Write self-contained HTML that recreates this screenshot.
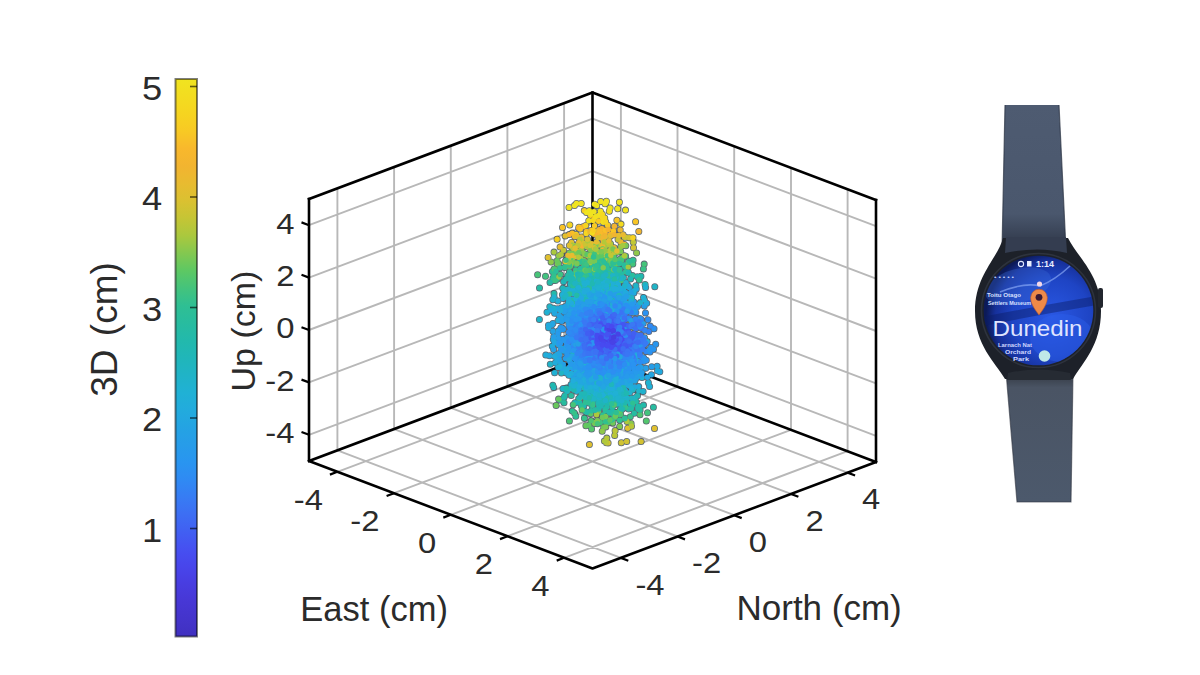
<!DOCTYPE html>
<html><head><meta charset="utf-8"><style>html,body{margin:0;padding:0;background:#fff;}svg{display:block;}svg text{font-family:"Liberation Sans",sans-serif;}</style></head>
<body><svg width="1200" height="675" viewBox="0 0 1200 675" fill="#2b2b2b"><defs><linearGradient id="cb" x1="0" y1="0" x2="0" y2="1"><stop offset="0.0000" stop-color="#f0e420"/><stop offset="0.0312" stop-color="#f3dc20"/><stop offset="0.0625" stop-color="#f6d420"/><stop offset="0.0938" stop-color="#f8c924"/><stop offset="0.1250" stop-color="#f8b82c"/><stop offset="0.1562" stop-color="#f2b430"/><stop offset="0.1875" stop-color="#e8bb30"/><stop offset="0.2188" stop-color="#dac131"/><stop offset="0.2500" stop-color="#c5c535"/><stop offset="0.2812" stop-color="#aac83e"/><stop offset="0.3125" stop-color="#83c850"/><stop offset="0.3438" stop-color="#5dc863"/><stop offset="0.3750" stop-color="#44c37c"/><stop offset="0.4062" stop-color="#2fbf93"/><stop offset="0.4375" stop-color="#28bc9f"/><stop offset="0.4688" stop-color="#22b9ac"/><stop offset="0.5000" stop-color="#20b6b9"/><stop offset="0.5312" stop-color="#20b3c7"/><stop offset="0.5625" stop-color="#20b1d5"/><stop offset="0.5938" stop-color="#22abdd"/><stop offset="0.6250" stop-color="#24a3e3"/><stop offset="0.6562" stop-color="#279ce9"/><stop offset="0.6875" stop-color="#2995f0"/><stop offset="0.7188" stop-color="#2f8af3"/><stop offset="0.7500" stop-color="#377cf4"/><stop offset="0.7812" stop-color="#3d6ef3"/><stop offset="0.8125" stop-color="#415ff2"/><stop offset="0.8438" stop-color="#4650f1"/><stop offset="0.8750" stop-color="#4845eb"/><stop offset="0.9062" stop-color="#483de0"/><stop offset="0.9375" stop-color="#4737d5"/><stop offset="0.9688" stop-color="#4434cb"/><stop offset="1.0000" stop-color="#4030c0"/></linearGradient><clipPath id="scrclip"><circle cx="1038.5" cy="310.5" r="54.8"/></clipPath><radialGradient id="scr" cx="0.62" cy="0.56" r="0.6"><stop offset="0" stop-color="#2a58e4"/><stop offset="0.6" stop-color="#1e44c4"/><stop offset="0.86" stop-color="#16309a"/><stop offset="1" stop-color="#0c1a58"/></radialGradient><linearGradient id="strapT" x1="0" y1="105" x2="0" y2="250" gradientUnits="userSpaceOnUse"><stop offset="0" stop-color="#4e5b71"/><stop offset="0.75" stop-color="#4a576d"/><stop offset="1" stop-color="#2c3445"/></linearGradient><linearGradient id="strapB" x1="0" y1="372" x2="0" y2="502" gradientUnits="userSpaceOnUse"><stop offset="0" stop-color="#30363f"/><stop offset="0.12" stop-color="#4a5464"/><stop offset="1" stop-color="#4c596c"/></linearGradient></defs><rect width="1200" height="675" fill="#fff"/><path d="M337.4 471.8L620.9 365.2M337.4 450.4L620.9 557.9M337.4 450.4L337.4 188.4M309 434.8L592.5 328.3M620.9 365.2L620.9 103.2M592.5 328.3L876 435.8M394 493.2L677.5 386.8M394.1 429.1L677.5 536.5M394.1 429.1L394.1 167.1M309 382.4L592.5 275.9M677.5 386.8L677.5 124.8M592.5 275.9L876 383.4M450.8 514.8L734.2 408.2M450.8 407.8L734.2 515.2M450.8 407.8L450.8 145.8M309 330L592.5 223.5M734.2 408.2L734.2 146.2M592.5 223.5L876 331M507.5 536.2L791 429.8M507.4 386.4L791 493.9M507.4 386.4L507.4 124.4M309 277.6L592.5 171.1M791 429.8L791 167.8M592.5 171.1L876 278.6M564.1 557.8L847.6 451.2M564.1 365.1L847.6 472.6M564.1 365.1L564.1 103.2M309 225.2L592.5 118.7M847.6 451.2L847.6 189.2M592.5 118.7L876 226.2" stroke="#b8b8b8" stroke-width="1.9" fill="none"/><path d="M592.5 92.5L592.5 354.5" stroke="#000" stroke-width="2.6" fill="none" stroke-linejoin="round" stroke-linecap="square"/><path d="M309 461L592.5 354.5L876 462" stroke="#000" stroke-width="2.6" fill="none" stroke-linejoin="round" stroke-linecap="square"/><path d="M609.3 211.2h0M557.1 239.3h0M620.8 241.9h0M569 207.5h0M594.5 225.8h0M574.5 205.6h0M610.1 208h0M605.8 245h0M586.5 231.5h0M590.5 258.6h0M581 249.6h0M585.9 245.7h0M613 255.4h0M605 203.7h0M625.5 210.1h0M576.1 234.5h0M619.7 426.4h0M589.5 274.1h0M563.5 250.2h0M609.4 260.6h0M588.3 255.7h0M581.7 250.1h0M586.5 279.1h0M614.7 435.4h0M557.5 263.7h0M618.1 239.5h0M593.2 251.5h0M609.2 260.2h0M603.6 220.4h0M614.2 247.7h0M645.1 284.4h0M598.2 215.7h0M583.9 266.1h0M593.9 211.6h0M572.1 259h0M625.6 400.9h0M537.6 274.7h0M583 243.4h0M577.3 263.1h0M599.9 301.6h0M611.7 273.3h0M594.1 266.2h0M625.1 266.4h0M560.1 247h0M612.5 411.2h0M593.6 266.3h0M588.8 271.9h0M608.5 391.1h0M603.1 244.3h0M596.4 251.7h0M589.5 294.8h0M594 234.2h0M587.1 262.8h0M600.7 201.5h0M575.2 256.6h0M605.4 400.2h0M592.5 402.2h0M598.7 221.2h0M593.3 264.4h0M605.7 284.1h0M606.5 253.9h0M578.7 398.6h0M616.9 220.2h0M611.6 264.4h0M612.3 285.1h0M640.9 276.2h0M575.3 275.7h0M602.9 237.3h0M601.4 276.2h0M578.9 227.2h0M579.2 243.8h0M592.2 265.2h0M594.8 256.8h0M628.3 273.1h0M609.2 263h0M593.7 389.8h0M539.5 288h0M597.7 279h0M613.8 256.4h0M611.3 391.6h0M625.6 256.2h0M582.2 246h0M630.3 404h0M596.7 205.4h0M569.4 271.7h0M587.9 247h0M563 298.5h0M606.3 277.4h0M586.4 291.3h0M602.6 305.6h0M638.7 386.6h0M605.1 246.8h0M621.6 397.5h0M598.6 391.8h0M608.3 389.7h0M580.7 291.9h0M609.6 398.3h0M620.1 259.2h0M616.3 383.5h0M576.5 250.9h0M591.5 230.3h0M602.1 394.7h0M589.4 444.6h0M603.7 289.9h0M597.2 265.8h0M621.2 404.6h0M592.2 376h0M602.7 417h0M574.5 381.3h0M643.5 405.1h0M600.4 211.3h0M615 403.6h0M612.8 423h0M604.9 288.1h0M579.2 292.3h0M572.8 299.3h0M586.8 242.1h0M609.8 294.4h0M581.7 304.6h0M601.8 371.4h0M577.5 284h0M601.8 229h0M618.8 297.4h0M579.2 379.4h0M571.5 242.5h0M582 296.6h0M616.1 304.7h0M631.7 297.6h0M589.9 302.1h0M586.4 246.5h0M589.1 360.1h0M617.7 277.2h0M610.6 234.4h0M619.8 269.3h0M625.3 394.7h0M606.9 407h0M568.8 290.2h0M579.7 272.6h0M594.7 296.6h0M579.4 290.6h0M616.3 283.7h0M612.4 375.3h0M606.5 283.7h0M608.2 288.2h0M606.7 289.1h0M579.4 262.5h0M591.8 243.7h0M608.1 385.1h0M604.4 267.5h0M577.2 351.8h0M618.1 379.6h0M559.9 400h0M580.8 276.4h0M605 318.5h0M594.6 274.6h0M594.7 376.1h0M583.2 294.8h0M621.3 280.5h0M579.4 376h0M580.8 371.2h0M575 402.8h0M603.5 384.8h0M569.9 259.3h0M611.9 400.5h0M610.2 386.3h0M547 312.2h0M596.5 303.4h0M606 302.2h0M626 293.9h0M569.4 420.9h0M608.4 288.9h0M621.4 273.6h0M632.4 275.5h0M576 379h0M586.7 266.6h0M571.2 357.6h0M577.8 298.7h0M565.6 358.4h0M602.4 283.7h0M595.7 295.2h0M594.6 390.9h0M560.3 361.9h0M602 289.1h0M633.3 242.3h0M611.3 398.8h0M585.5 280.2h0M603.8 387.4h0M579.9 313.2h0M655.7 344.2h0M594.5 204.2h0M618.7 380.7h0M618.7 235.4h0M593.8 294.6h0M585.6 280.9h0M573.6 285.5h0M596.8 360.3h0M572.2 280.5h0M614.5 383.2h0M572 326h0M599.2 279.7h0M602.5 296.9h0M597 366h0M599 383.8h0M623.5 390.7h0M595.2 233.3h0M584.3 210.6h0M582.5 279.1h0M582.4 319.6h0M578.4 272.8h0M582.3 353.8h0M591.2 280h0M551.1 262h0M605.3 294.7h0M567.4 391.1h0M643.9 361.2h0M590.5 300.6h0M613.7 352.6h0M611.2 249.2h0M618 359.5h0M601 260h0M611.8 381.4h0M601.7 289.4h0M597.9 285h0M615.2 416.2h0M593.2 266.6h0M569.6 253h0M627 421.5h0M622.3 257.6h0M605 277.7h0M602.3 394.1h0M602.9 414.9h0M643.1 391.5h0M565 289.4h0M607.7 225.2h0M601.1 360.5h0M599.9 307.5h0M595.3 410h0M611.4 368.3h0M617.6 394.6h0M602.9 332.6h0M598.9 356.2h0M612 288h0M642.6 357.7h0M605.6 287.5h0M629 363h0M626.3 363h0M569.1 274.8h0M565.3 292.8h0M600.5 308.9h0M615.7 286.7h0M633.4 365.7h0M609.5 401.8h0M590 294.4h0M595.3 379.6h0M609 312.5h0M592.4 268.4h0M595.7 250.4h0M639.4 373.3h0M620.7 251.6h0M616.5 322.7h0M578.1 386.7h0M612.2 326.5h0M596.6 301.8h0M616.1 354.3h0M604.4 341.4h0M584.1 293.6h0M582.6 302.9h0M572.3 328.6h0M619.4 273.6h0M567.3 346.3h0M620.3 388.2h0M588.2 242.1h0M600.9 362.9h0M591.6 285.8h0M633.5 341.5h0M591.2 366.2h0M584.2 317.7h0M594.8 367.7h0M606.3 376.6h0M591.3 368.6h0M611.7 380.7h0M608.6 396h0M593.6 324.5h0M611.2 381.4h0M617.5 263.9h0M594.5 364.4h0M599.7 332.4h0M574.9 291.7h0M607.4 305.3h0M591.8 292.4h0M628.6 409h0M606.2 371.4h0M605.1 387.6h0M613.5 381.7h0M599.2 229.6h0M592.8 374.1h0M607.7 297.8h0M598.2 400.6h0M607.5 308h0M606.3 265.2h0M577 367.5h0M599.3 352.2h0M647.5 412.8h0M592.9 306.6h0M584.4 384.5h0M595.2 323.9h0M572.2 245.3h0M591.8 382.5h0M594.2 218.6h0M623.6 365.4h0M607.1 326.7h0M610.7 363.7h0M589.2 382h0M618.8 278.6h0M594.9 320.8h0M623.8 358.6h0M567.7 348.4h0M577.7 335.3h0M629.8 392.6h0M586.8 349.9h0M610.8 395.5h0M583.5 345.2h0M626.9 400.9h0M620 298.1h0M599.9 360.2h0M633.5 247.8h0M602.6 291.2h0M590.1 279.6h0M598.1 316.6h0M592.3 279h0M634.6 341.9h0M590.5 383.8h0M599.7 373.6h0M618.8 330.6h0M553.7 387.4h0M596.6 298.6h0M549.5 355.8h0M616.3 366.7h0M579.5 383.9h0M602.6 325.5h0M591.4 347.5h0M612.6 313.4h0M604.1 346h0M599.9 214.6h0M621.3 365.8h0M590.1 313.4h0M587.4 274.6h0M592 345.1h0M604.9 309.3h0M552.9 278.2h0M619.9 360.9h0M599.1 333.3h0M615 381.5h0M619 295.7h0M577.4 388.5h0M600 320.5h0M645.5 312.9h0M579.9 334.4h0M608.9 355.2h0M619 384.6h0M623.9 374.9h0M585.7 398.4h0M613 284.7h0M585.6 347.7h0M603 294.5h0M613.7 361.6h0M609.5 282h0M600.2 330h0M570.3 318.3h0M624.1 264.9h0M631.3 292.8h0M597.4 331.7h0M584.1 326.7h0M598.7 313.1h0M630.1 312h0M554.7 310.7h0M644.2 344.8h0M619.4 317.4h0M637.4 306.5h0M608.1 381.8h0M632 354.8h0M583.9 357.9h0M608.2 330.8h0M605.8 350.1h0M614.6 385.3h0M587.4 326.4h0M577.7 369.9h0M597.4 338.4h0M593.5 308.9h0M598 389.3h0M631.6 306.1h0M565.8 279h0M576.2 364.7h0M570.7 276.8h0M622.6 330.2h0M625.8 341.8h0M604.4 327.7h0M586.4 334.6h0M596.8 367.5h0M571.9 247.1h0M574.3 245.6h0M622.6 356.5h0M571.1 384.6h0M589.9 326.6h0M602.8 327.8h0M570 304.9h0M573.3 350.2h0M597.5 352.4h0M630.1 381.5h0M602 323.1h0M563 388.7h0M589.4 365.8h0M593.1 357.5h0M637.4 376.7h0M598.4 370.4h0M600.5 401h0M585.7 341.6h0M618.3 329.9h0M594.2 305.5h0M573.6 350.1h0M578.3 304.1h0M616.2 300.8h0M589.1 274.4h0M601.5 234h0M608 289.7h0M607.1 370.1h0M580.8 382.3h0M611.8 270.9h0M592.5 277.4h0M590.5 325.6h0M609.5 338.7h0M607.1 302h0M620.9 365.7h0M580.6 371.1h0M611 309.4h0M590.1 319.7h0M601.7 363.3h0M620.4 370.3h0M601.5 326.2h0M609.2 336.1h0M619.2 250.7h0M588.1 361.3h0M631.8 300.6h0M620.5 327.8h0M606.9 274.7h0M625.3 356.7h0M593.4 320.4h0M552.3 346.3h0M603.2 283h0M606.5 328.7h0M602.9 298.2h0M603.2 339.5h0M586.9 298.9h0M608.5 394.3h0M600.6 237.2h0M583.6 282.4h0M601 351.1h0M580.1 262h0M595 345.5h0M606.1 318.7h0M615.5 271.4h0M576 282.7h0M606.2 326.3h0M614.6 336.9h0M618.6 394.9h0M598.7 280.7h0M611.5 313.7h0M607 288.3h0M599.3 364.9h0M573.1 351.2h0M598.5 411.5h0M602 348.2h0M558.6 330.7h0M588.9 336.9h0M583.9 253.5h0M638.5 367.7h0M627.5 349.1h0M564.5 319.3h0M597.6 305h0M562.5 227.5h0M597.1 337h0M598.8 326.9h0M613.4 343.1h0M630.7 353.3h0M572.8 366.4h0M606.8 296.8h0M646.2 351.4h0M639.8 406.9h0M609.7 378.7h0M593.9 391.8h0M606.2 383.2h0M596.6 414.7h0M627.3 331.2h0M579.1 376.3h0M604.1 321.2h0M601.9 311.2h0M599.9 359.5h0M589.1 403h0M594.3 398h0M613 300.6h0M612.9 405.9h0M620.8 374h0M587.4 337.1h0M604.7 352.9h0M635.3 353.3h0M605.3 311.6h0M628.9 355.8h0M576.4 350.9h0M570.8 311.3h0M611 383h0M590.2 389.8h0M602.5 290.4h0M563.8 351.1h0M631.3 339.8h0M573.3 328.3h0M601.6 368.1h0M588.5 303.8h0M603.9 324.5h0M585 367h0M583.5 351.8h0M575.7 269.9h0M595.5 360.5h0M588.6 373.7h0M608.7 372.9h0M584.5 297h0M617.1 367.2h0M611.5 321.4h0M622 379.5h0M583.9 299.3h0M594.1 375.6h0M572.2 233.1h0M598.9 315.2h0M608.1 442.9h0M627.3 340.7h0M585.9 425.7h0M598.4 356.5h0M620.2 300h0M615.7 311.5h0M619.6 390.8h0M597.1 362.6h0M601.5 358.5h0M618.6 333.5h0M594.3 367.2h0M621.3 410.1h0M577.7 287.5h0M601.2 331h0M599.4 327.5h0M576.2 361.9h0M578.7 289h0M586.1 393.7h0M585.9 285.8h0M606.4 342.4h0M580.4 268.8h0M630 308.3h0M598.5 381.1h0M602.9 252h0M624.9 418.7h0M577.8 334.9h0M569.8 303h0M588.6 312.7h0M602.3 300.9h0M622.4 382.8h0M589.5 290.8h0M613.7 359.3h0M588.4 371.6h0M612.2 363.2h0M603.9 364.1h0M627.9 304.5h0M626 325.4h0M608.6 366.9h0M617.8 324.6h0M574.7 236.6h0M610.3 315.5h0M613.5 290.3h0M615.8 359.1h0M625.2 292.2h0M609.2 360.2h0M587.2 311.4h0M580.7 258.1h0M625.8 385.1h0M593.4 326.2h0M570.7 285.1h0M606.8 365.2h0M607.3 327.9h0M569.1 357.1h0M595.1 301.9h0M617.9 350.2h0M575.5 288.5h0M606 363.8h0M577.2 326.1h0M617.4 314.1h0M606.4 442.7h0M622.1 366.8h0M606.9 399.4h0M609.5 394.7h0M611 333h0M586.4 356.5h0M625.6 362.6h0M593.5 294.6h0M653.5 349.3h0M603.3 357.7h0M627 365.6h0M553 331.2h0M614.9 362.2h0M587.5 278h0M583.3 332h0M583.5 383.2h0M572.4 259.9h0M572.5 283.9h0M607 328.9h0M586.3 339h0M601.8 331.7h0M602.9 269h0M615.4 339.2h0M574.5 350.6h0M623.4 363.6h0M576.5 354.5h0M554 293.5h0M590.2 318.4h0M568.3 303.2h0M605.3 389.7h0M622.9 352.3h0M601.1 279.3h0M608.3 309.1h0M618.4 414.2h0M548.1 257.4h0M578.5 316.6h0M587.5 307.6h0M598.3 356.9h0M593.9 286.1h0M593.6 327.7h0M605.2 286.6h0M618.1 339.9h0M599.5 352.4h0M599.8 373.4h0M608 286.9h0M615.9 294.2h0M617.6 270.7h0M638.4 336.7h0M593.7 341.4h0M633.2 343.8h0M570.3 259h0M599.9 365.4h0M613.8 378.3h0M592.5 350h0M592.8 359.1h0M585.4 338.8h0M605.8 289h0M593.8 383h0M654 328.8h0M564.1 397.3h0M598.3 365.2h0M588.5 330.3h0M607.5 335.7h0M599.7 334.8h0M577.7 361.5h0M578.4 285.1h0M584.1 308.3h0M593.7 355h0M600.5 269h0M585.5 254.7h0M597.5 243.1h0M563.1 329.2h0M589.5 342.6h0M610 384.6h0M608.3 352.4h0M602.3 214.2h0M599.2 325.7h0M586.7 334.2h0M640.6 336.5h0M610.6 258.7h0M608.7 329.7h0M603.4 354.3h0M635.2 397.8h0M612.7 379.7h0M605.1 409.3h0M573.7 352.6h0M570.8 388.6h0M601.8 310.5h0M621.7 325.6h0M591.9 309.6h0M643.7 344.7h0M595.1 390.2h0M578.4 318.4h0M600.5 320.5h0M623.2 399.6h0M552.4 271.5h0M629.2 342.5h0M570.4 266.2h0M589.3 319.5h0M606 370.3h0M603 371.3h0M592.7 359.3h0M654.8 286.8h0M630.4 384.3h0M606.4 347.8h0M618.2 338.9h0M604.4 441.1h0M616.7 342.2h0M608.1 298h0M595.5 380.6h0M650.9 347.4h0M594.9 347.4h0M566.5 342.7h0M631.2 353.4h0M616.1 369.6h0M609.1 329.8h0M608 388.5h0M606 264.9h0M615.1 327.9h0M598.7 245h0M567.2 297h0M606.3 347.5h0M624.1 349.8h0M619.5 373.7h0M612 370.6h0M632.8 264h0M600.3 270.8h0M608.7 369.4h0M577.5 253.6h0M574 320.1h0M635.9 342.8h0M611.7 377.2h0M598.3 252.3h0M627 350.2h0M598.1 376.5h0M615.6 308.3h0M580.9 339.7h0M582.1 381.1h0M603.9 321.5h0M604.1 355h0M570.7 363.1h0M611.1 347.9h0M592 405.6h0M576.4 303.6h0M605.6 282.6h0M597.6 320.9h0M576.4 298.6h0M585.4 316.5h0M614.3 252.3h0M613 272.6h0M606.3 386.9h0M550.3 364.3h0M609.2 395.5h0M617.2 346.3h0M618.7 306.6h0M624.9 286.8h0M605.7 347.6h0M587.1 360.6h0M617.3 326.8h0M612.5 337.3h0M613.8 267.1h0M599.7 314.3h0M580.7 363h0M605.9 293.9h0M597.3 231.1h0M637.2 361h0M570.9 264.4h0M597.5 340.6h0M615 333.1h0M611.4 305.9h0M611.9 394.8h0M616.9 338.8h0M593.6 263.9h0M591.5 295.8h0M602.8 359h0M635 380.4h0M588.6 335.7h0M589.2 400.4h0M586.8 371.6h0M605.2 346.2h0M614 382h0M626.6 335.2h0M570.4 284h0M619.5 362.9h0M620.9 376.8h0M610 338.2h0M605.8 270h0M602.8 350.1h0M610.4 270.6h0M625.7 302.6h0M599.6 381.5h0M567.9 289.3h0M608.3 340.5h0M629.3 287.6h0M600.4 268.5h0M584.1 260.6h0M601.2 345.9h0M629.2 326.3h0M581.8 305.3h0M562.9 329.3h0M611.2 289.7h0M583.8 369.2h0M602.2 371h0M599.8 401.6h0M613.8 356.8h0M614.7 250.3h0M599.4 344.1h0M610.9 311.2h0M586.2 285.3h0M621.4 310.1h0M569 298.5h0M575.9 307.3h0M603.4 240.8h0M603.7 427.2h0M595.2 361.1h0M578.7 228h0M607.3 355.8h0M587.9 355h0M628.4 297.1h0M594.9 334.4h0M607.1 308.5h0M553.3 339.5h0M555 342.8h0M588.8 220.8h0M641.8 340.2h0M618.1 316.1h0M589 348.3h0M590.6 413.8h0M628.4 350.1h0M598.5 385.4h0M611.3 296.6h0M604.4 317.4h0M621.2 399.7h0M626.3 375h0M592.9 304.6h0M600.7 323.6h0M618.3 261.2h0M591.4 271h0M614.5 344.4h0M624.6 359.2h0M615.3 343.3h0M625.6 319h0M599.3 279.8h0M562.2 348.8h0M615.5 310h0M587.1 368h0M585.9 369h0M594.5 307h0M571.9 366.6h0M623.2 369.6h0M626.3 364.3h0M585.7 268.3h0M593.9 316.6h0M593.2 344.8h0M596.3 302.2h0M620.5 302.1h0M586.2 371.1h0M623.6 330.1h0M632.8 339.8h0M622.2 346.7h0M601.3 319.4h0M629.7 380.4h0M597.4 294.2h0M613.7 350.3h0M598.8 354.1h0M594.4 398.3h0M575.5 316.5h0M592.5 369.5h0M606.6 348.8h0M586.7 358.6h0M635.5 371.8h0M590.4 363.1h0M596.7 345.2h0M578.9 280.2h0M598 344.9h0M601 288.8h0M607 341.8h0M601.6 254.7h0M573.1 288.8h0M614.7 274h0M629.5 345.6h0M593 343h0M624.2 364.3h0M632.1 380.5h0M596.2 291.1h0M625.5 335.2h0M599.3 354.5h0M577.6 321.5h0M653.4 407.3h0M598.4 325.9h0M611.7 308.7h0M600.2 350h0M602.8 320.1h0M602.6 246.2h0M587.8 351.3h0M599.6 273.8h0M599.1 371.7h0M617.4 346.5h0M600.2 349.1h0M591.7 375.4h0M638.8 391.1h0M598.7 338.7h0M603.3 222.2h0M597.4 326.7h0M633 301.8h0M628.4 348.4h0M625.2 390.5h0M589 356.4h0M583.8 406h0M602.6 373.5h0M614.1 314.9h0M561.4 307.7h0M611.2 379.1h0M621.5 275.6h0M599.2 354.7h0M609.3 323.3h0M595.6 262.4h0M608.7 370.7h0M576.4 355.4h0M619.7 384.4h0M588.1 354.2h0M612.4 350.5h0M588 347.4h0M621.2 296.9h0M621.4 288.7h0M576.7 342.7h0M586.5 323.8h0M641.9 343.4h0M623.9 402h0M598.8 369.6h0M600.2 349.6h0M623 352.1h0M625.6 393h0M602.4 367.2h0M603.5 352.8h0M596.3 373.4h0M599.6 329.9h0M639.2 345.3h0M599.7 324.7h0M610.5 361.8h0M613.8 374.7h0M638.4 304.7h0M616.5 313.8h0M610.5 236.1h0M578 321.2h0M573.2 365.1h0M591.8 370.4h0M575.8 365.3h0M596.8 342.9h0M618.5 337.8h0M539.4 319.4h0M633.7 388.2h0M642 377.6h0M605.9 380.8h0M586.7 324.5h0M604 285.6h0M637.8 339h0M618.7 299.2h0M606.6 365.8h0M580.3 331.4h0M592.8 405h0M604.5 399.5h0M618.3 358.1h0M598.3 348.9h0M622.3 367.9h0M640 414.7h0M619 291.2h0M601.6 380.4h0M617.8 404h0M599.1 391h0M620.6 414.4h0M589.2 340.6h0M577.9 364.2h0M588.7 335.3h0M639.7 344.2h0M602.9 273.2h0M586.2 233.4h0M603.4 388.1h0M587.2 332.7h0M585.5 326.1h0M642.7 339.9h0M600.5 336.8h0M612.7 312.8h0M601.9 320.4h0M569.8 225h0M607 340.9h0M597.2 420.9h0M598.9 340.7h0M597.8 344.4h0M579 382.3h0M621.5 260.3h0M598.1 354.1h0M595.7 356.3h0M565.8 266h0M611.7 369.3h0M605.3 294.2h0M607.2 370.6h0M615.2 374.7h0M647.2 341.6h0M601 347.1h0M605.4 341.5h0M571.1 336.2h0M609.9 338.9h0M636.4 374.1h0M633.5 358.2h0M602.5 351.8h0M624.8 331.7h0M603.9 356.8h0M635.2 356.3h0M601.6 361.6h0M612.2 348.2h0M579.6 376.2h0M601.8 324.7h0M597.8 361.4h0M559.2 359.1h0M573.2 248.5h0M616 368.3h0M612.2 326.5h0M597.9 391.4h0M580.7 269.1h0M627.3 310.3h0M569.7 273.1h0M606.8 365.5h0M597.9 322.4h0M563.1 367.6h0M581.2 203.5h0M594.4 356.3h0M581.4 342.4h0M630.3 416.7h0M621.8 382.5h0M602.6 362.4h0M577.4 384.2h0M581.8 304.2h0M563 370.2h0M598.9 299.8h0M603.7 338h0M607.6 305.6h0M631.5 339.9h0M586.8 387.2h0M604.3 343.8h0M612.7 419.1h0M614.2 301.2h0M627.7 353.7h0M608.8 391.7h0M592.8 328.8h0M577.9 361.8h0M569 326.3h0M614.2 290.8h0M611.4 326.2h0M591 290.9h0M597 376.6h0M620.5 321.3h0M624.8 418.2h0M594.3 312.1h0M587.1 322.9h0M583.4 302.6h0M644.3 306h0M572.8 289.7h0M587 345.3h0M617.4 292.7h0M584.9 303.5h0M575.8 236.4h0M604.6 274.6h0M568.9 340h0M584 350.3h0M579.2 299.7h0M586.4 390.9h0M589.4 270.2h0M582.3 394.9h0M614.8 336.3h0M620.6 346.4h0M595.3 337.3h0M554.6 313.2h0M633.1 341.9h0M589.1 369.6h0M626.9 345.4h0M626.2 373.1h0M583.1 272.5h0M577.8 283.9h0M621.1 383.7h0M602.7 361h0M602.3 351.2h0M610.7 316.8h0M617.4 356.8h0M609.1 293.7h0M593.3 379.9h0M610.6 256.7h0M595 249h0M610.3 395h0M640.2 375.4h0M602.5 274h0M604 335h0M617.5 252.2h0M599.1 388.9h0M589.5 298.5h0M620.6 365.1h0M588.8 331.3h0M589.5 338.8h0M572.7 345.6h0M614.7 351.1h0M606.4 324.4h0M588.2 360.6h0M568 308.6h0M565.9 317h0M605.1 233.4h0M604.3 336.1h0M586.3 275.5h0M612.9 326.9h0M609 325.5h0M604.2 353.2h0M603.1 385.8h0M596.8 327.7h0M606.8 281.1h0M615.1 305.4h0M610.1 315.4h0M581.1 396.7h0M620.3 409.6h0M595.5 373.7h0M606.7 375.9h0M616 352.4h0M603.3 307.4h0M583.5 310.4h0M619.3 308.4h0M590.4 377.6h0M591.6 314.8h0M609.7 369.3h0M581 328.6h0M554.8 269.3h0M600.7 344.8h0M577.1 330.3h0M583.8 357.1h0M572 375.9h0M613.2 342.5h0M620.9 348.6h0M613.3 372.8h0M615.4 277.5h0M586.4 390.2h0M610.2 324.7h0M623.6 403.7h0M577.7 279.8h0M583.8 286.5h0M606.8 438.1h0M601 355.3h0M589.2 279.1h0M600 371.7h0M621.5 357.4h0M607 398h0M585.2 272.9h0M592.5 363.2h0M585.2 358.7h0M619 400h0M585.6 268.6h0M618.8 319.2h0M612.3 370.4h0M595.6 272.6h0M599.2 320.4h0M608.2 330.3h0M601.6 319.5h0M624.2 390.5h0M557.9 367.4h0M615.3 343h0M574.6 262.8h0M616.5 371.5h0M626.6 329.5h0M584.2 342h0M619.6 305.7h0M637.9 353.6h0M581.5 261.1h0M580.6 385.5h0M608.8 327.2h0M605.6 376.8h0M577.4 359.5h0M587.1 307.4h0M611.9 362.9h0M619.3 320.3h0M601.8 341.7h0M582.5 339.6h0M639.6 346.9h0M579.6 357.8h0M562.9 339.2h0M601.3 377.5h0M618.2 373.2h0M585.9 347.5h0M620.5 318.1h0M576.3 315.8h0M604.1 263h0M611 345.8h0M582.6 286.5h0M585.8 376.3h0M610.4 356.3h0M592.2 295.1h0M589.9 231.8h0M593.7 253.9h0M588.4 364.8h0M577.2 316.7h0M594.3 336.2h0M603 317.3h0M572.6 366.9h0M583 276.5h0M565.8 347.2h0M601.9 358.6h0M586.2 382.4h0M571.5 340.5h0M613.5 387h0M623.4 277.8h0M626.6 335h0M610.3 373.8h0M604.1 374.9h0M599.8 267.4h0M604.7 278.8h0M586.7 352.9h0M593.2 220.4h0M612.3 354.9h0M607.3 364.9h0M594.9 315.1h0M605.5 252.1h0M599.2 296.8h0M595.3 358.1h0M623 338.7h0M610.9 330h0M597.3 292.9h0M611.4 349.2h0M589 301.9h0M649.6 386.6h0M605 259.1h0M597.4 301.7h0M609.6 336.5h0M583.8 355.6h0M613.7 330.4h0M593.9 280.7h0M614 331.5h0M603.9 326.5h0M604.7 418.5h0M602.3 376.3h0M579.2 355.9h0M609.3 378.7h0M599.8 326.4h0M633.8 369.7h0M609.8 276.3h0M602.9 313.8h0M609.7 339.4h0M605.6 318h0M583.6 226.5h0M595.7 352.1h0M607.4 359.9h0M575.2 307.1h0M585.9 340.9h0M610.6 244h0M585.4 297.8h0M602.9 387.7h0M593.1 364.7h0M593.3 351.1h0M599.1 367.6h0M597.8 370.9h0M607.2 320.8h0M592 305.8h0M615 340.8h0M593.9 385.4h0M632.6 342h0M582.3 323.6h0M570.3 292.3h0M583.2 336.6h0M613.8 386.9h0M594.1 376.1h0M590.5 215.2h0M612.8 296.6h0M576.1 303.5h0M594.9 276.7h0M610.3 380.9h0M621.7 370.3h0M590.2 282h0M592.4 353.6h0M603 394.1h0M633.3 306.6h0M602.2 336.2h0M589.8 290.2h0M603.1 370.3h0M593.8 311h0M594.6 303.2h0M598.4 325h0M588.5 287.9h0M625.4 407.3h0M601.4 329.6h0M618.1 399.6h0M573.2 293.4h0M591.8 341h0M606.2 403.3h0M622.4 397.9h0M610.3 339.1h0M596.5 293.6h0M598.1 367.8h0M613.8 298.6h0M596.2 355.9h0M604.5 288.6h0M575.8 416.2h0M595.6 361.4h0M613.4 402.8h0M580.9 334.1h0M608.2 422.6h0M604 320.2h0M624.8 332.4h0M611.1 341.8h0M644.5 337.7h0M587 254.5h0M592.1 333.2h0M557.9 333.8h0M590.5 349.6h0M613.3 277.2h0M613.8 372.5h0M573.8 341.9h0M610.5 336.1h0M596.1 352.3h0M567.2 305.7h0M605.9 202.7h0M573.2 356h0M596.8 304.4h0M637.3 276.8h0M566.9 337.8h0M585.8 309.7h0M645.8 343.3h0M590.5 349.5h0M615.4 300.6h0M611.1 277.6h0M600.3 392.8h0M593.4 382.6h0M613.1 336.1h0M608.3 365.9h0M595.4 350.1h0M595.2 340.8h0M603.3 349.3h0M595.1 399h0M603 345.9h0M626.8 369.4h0M599.2 385.3h0M604.7 320.4h0M582.4 281h0M614.4 314.6h0M610.7 394.3h0M624.5 237.2h0M584.3 336.5h0M586.2 378.9h0M632.2 324.6h0M613 362h0M588.5 372h0M588.9 288h0M590.6 281.3h0M640.4 302.6h0M585.5 333.3h0M622.1 371.6h0M620.8 246.8h0M626.1 293.2h0M564.8 395.8h0M617.5 334.2h0M601.8 374.4h0M615.7 375.2h0M571.5 306.9h0M580.6 293h0M598.6 330.1h0M595.1 321.2h0M591.9 253.3h0M616.8 282.8h0M612.5 328.1h0M605.2 352h0M605.4 397.6h0M622.8 390.5h0M583.5 329.1h0M617.5 375.6h0M612.2 407.3h0M598.9 336.3h0M599.1 347.7h0M587.7 377h0M585.1 244h0M594 286.9h0M604.9 328.4h0M548.6 327.8h0M605.5 297.9h0M595.2 275.4h0M606.9 367.2h0M643.4 268.9h0M598.2 346.8h0M610.2 245.3h0M591.3 271.6h0M589.8 336.7h0M595.3 308.9h0M594.1 321.2h0M583.4 289.7h0M636.1 356.3h0M554.1 268.9h0M607.4 369.2h0M584.7 293.6h0M639.4 350h0M634.5 346.2h0M604.2 294.7h0M595 388.5h0M612.5 307.7h0M611.1 333.1h0M584.4 266h0M608.1 340.8h0M615.3 379.7h0M599.7 324.3h0M637.8 338.5h0M603.6 343.4h0M596.2 359h0M580.6 274.2h0M612.9 338.3h0M618.8 319.6h0M615.2 354.4h0M612 369.6h0M586.1 311.8h0M564.9 267.6h0M564 402.7h0M585.2 307.4h0M630.4 352.4h0M581 355.7h0M634.9 324.5h0M600.3 422.5h0M599.1 347.3h0M579.9 353.7h0M615.5 272.2h0M620.2 341.7h0M602.3 319.2h0M602 398.4h0M625.9 305.2h0M620.5 375.7h0M609.6 314h0M554.2 341.7h0M619.9 348.2h0M596.2 368.7h0M575.9 281.2h0M598.1 328.3h0M617 361.7h0M584 261.5h0M602.6 287.5h0M578.4 324.4h0M589.6 363.7h0M580.5 301.7h0M578.8 285.8h0M564.2 312h0M597.8 350.5h0M576.5 203.5h0M587.8 346.7h0M564.8 306.7h0M613.6 380.6h0M598.6 361.1h0M637.5 395.7h0M608.3 272.8h0M606.8 382.4h0M615.5 349.2h0M645.2 285h0M624.4 346.7h0M581.2 305.8h0M629.3 364.7h0M624 349.1h0M611 337.8h0M592.8 346.4h0M585.5 355.7h0M603.3 281.9h0M611 343.8h0M585.7 383.8h0M621.1 332.1h0M560.9 327.7h0M602.7 327.1h0M558.1 320.4h0M586.9 339.4h0M560.8 348.1h0M594.1 269h0M604 374.5h0M585.7 342.2h0M587.9 339.2h0M617.9 399.7h0M575.8 367.5h0M583.5 311.5h0M608 330.5h0M581.2 299h0M618.9 383.2h0M593.3 269.6h0M595.4 334.1h0M611.2 337.7h0M574 327.5h0M601.3 340.8h0M557.5 308.8h0M606.2 336.2h0M582.2 359.7h0M607.1 336.9h0M568.6 266h0M613.4 350.5h0M570.1 374.6h0M628.2 267.1h0M627.1 369.5h0M591.3 293.3h0M580.1 292.2h0M587.9 331h0M600.1 272.7h0M591.9 365h0M628.7 348.4h0M558.5 263.8h0M587.4 357.8h0M606.9 377.7h0M604.7 218h0M604.7 355.1h0M641.1 441.6h0M593.5 312.3h0M580.3 331h0M618.9 375.4h0M613.1 330.6h0M558.7 255.8h0M597 338.3h0M558.6 344.8h0M583.6 342.9h0M596 346.2h0M609.1 355.1h0M597.5 326.9h0M639.2 279.9h0M602.5 340.4h0M578 323.4h0M608.8 403h0M651.7 366.7h0M625.5 363.2h0M616 377.2h0M605.6 221.8h0M602.1 353.3h0M585 357.4h0M574.8 385.3h0M592.5 352.2h0M569.5 310.7h0M597.3 253.7h0M612.1 360.2h0M599.8 356h0M598.3 342h0M599.2 389.2h0M593.8 355.4h0M586.8 317.2h0M596.9 264.8h0M559.9 267.9h0M587.9 342.1h0M581 330.8h0M596.9 335.6h0M595.2 397.5h0M603.1 235.5h0M598.9 355.3h0M580.4 353.9h0M581.9 238.7h0M608 360.4h0M625.7 271.7h0M594.2 362.7h0M609.1 332h0M568.3 261.3h0M615.2 328h0M619 348.7h0M593.3 318.9h0M606.7 306.9h0M595.1 304.1h0M634.2 361.5h0M618.7 286.6h0M586.6 331h0M577.1 319.7h0M650.2 326.1h0M569.8 279.2h0M583.2 296.7h0M614.7 358.1h0M607.7 337.7h0M592.6 327.4h0M587.6 392.1h0M618.2 373.1h0M622.5 333.3h0M615 398.1h0M558.6 399.1h0M581.6 359.6h0M588.7 345.2h0M644.7 330.2h0M576.9 363.6h0M590.3 296.2h0M607.7 385.4h0M606.1 349.7h0M605.6 304.7h0M615.8 330.1h0M597.8 329.3h0M593.4 334.4h0M625.4 318.3h0M585.7 263.4h0M569.4 341.1h0M572.2 316.6h0M592.7 305.4h0M611.9 269.8h0M603.8 401.7h0M635.6 336.8h0M610.5 344.5h0M600 277h0M578.5 358.3h0M587 385.2h0M591.1 331.5h0M604.8 355.3h0M612.7 289.7h0M589.6 275.3h0M612.3 340.5h0M611.9 279.4h0M589.3 368.3h0M582.1 336.6h0M613.9 269.7h0M572.5 323.9h0M631.5 379.8h0M589.6 370.6h0M608.1 370.7h0M591.4 345h0M625.9 342.5h0M585.9 263.2h0M591.7 396.2h0M574.7 363.9h0M614.3 303.6h0M566.4 372.9h0M642 372.7h0M606.4 326.6h0M582.7 347.1h0M619 352.7h0M613.9 323.5h0M608.2 352h0M591.5 359.2h0M615.6 271.9h0M609.2 304.6h0M607.4 309.8h0M590.2 347.7h0M584.4 375.9h0M595.5 264.4h0M586 353.1h0M576.6 391.2h0M611 304.5h0M599.7 232.4h0M619.5 385.2h0M612.8 320.7h0M607 338.6h0M635.8 312.4h0M629.3 317.9h0M643 338.2h0M576.9 335.1h0M621.6 350.8h0M612.5 274.9h0M617.6 345.4h0M609.2 377.8h0M580.3 346.2h0M592.6 343.9h0M602.4 259.1h0M621.2 289h0M613.5 340.7h0M638.9 409.6h0M597.9 313.4h0M594.7 422.8h0M581.9 374.9h0M597.7 344.7h0M628.1 318.7h0M564.7 267.3h0M586.6 350.3h0M620.2 303.8h0M613 324.4h0M582.1 375.3h0M600.5 284.5h0M607.9 340.6h0M621.1 371.9h0M592.2 317.1h0M626 375.5h0M587.3 352.1h0M581.3 293.2h0M599.6 275.5h0M623.5 371h0M638.9 344.1h0M607.5 361.2h0M606.4 324.2h0M640.3 350.4h0M600.2 311h0M621.2 382.1h0M572.2 411.1h0M599.3 379.5h0M568.2 318.9h0M607.1 392.4h0M604.7 255.8h0M556.9 355h0M616.8 323.4h0M618.7 380.6h0M597.4 398.1h0M584.6 353.7h0M570.4 275.8h0M598.4 287.9h0M599.4 384.3h0M581.6 318.9h0M572.2 317.5h0M588.7 360.9h0M615.2 272.5h0M619.2 351.3h0M599 261.5h0M595 307.1h0M619 381.5h0M600.5 352.4h0M605.8 337h0M626.1 335.6h0M592.4 335.7h0M586.4 337.3h0M580.1 319.2h0M613.4 230.9h0M598.1 354.7h0M590.8 374.1h0M607.5 359.1h0M574.5 374.2h0M599.3 360.3h0M576.7 235.8h0M583.1 342.1h0M608.8 358.9h0M601.1 330.7h0M588.8 337.9h0M623.5 390.4h0M580.2 312.3h0M589.1 309.2h0M610.5 358.8h0M595.8 373.1h0M620 367.6h0M617.1 364.7h0M579 292.1h0M589.7 357.3h0M606.4 380.2h0M608.1 348.2h0M593 382.7h0M605.4 380.9h0M599.8 300.6h0M605.9 313.2h0M586.1 303.7h0M604.6 254.2h0M598 403.1h0M591.2 293h0M581.4 370.9h0M605.3 361h0M587 287.4h0M584 315.2h0M610.8 394h0M584.9 367.6h0M605.3 384.3h0M605.6 318.5h0M573.6 301.4h0M590.2 258.8h0M608.7 292.6h0M615.3 276.2h0M595.8 263.7h0M576.2 264.4h0M616.3 324.1h0M598.8 236.3h0M610.7 260.2h0M577.6 275.5h0M584.5 359h0M583.1 277.1h0M598.6 293.5h0M630.6 350.7h0M586.3 357.3h0M611.6 420h0M611 384.9h0M592.8 340.1h0M596.7 309.1h0M601.6 259.6h0M596.3 354.9h0M604.6 354.5h0M610.8 349.5h0M603.1 355.4h0M592.7 328.2h0M577.5 371.4h0M591.8 334.1h0M613.6 414.6h0M632.9 351.2h0M601.4 278.8h0M625 354.9h0M604.5 358.3h0M607.7 360.6h0M613.9 305.9h0M616.4 359h0M604.4 329.1h0M591.6 315.8h0M591.4 330.3h0M631.3 373.9h0M573.6 348.7h0M603.8 350.8h0M632.4 340.8h0M610.9 378.5h0M635.1 338.3h0M601.3 340.8h0M617.6 372.5h0M593.9 315.3h0M596.5 293.5h0M600.5 331.9h0M622.1 371.2h0M641 328.3h0M624 360h0M598.5 335.8h0M584.1 388.1h0M626.1 344.5h0M551.7 325h0M610.4 354.9h0M586.4 346.6h0M603.9 350.7h0M597.2 353h0M583.3 342.3h0M613.1 394h0M621.1 381.5h0M580.3 229.1h0M596.7 312.3h0M627.8 358.2h0M574.4 314.5h0M595 273.7h0M600.8 361.1h0M594.1 367.9h0M617.7 362.5h0M606.2 338.9h0M585.8 353.4h0M597.8 391.9h0M613.7 305.4h0M620.5 341.1h0M620 320.5h0M631.3 377.1h0M600.7 326h0M609.4 354h0M602.8 302.9h0M603 379.8h0M576.1 300.8h0M615.2 334.8h0M643.2 323.6h0M588.8 425.2h0M589.1 331.1h0M629.2 237.8h0M580 345.6h0M616.3 269.1h0M623.3 347.9h0M617.7 208.7h0M594.5 369.3h0M605.7 313.4h0M618.2 284.1h0M635.1 309h0M561.7 321.3h0M612.2 347.4h0M574.1 299.7h0M600.8 323.4h0M604.6 335.6h0M621.4 355.9h0M611.4 357.7h0M609.1 346.7h0M612.4 291.5h0M612.4 348.3h0M609 296.5h0M634.4 327.5h0M562.4 294.8h0M598.3 272.2h0M616.7 363.8h0M625.6 237.3h0M628.8 350.6h0M607 336.9h0M583.1 363.8h0M572.6 330.6h0M577.9 273.8h0M583.1 314.4h0M626.5 369.3h0M636.3 289.1h0M603.5 320.2h0M578.9 252.5h0M611.3 362.5h0M572.9 253.6h0M592.4 232.9h0M588.6 319h0M596.7 280.5h0M606 275h0M638.7 349.2h0M573.4 300.2h0M595.2 333.9h0M586.6 388.1h0M612.9 262.9h0M609 352.3h0M634 308h0M614.3 234.7h0M637.2 371h0M590.3 298.3h0M603.2 330.7h0M603.4 373h0M596.7 354.8h0M572.7 304.3h0M584.6 303.6h0M599.6 354.9h0M562.8 288.3h0M622.2 387.3h0M586.3 375.3h0M576.7 335.8h0M623.9 307.5h0M557.1 279.2h0M593.5 271.1h0M613.6 314h0M604.5 291h0M623.9 331.6h0M593.9 344.2h0M590.7 350.7h0M615.4 353.7h0M637 346.3h0M619.7 411h0M616 368.8h0M617.2 307.5h0M589.5 349.8h0M557.1 359.5h0M609.2 334.3h0M593.1 317.5h0M599.8 343.4h0M600 363.4h0M566.7 318.3h0M604.1 351.5h0M582.7 363.9h0M584.3 360.1h0M612 378.9h0M601.8 228.6h0M623.7 376.2h0M594.9 264.1h0M608.2 336.9h0M579 353.6h0M623 377.1h0M590.5 291.3h0M598.8 338.4h0M579 389.2h0M575.3 285.3h0M562.3 328.2h0M602.9 306.6h0M596.3 355.9h0M552.9 323.5h0M626.5 373.2h0M593.6 383.7h0M623.5 378.2h0M597.3 298.9h0M619.9 344.9h0M641.3 319.5h0M593.9 302.8h0M611.7 330.1h0M614 346.2h0M605.4 317.9h0M578.9 337.4h0M590.7 365.1h0M587.6 309.7h0M621.9 320.9h0M569.2 234.6h0M609.5 298.1h0M625.3 350.5h0M606.2 325.5h0M565.5 370.8h0M607.2 375.7h0M625 341.2h0M593.2 319.7h0M602.5 248.7h0M590.6 314h0M604.9 304.1h0M578.2 305.4h0M587.2 332.1h0M572.8 354.6h0M601.7 266.9h0M605.7 365h0M603.3 358.5h0M607.5 349.1h0M598 321.8h0M596.3 303h0M587.7 347.1h0M582.1 333.7h0M568.7 258.1h0M597.6 343.9h0M599.6 400.8h0M608.8 368.7h0M604.8 332.3h0M585.5 277.2h0M607 339h0M612 373.9h0M633.1 312.3h0M564 291.4h0M580.4 364.5h0M591.9 311.4h0M601.2 289.6h0M621.2 375.7h0M605.9 351.7h0M587.6 350.8h0M599.7 304.5h0M621.5 278.9h0M572 255.5h0M553.6 349.5h0M593.3 279.8h0M626.2 306h0M607.9 304.8h0M604.4 344.1h0M590.3 255.5h0M619.1 353.6h0M592.3 366.5h0M563.6 281.7h0M580.1 355.2h0M567.3 352.5h0M607.2 279.3h0M609.8 276.8h0M621.7 388.1h0M605.9 342.4h0M608.2 349.5h0M553.1 280.4h0M611.1 331.4h0M581.3 236.9h0M619.7 420.3h0M597.2 368.9h0M583 339h0M604 362.9h0M614.7 341.4h0M641.1 349.3h0M573.1 346.3h0M616.1 336.9h0M615.9 263.8h0M638.2 406.7h0M620 369.7h0M586.8 378h0M597.1 269.8h0M573.6 283.3h0M593.7 367.7h0M580.3 269.7h0M554.7 356.2h0M600 328.5h0M613.1 372.3h0M572.9 285.8h0M602.3 332.8h0M591 374.1h0M600.7 291.9h0M604.9 327.2h0M613 363.3h0M585.5 352.4h0M617.2 311.4h0M592.1 354.3h0M603.8 299h0M648.8 331.6h0M621 357h0M590.4 269.2h0M639.8 318.5h0M597.6 323.6h0M598.9 335h0M614.8 350h0M595.2 320.4h0M599.7 313.3h0M584.2 357.2h0M577.1 281.8h0M616.2 347.6h0M586.5 323.2h0M598.5 359.3h0M601.4 345h0M556.1 405.4h0M612.4 330h0M589.5 346.1h0M646.3 360.2h0M595.2 342h0M613.8 361.3h0M569.4 367.4h0M608.2 367.8h0M579.5 363.2h0M598.6 382h0M634.6 386.9h0M573.9 274h0M597.7 267.4h0M587.4 319.7h0M628.2 335.2h0M598.6 315.3h0M571.2 349.1h0M593.7 318.7h0M580.2 356.2h0M574 346h0M617.1 338.1h0M601.5 332.7h0M617 286h0M638.2 350.1h0M599.1 283.2h0M601 357.7h0M593.7 301.4h0M598.9 361.5h0M609.5 341.6h0M589.4 352.9h0M630.4 379.9h0M602.2 353.8h0M625.2 295.7h0M585.5 314.4h0M584.4 418.2h0M567.9 255.4h0M569.4 245.5h0M624.4 244.5h0M622 353.2h0M628 360.1h0M592.8 364.8h0M563.3 364.4h0M595.6 265.7h0M599.2 296.2h0M605 341.7h0M620.9 363.8h0M586.5 386.3h0M603.9 326h0M608.6 372.3h0M574.5 282.7h0M614.9 268.6h0M612.5 338.9h0M608.7 354.8h0M621.6 383.2h0M608.2 350.1h0M597.1 289.9h0M624.1 357.2h0M594.9 301.5h0M613.4 355.2h0M610.1 321.3h0M586.7 351.8h0M612.1 342.5h0M594.7 271.6h0M633.9 293.1h0M619.1 369.3h0M621 374h0M596.2 343.6h0M611 298.4h0M647.9 319.7h0M621 326.8h0M604.6 254.6h0M622.8 357.6h0M607.5 273.4h0M611.4 402.6h0M587.3 305h0M583.9 307.3h0M597.8 278.6h0M635.5 323.4h0M606.7 369.2h0M598.8 287h0M573.9 390h0M614.6 417.7h0M632.1 312.6h0M620.4 357.1h0M604.3 338.2h0M609.4 271.6h0M603.2 337.2h0M617.4 294.6h0M606.6 265.6h0M614.8 391.8h0M581.7 370.8h0M614.6 336.4h0M585.6 411.8h0M571.1 324.9h0M611.9 331.4h0M604.9 330.6h0M566.9 354.6h0M605.6 421.9h0M593.5 352.4h0M592.8 327.8h0M586.9 337.6h0M602.9 296.2h0M618.2 322h0M585.1 344.1h0M613.6 332.2h0M607.4 333.9h0M597.3 354.8h0M622 369.9h0M566.9 391.2h0M634.3 380.9h0M610.9 379.3h0M575.6 246.1h0M574.2 330.9h0M598.5 390.2h0M588.3 400.9h0M586.4 400.8h0M621 346h0M590.1 358.1h0M596.4 286.4h0M630.9 311.9h0M596.8 250.7h0M591.6 288h0M645.6 287.4h0M636.2 401.7h0M549.8 306.8h0M643.8 358h0M618.5 389h0M591.2 300.3h0M578.7 351.6h0M643.9 339.4h0M621.8 360.5h0M580.2 353.2h0M614.6 348.7h0M596 339.9h0M573.9 304h0M554 275.4h0M618.1 328.5h0M595.6 339.4h0M579.9 239.2h0M654.5 428.5h0M614.8 388.5h0M579.5 402.7h0M622.5 408.9h0M605.1 355.3h0M591.8 318.2h0M590.6 386.7h0M597.8 354.9h0M589.3 210.8h0M637.8 361.8h0M605.5 410.9h0M635.9 328.3h0M606.8 340h0M575.6 329.1h0M563 295.2h0M620.2 294.4h0M598.3 309.6h0M617.2 332.6h0M587.2 359.9h0M598.4 322.6h0M587.1 374.7h0M578.5 294.6h0M601.4 263.6h0M618 329.3h0M615.3 357.9h0M628.1 262.3h0M597.9 262.8h0M594.4 298.6h0M601.8 372.4h0M597 300.2h0M600.7 376.1h0M579.7 347.6h0M600.7 344.9h0M601.5 389.7h0M614.8 403.7h0M616.7 328.1h0M582.9 359.8h0M590.6 287.3h0M602.5 348.3h0M594.1 346.8h0M602.2 276.4h0M636.9 335h0M625.2 297.2h0M589.8 304.8h0M567.1 345.3h0M581.8 277.3h0M607.9 285.7h0M595.3 393.6h0M602.5 269.8h0M594.8 248.1h0M613.5 317.1h0M617.7 346.5h0M617.2 305.6h0M573.4 368.9h0M640.1 362.2h0M579.7 285.3h0M594.7 273.2h0M612 398.8h0M582.4 382.1h0M632.8 389.9h0M614.1 362.4h0M612.9 293.8h0M618.5 366.1h0M610.7 375.4h0M623.8 384h0M610.7 374.3h0M604.6 340.1h0M591.3 410.7h0M553.6 308.3h0M614.1 352.7h0M616.1 307.1h0M611.6 375.9h0M587.7 241.1h0M615.4 315.8h0M581.8 370.7h0M615.8 289.3h0M574.4 413.1h0M603.3 295.3h0M595 386.8h0M608.6 335.2h0M573.9 344h0M593.9 316h0M585.8 298.9h0M588.4 366.6h0M620.2 229.9h0M597.4 331.5h0M597.1 235.1h0M585.9 275.7h0M585.2 303.9h0M581.5 336.7h0M588 288.5h0M579 347.7h0M582.9 357.5h0M634.5 363.2h0M589.2 324.8h0M585.6 346.7h0M619 368.9h0M593.1 356.2h0M577.1 312.4h0M575.1 330.6h0M554.1 296.9h0M636.8 347.1h0M609.3 376.3h0M608.9 332.8h0M589.1 327.6h0M596.6 345.4h0M570.4 275.9h0M603.3 286.2h0M610 311h0M581.9 326.9h0M596.9 373.2h0M620.5 337.1h0M582.8 320.7h0M611.4 372.7h0M609.6 388.8h0M591.3 323.2h0M570.5 328.7h0M614.8 356.4h0M621.3 304.2h0M615.9 375.7h0M588.8 329h0M615.2 337.5h0M584.4 364.8h0M602.7 402.8h0M605.5 236.6h0M602.7 389h0M600.4 306.7h0M597.1 319.2h0M640.1 345h0M581.8 315.4h0M595.1 319.2h0M648.4 382.8h0M598.2 282.2h0M640.1 410.1h0M629 385.7h0M612.5 361.4h0M607.7 371.6h0M571.8 350.9h0M619.6 348.4h0M584.4 380.3h0M595.5 290.1h0M611.4 247.9h0M559.1 315.4h0M602.9 301.4h0M579.5 262.3h0M613.3 280.7h0M608.3 242.4h0M576 357.3h0M614.1 405h0M626.6 344.8h0M563.2 388.6h0M646.3 421h0M633.9 290.9h0M582 332.3h0M593 312.6h0M606.2 392.9h0M563.6 340.3h0M591.2 351.7h0M595.3 364.6h0M587.8 325.4h0M593.4 346.2h0M599.9 277.4h0M586.9 284.8h0M602.4 320.3h0M632.2 405.6h0M569.1 300.9h0M633.8 302h0M612.7 305.4h0M620 261.1h0M598 379.5h0M601.9 393.1h0M633.8 367.6h0M596.8 375.7h0M601 345.1h0M582.8 352.2h0M626.7 354.9h0M628.8 340h0M611.6 349.1h0M595.3 316.1h0M608.5 348.9h0M550 282.5h0M611.5 320.5h0M598.9 408.9h0M548.5 325.2h0M600.2 281.4h0M614.4 327.8h0M623.1 234.7h0M625.6 371.8h0M591.2 391.3h0M616.1 392.6h0M621 408.8h0M604.8 326.5h0M568.2 356.2h0M617.1 313.1h0M605 236.2h0M575.7 273.5h0M583 310.5h0M605.7 282.9h0M594.7 269.2h0M591 307.2h0M587.4 299.9h0M611 380h0M594 292.1h0M617.7 293.1h0M564.4 297.2h0M611.5 283.5h0M597.5 346.2h0M612.6 332.5h0M604.6 369.7h0M608.8 340.5h0M594.6 364.8h0M615.8 330.2h0M602.9 250h0M585.8 312.7h0M618.3 331.6h0M572.8 277.4h0M628.3 371h0M608.9 386.3h0M616.1 374h0M629.4 342h0M616.2 279.5h0M620.2 358.3h0M599.7 345.8h0M573.4 348.2h0M616.7 392.9h0M588.2 315.8h0M612 322.6h0M618 341.4h0M586.8 311.7h0M619.8 352.9h0M638.8 321.5h0M578.5 287.2h0M625.8 245.8h0M613 341.8h0M598.3 366.1h0M646.7 303.3h0M606.1 267.8h0M600.9 287.6h0M595.4 302.3h0M560.3 343.5h0M605.4 230.2h0M620.8 278.2h0M608.6 325.5h0M597.3 314.6h0M575 366.4h0M618.4 318.4h0M587.9 357.1h0M612.3 371.1h0M576.5 355h0M593.8 305.2h0M596.8 291h0M568 262.1h0M591.9 352.1h0M629.5 341.8h0M611.1 366.9h0M587.5 239.2h0M571.8 281.8h0M577.9 349.9h0M601.2 342.5h0M612.2 301.1h0M651.4 374.7h0M592.7 330.5h0M607 281.3h0M595.9 258.1h0M608 389.7h0M606.6 331.6h0M607.3 255.6h0M608.8 382.1h0M615.1 370.6h0M614.1 321.1h0M618.8 312.9h0M616.9 357.4h0M587.5 291.4h0M623.4 338.9h0M627 398h0M581.5 306.7h0M622.7 392.5h0M606.8 364.3h0M592 369.6h0M604.5 290.2h0M569 320.2h0M590.7 370.7h0M610.7 348.1h0M616.4 352.9h0M605.7 416.4h0M593.4 370.8h0M576.4 295.5h0M602.7 288.3h0M606.9 375.7h0M601.3 341.8h0M592.9 373.1h0M599.3 366.6h0M590 362.5h0M588.7 396.2h0M589.5 337h0M615.5 416.3h0M602.6 329.2h0M606.9 327.6h0M627.4 367.9h0M606.4 357.2h0M644.2 264.1h0M642.8 349.4h0M633.1 362.3h0M631.3 320.8h0M622.9 245.5h0M639.9 355.7h0M587.2 314.3h0M601.8 238h0M558.9 277h0M613.4 316.2h0M571.9 262.4h0M600 294.5h0M611.8 371.3h0M605.4 383.9h0M620.8 340.8h0M603.8 261.7h0M594.8 423.4h0M619.5 343.2h0M588.8 369.2h0M573.2 404.8h0M606.4 201.3h0M604.1 308.8h0M622.6 352.9h0M579.6 330.1h0M613.5 339.9h0M591.1 283.5h0M638.6 370.2h0M584.8 276.8h0M602 342.5h0M604 300.3h0M584.9 270.2h0M608.1 341.4h0M621.3 359.8h0M610.2 354.2h0M601 340.8h0M621.1 329.1h0M589.3 270.4h0M584.8 358.4h0M638.8 231.4h0M584.9 306.8h0M594.2 333.6h0M615.8 347.1h0M604.9 305.3h0M601.5 292.4h0M644.2 343h0M606.5 344.2h0M584.1 306h0M614.2 302.8h0M609.5 292.2h0M587.7 320.2h0M599.8 341.8h0M610 419.9h0M611.8 365.9h0M602.4 377.3h0M591.1 377.7h0M610.3 320.5h0M585.8 333.2h0M590 262.5h0M581.2 349.5h0M627 359.8h0M590.8 316.9h0M600 331.3h0M615.9 321.5h0M623.1 366h0M607.7 370.1h0M589.4 308.7h0M609.2 251h0M647.4 377.3h0M600.5 341.7h0M636.5 372.2h0M601.8 394.4h0M628.6 308.6h0M586.3 398.4h0M569 341.6h0M606 321h0M613.8 287.7h0M615.1 342.5h0M601.9 273.1h0M614.2 382.6h0M602.4 417.5h0M590.6 310h0M633 237.7h0M616.1 347.7h0M575.1 306.5h0M612.1 359.7h0M613.3 364.3h0M578.8 244.1h0M616.3 314.6h0M590.8 213.7h0M621.3 442.8h0M610.7 333.2h0M613.2 306.3h0M579.7 398.3h0M593.8 333.7h0M585.9 294h0M587 337.8h0M614.4 226.2h0M613.1 325.4h0M605.5 299.2h0M593.3 322.3h0M588.9 399h0M597.4 420.8h0M612.5 334.3h0M594 258.8h0M595.9 245.1h0M608.4 271.5h0M616.1 351.1h0M593.6 300.9h0M573.7 379.4h0M579.7 385.8h0M591.2 330h0M618.3 308.7h0M586.2 334.9h0M631 375.8h0M618 349.4h0M565.7 369.2h0M610.6 328.8h0M631.4 338.4h0M598.3 347.5h0M596.2 303.6h0M597.5 287.9h0M634.1 359.8h0M625.1 314.3h0M601.1 363.6h0M603 282.5h0M593.1 230.2h0M587.3 277.4h0M614.6 378.6h0M593.9 318h0M623.5 288.7h0M586.2 275.9h0M604.7 349.4h0M624.1 391.6h0M628.6 333.7h0M592.3 350.7h0M591.7 281.9h0M580.1 299.8h0M626.5 376.5h0M615.8 343.7h0M591.4 308.7h0M600.9 305.6h0M619.4 202.3h0M626.9 310.1h0M577.8 306.1h0M598.5 316.2h0M624.4 298.1h0M643.5 297.5h0M633.2 364.2h0M623.9 293.2h0M581.3 369.4h0M593.3 351.3h0M627.7 428.3h0M585.1 330.2h0M595.5 216.7h0M640 355.7h0M605.5 340.3h0M615.1 373.8h0M579.1 339.6h0M633.2 364.4h0M598.8 354.4h0M580.3 369h0M599.8 338h0M592.3 360h0M595.7 286.7h0M575.6 313.3h0M594.6 357.3h0M613.7 269.6h0M615.9 278.3h0M577.7 363h0M608 375.6h0M599.8 289.4h0M599.7 354h0M586.6 303.5h0M593.6 302.4h0M581.3 340.7h0M596.2 281h0M608.8 396.7h0M604.9 279.1h0M581.3 358.9h0M590.5 341.6h0M564.7 310.9h0M602 296.7h0M609.4 319.4h0M625 395.5h0M602.2 217.4h0M582.4 352.2h0M597.1 355.9h0M555.4 280.6h0M626 310.5h0M624.8 350.7h0M599.6 359.1h0M617.5 272.9h0M581.3 405.8h0M596.1 369.1h0M614.8 348.9h0M587.5 303.7h0M576.4 355.3h0M598 378.5h0M622 298.9h0M612.1 395.5h0M606.7 403.4h0M557.1 260.8h0M603.9 338.7h0M640.8 335.2h0M613 248.9h0M603.4 394.6h0M618.3 341.8h0M593.3 257.8h0M608.2 273.8h0M595.7 358h0M589.2 329.5h0M583 350.8h0M619.7 287.9h0M572.7 278.4h0M613.4 297.2h0M600.9 272.3h0M588.8 319.8h0M597.7 362.8h0M608.9 359.2h0M605.3 287.4h0M602.7 402.9h0M626.2 381.2h0M640.9 367.5h0M586.8 367.1h0M616.2 412.5h0M606.5 392h0M586.4 341.3h0M591.5 383.2h0M619.2 305.8h0M558.5 338.3h0M614.5 298.5h0M595.8 386.5h0M609 337h0M597.5 296.3h0M610.1 281.9h0M616.7 363.8h0M597.8 318.1h0M614.1 376h0M615.3 260.3h0M628.8 337.8h0M605.1 330.6h0M586.5 212.6h0M631.3 388h0M598.8 321.6h0M605.4 384h0M612.2 324.3h0M628.7 325.9h0M572.6 367.1h0M612.4 284.1h0M628 331.2h0M618.2 335.7h0M583.7 325.3h0M588.7 293.2h0M609.1 323.3h0M611.3 370.6h0M570.7 264.4h0M589.5 368.9h0M588.7 367.9h0M630.4 349.3h0M620.5 356h0M584.9 348.8h0M610.9 358.5h0M609.2 283.5h0M602.7 367h0M602.4 360.1h0M589.5 341h0M597.8 347.9h0M612.6 318h0M617.9 340.7h0M591.2 334h0M626.7 441.4h0M621.2 329.5h0M590 399.7h0M603.3 336.8h0M596.7 344.8h0M618.5 334.4h0M631.1 423.5h0M615.4 294.8h0M583.6 309.1h0M617.5 350.9h0M624.8 346.8h0M603.9 330.1h0M594.4 254.5h0M593.4 317.9h0M590.6 348.4h0M597.9 334.3h0M585.7 357.5h0M590.7 328.8h0M590.6 249.9h0M598.3 268.9h0M657.5 370.8h0M621.2 349.8h0M613.3 375.8h0M621 348.6h0M572 367.4h0M596.7 333.1h0M624.4 353.3h0M621.5 288.6h0M588.2 351.7h0M605.8 426.9h0M594.5 291.5h0M594.4 261.2h0M611.4 349h0M603.1 324.2h0M615 349.3h0M582.3 286.2h0M599.1 360.9h0M582.4 313.7h0M572.3 318.3h0M609.2 329.5h0M614.8 269.4h0M617.7 277.5h0M602.5 385h0M631 326.5h0M595.6 302.7h0M559.2 342.4h0M621.5 391.8h0M608.3 316.6h0M578.5 338.9h0M616.4 376.9h0M587.2 315.3h0M617.8 300.6h0M592.8 354.9h0M594.7 321.7h0M567.9 275.5h0M603 347.1h0M636.5 377.7h0M623.3 386.9h0M578.2 337.3h0M614.1 373.9h0M581 307.5h0M585 359.1h0M579.4 334h0M585.5 284.7h0M587.4 334.9h0M588.3 311.8h0M580.7 329.9h0M608.5 354.3h0M601.8 322.7h0M603.5 336.9h0M621 224.1h0M591.4 278.8h0M587.6 308.7h0M620.8 346.1h0M619.1 343.1h0M570.3 314.6h0M600.8 267.1h0M607.4 352.9h0M606.8 362.9h0M591.6 429h0M593.8 342.6h0M589.3 305.1h0M633.8 358.3h0M604.5 323.3h0M612.7 303h0M584.9 284.2h0M600.5 303.5h0M615 329.2h0M616.4 321.9h0M597.9 358.7h0M603.7 279.6h0M588.1 364.6h0M584.2 322.7h0M585.8 225.4h0M624.4 348.5h0M586.1 327.8h0M573.8 321.3h0M575.8 344.7h0M584.3 336.8h0M598.8 406h0M615.9 277.2h0M586.6 290.5h0M619.3 341.8h0M602.6 271.3h0M590.1 321h0M604.7 370.6h0M613.1 325.3h0M604.2 341.8h0M571.3 303.1h0M604.5 369.7h0M598.3 302.5h0M603.2 337.9h0M599.1 396.9h0M568 320.8h0M610.8 313.6h0M618.5 368.5h0M603 380.2h0M611.5 315.3h0M581.5 360.4h0M621.2 362.4h0M593.3 295h0M591.9 306.4h0M607.1 345.2h0M631.5 398.2h0M607.7 292.7h0M569.5 265.2h0M578.7 242.7h0M606.1 329h0M595.9 353.6h0M618.6 322.8h0M606.6 280.8h0M572.1 320.7h0M590 346.3h0M633.8 325.8h0M607.9 401.5h0M598.5 290h0M584.4 332.8h0M574.2 309.7h0M600.9 348.4h0M629.5 351.3h0M599.6 282.9h0M607.1 339.5h0M593.1 371.7h0M553.8 336.8h0M583.5 282.8h0M571.1 373.4h0M590.3 304.8h0M632.5 324.4h0M591.1 371.3h0M592.3 314.3h0M632.5 337h0M610.1 376h0M657.1 366.2h0M605 306.7h0M624.5 255.8h0M594.3 247.8h0M616.6 354.8h0M624.5 320h0M626.6 373.5h0M592 360.4h0M638.1 368.5h0M620.3 292.5h0M599.1 284.7h0M624.2 341.6h0M621.5 359.6h0M629 379.9h0M629.6 362.6h0M611.1 345.4h0M626.8 348.9h0M615.5 287.9h0M569.5 293.9h0M599.2 281.3h0M623.4 362.3h0M604.8 315h0M581.5 334.6h0M587.3 323.6h0M592.2 359.8h0M622.7 316.6h0M608.6 382.7h0M569 262.2h0M595.7 331.7h0M618.7 310.6h0M552.8 385.3h0M598.4 307.9h0M608.7 387.6h0M631.1 404h0M578.4 345.2h0M604.2 241.9h0M589.3 331.5h0M601.4 297.8h0M576.7 370.8h0M615.8 393.6h0M612.4 326h0M580.6 280.1h0M577.9 245.5h0M609.7 305.4h0M578.1 354.1h0M616.6 342.8h0M606.3 353.4h0M622.1 327.9h0M573.7 339.5h0M603.5 371.9h0M614.7 310.7h0M613.9 312.7h0M602.4 278.8h0M635.3 319.1h0M598 349.6h0M591.1 420.7h0M606.4 364.3h0M608.9 240.8h0M615.7 304.1h0M590.9 367.3h0M572.9 335.9h0M571.1 365.6h0M595.1 309.5h0M584.8 290.4h0M557.9 301h0M610.8 255.2h0M602.2 251.7h0M603.4 359.1h0M612.9 343.1h0M615.7 274.8h0M565.2 235.9h0M597.3 265.5h0M608.3 229.5h0M593.3 329.4h0M601.3 255.7h0M613.9 339.8h0M594.8 320.9h0M626.3 345.3h0M616.3 362.3h0M638.3 406.5h0M641.2 326.4h0M594.3 367.9h0M608.3 360.1h0M584.9 350.9h0M587.4 381.9h0M605.5 271.3h0M611.8 303.3h0M617.4 304.5h0M644.5 300.1h0M620.2 303.8h0M595.1 410.3h0M604.1 296.4h0M599.1 269.9h0M578.4 257.2h0M597.8 295.7h0M579 340.1h0M635.6 221.8h0M596 343.1h0M595.6 329.9h0M614.2 345.6h0M635.2 347.1h0M609.2 274.5h0M603.3 373.2h0M579.4 373.2h0M605.8 335h0M611.3 361h0M604.1 357.1h0M623.3 334.7h0M609.8 325.3h0M589.5 362.7h0M585.4 402.4h0M597.3 342.9h0M586.5 270.6h0M597.9 237.7h0M577.9 282.2h0M567.2 319.7h0M609.1 275.9h0M605.8 274.6h0M610.1 290.1h0M600 231.5h0M621.7 340.9h0M586.2 394.9h0M618.5 297.8h0M604.4 327.4h0M612.3 306.8h0M593.9 330.9h0M630.6 279h0M600.7 294.6h0M599.6 319.6h0M587.9 364.2h0M589 359.9h0M623.5 319.3h0M607.1 267.2h0M579.3 285.4h0M617.8 384.7h0M612.6 349.9h0M629.4 341.5h0M618 397.9h0M616.6 356.4h0M607.7 294.7h0M595.4 341h0M611.3 400h0M606.6 287.5h0M614.3 299.2h0M636.6 349.1h0M593.6 327.8h0M597.9 282.7h0M597.4 256.9h0M555.3 362.7h0M580.3 339.3h0M576.3 325.6h0M598.8 355.6h0M590.5 334.2h0M599.3 286.1h0M605.1 250.6h0M577.2 329.2h0M633 356.5h0M615.5 340.8h0M626.4 381.2h0M592.6 290.9h0M595.6 249h0M612.3 300.4h0M596.4 242.1h0M582.1 327.7h0M587.6 328.9h0M624.6 332.5h0M645.8 368.3h0M631.2 356.7h0M545.8 355h0M623.5 314.5h0M604.4 337.8h0M576.9 299.1h0M613 385h0M626 282.6h0M560.3 274.5h0M612.2 307.5h0M626 306.8h0M611.7 403.8h0M579.3 280.7h0M577.9 352.2h0M619.4 336.5h0M559.4 355.2h0M619 295.4h0M617.7 376h0M604.9 311.7h0M589.6 353.2h0M606.2 326.5h0M632.8 401.9h0M605.3 342.4h0M621.7 310.8h0M603.9 354.9h0M609.4 308.7h0M581.9 297.4h0M610.6 344.1h0M586.6 264h0M619.5 361.6h0M589.8 379.1h0M594.6 331.9h0M545.5 276.3h0M593.7 331.3h0M604.1 336.5h0M623 298.9h0M595 353.8h0M598.3 276.4h0M577.5 302.8h0M591 295.1h0M613.2 349.1h0M603.4 283.5h0M594.5 341.7h0M565.2 261.6h0M631.5 426.3h0M570.9 311.8h0M574.9 327.8h0M597.4 365.7h0M568.7 314.7h0M590.8 315.1h0M605.3 330.4h0M624.4 349.8h0M630.2 373.1h0M624.2 344.9h0M582.8 356h0M579.4 310h0M601.1 323.4h0M595.3 268.7h0M581.3 394h0M593.1 380h0M629.3 338.7h0M598 271.6h0M602 356.7h0M616.9 251h0M610.4 394.3h0M587.2 320.8h0M574.5 320.1h0M598.6 265.4h0M572.7 318.4h0M561.4 373.1h0M602 278.7h0M575.1 247.9h0M581.8 376.4h0M581.3 297.8h0M587.1 412.2h0M584.4 277.5h0M599.1 377.6h0M629 372.8h0M605.1 282.5h0M581.8 363.9h0M608.8 299.1h0M616.5 363.7h0M582.2 344.9h0M584.2 345h0M601 338h0M598.9 338h0M619.7 392.1h0M594.9 356.1h0M561.1 254.4h0M577.9 286.9h0M588.3 351.2h0M610.4 358.5h0M617.2 337.6h0M593.6 323.8h0M634.2 413.3h0M594.6 314.7h0M599 348.5h0M627.9 341.7h0M589.9 347.7h0M566.9 369.5h0M591.2 339.5h0M579.7 272.5h0M620.9 288.7h0M580.1 382h0M607.9 330.1h0M633.1 260.2h0M623.9 309h0M587.4 350h0M583.2 322.3h0M595.6 285.9h0M579.5 376.4h0M618 319.1h0M591.3 300.1h0M604.5 345.2h0M589.7 337.6h0M597.2 358.5h0M601.1 251.8h0M620 388.9h0M574 386.1h0M590.2 245.6h0M588 374.3h0M626.9 371.2h0M616.1 347.3h0M586 325.2h0M573.4 353.2h0M591.3 358.2h0M624 394.3h0M602.2 431.3h0M612.4 389h0M603.7 275.9h0M614.1 262.8h0M597.6 334.8h0M608.4 346.5h0M590.1 386.9h0M610 413h0M554 252.1h0M625.2 343.5h0M585.2 345.8h0M601.5 337.7h0M604.1 343.2h0M603.3 350.1h0M621.7 332.9h0M573.4 350.4h0M584.7 330.1h0M576.9 263.5h0M577.7 337.7h0M609.2 341.7h0M603.4 365h0M594.6 345.4h0M610.9 339h0M628.4 272.5h0M603.8 352.4h0M640.6 341.8h0M582.1 409.9h0M613.9 332.3h0M561.1 367.9h0M571.2 395.6h0M600.7 381.2h0M590.8 362h0M591.9 319.4h0M588.4 312.7h0M608.6 291.8h0M630.8 378.5h0M578.5 353.6h0M636.6 252.9h0M600 368.1h0M615.1 259.6h0M596.9 274.9h0M579.7 397.6h0M560.5 310.5h0M592.6 380.9h0M588.4 402.3h0M620.7 321.3h0M621.7 337.2h0M603.2 267.7h0M624.9 357.6h0M615.1 430.7h0M616.4 343.9h0M603.6 361.8h0M625.1 382.8h0M606.8 311.6h0M610.4 397.3h0M600.5 286.3h0M596.3 337.3h0M650 352h0M574.6 321.4h0M586.7 319.3h0M597.3 309.5h0M578.8 367.8h0M591.3 380.5h0M583 359.1h0M616.1 362.2h0M629.5 358.3h0M602.7 286.1h0M629.3 261.2h0M599 343.1h0M593.6 257h0M591.8 365.6h0M588.9 293.4h0M630.6 353.6h0M606.7 398.5h0M604.4 331.2h0M609.1 350.8h0M572.7 333.6h0M620 351.2h0M622.9 351.7h0M552.8 299.8h0M594.6 308.6h0M575.9 298.6h0M617.8 374.9h0M631.6 299.4h0M580.9 349.6h0M581.1 375.8h0M589.4 321.3h0M575.4 329.4h0M611.5 372.2h0M583.3 362.7h0M606.9 340.7h0M579.9 341.2h0M617.8 325.8h0M613.2 372h0M596.7 327.5h0M613.3 350.3h0M631.8 377.8h0M619.7 263.4h0M586.4 304.3h0M602.7 395.3h0M620.2 328.9h0M617.2 345.3h0M592.2 283.8h0M581 337.1h0M572.6 317.8h0M598.5 327.9h0M607.6 344h0M612.7 275.6h0M619.9 339h0M602.6 309.1h0M591.5 321.8h0M577.9 339.6h0M600.9 342.4h0M580.9 366.9h0M598.8 351.6h0M635.9 285.8h0M612.9 304.5h0M593.3 341.7h0M607.7 389.8h0M609 390.1h0M613.4 349.7h0M603.5 332.2h0M568.9 375.2h0M596.8 295.1h0M630.7 344.7h0M554.6 372.7h0M610.7 345h0M586.6 358.2h0M618.9 311.2h0M600.2 357.2h0M577.5 273.9h0M601.6 323.1h0M588.9 346.9h0M586.1 363.8h0M613 365.6h0M617.3 328h0M597.8 324h0M596.6 328.7h0M577.9 318.8h0M592.5 331.3h0M572.1 366h0M586.4 338.9h0M571.4 274h0M584 355.8h0M596.7 265.7h0M588.5 279.8h0M600.5 342.9h0M596.4 340h0M590.2 261.4h0M584.2 393.8h0M619.8 364.4h0M596.5 343.7h0M602.2 336.5h0M581.4 355.2h0M618.9 347.5h0M611.3 345.1h0M610.9 350.1h0M605.6 326.1h0M592.1 324h0M625.1 353.6h0M601.3 371.2h0M575.4 340.3h0M618.9 384h0M593 364.3h0M615.8 357.7h0M616.2 320.3h0M601.7 337.8h0M584.8 337.7h0M593.4 343.5h0M637.9 408.7h0M572.4 356.5h0M605.7 354.1h0M608.3 284.4h0M573.8 312.8h0M618.6 360.1h0M576.8 353.9h0M579.8 301.2h0M555.9 271.2h0M595.5 360.8h0M591.6 309h0M609.1 412.1h0M604.9 364h0M611.2 351.8h0M579.8 279.8h0M570 361.8h0M578.3 373.1h0M579.3 375.2h0M603.3 329.2h0M634.6 380.3h0M557.4 354.4h0M597.5 423.7h0M632.8 403.1h0M597.7 293.8h0M586.8 351.4h0M581 333.1h0M559 353.5h0M602 312.5h0M597.8 367.8h0M631.9 360.9h0M635.8 328.4h0M596.9 382.6h0M628.1 286h0M627.9 373.1h0M601.8 285.7h0M565.9 260.2h0M607.5 282.1h0M593.8 398.8h0M618.9 361.8h0M594.4 332.3h0M610.7 388.4h0M576.8 295.2h0M583.7 326h0M599 317.8h0M596.3 297.5h0M568.7 332.3h0M623.9 366h0M610.8 320.5h0M608.2 322.1h0M610.6 361.5h0M615.6 351.4h0M561.2 317.6h0M593.2 365.5h0M598.1 339.8h0M625.6 335.6h0M639.8 354.3h0M611.4 345.1h0M598 344.5h0M587.2 282.5h0M588.9 382.6h0M659.8 371.8h0M602.4 306.3h0M615.7 380.5h0M589.4 329.8h0M588.5 374.3h0M625 402.7h0M611.5 326.7h0M582.8 298.2h0M586.5 359.6h0M580.4 274.4h0M624.1 312.8h0M605.4 400.4h0M616.5 289.3h0M596.6 351.4h0M588.4 379.6h0M621.7 400.8h0M609.2 331.7h0M586.4 373.1h0M631.3 408.6h0M619.4 270.3h0M604.8 332.6h0M588 376.1h0M606.1 320.3h0M610.1 319.5h0M585.8 299.7h0M619.2 390h0M641.4 374.7h0M619.1 341.8h0M599.6 296.4h0M596.3 317.5h0M616.1 377.8h0M576.6 337.5h0M589.3 361.2h0M614.3 278.9h0M627.2 376.3h0M600.8 299.2h0M579.1 347.1h0M627.4 366.9h0M612.3 289h0M628.9 332.9h0M595.7 350h0M628.6 308h0M608.4 332.6h0M589.4 288.1h0M619 297.8h0M579.4 320.3h0M591.2 300.1h0M605.9 305.4h0M605 306.2h0M618.6 316.6h0M634.6 346.5h0M606.4 285.6h0M607 354.9h0M611 353.4h0M578.2 325.7h0M600.9 384h0M571.3 364.3h0M597.5 394.5h0M597 322.6h0M608 378.7h0M627.2 311h0M610.4 369.2h0M600.3 339.6h0M586 374.2h0M599.8 402.6h0M598.5 350.6h0M630.8 301.7h0M611.5 384.4h0M608.2 336.9h0M561.2 349.7h0M580.4 320.7h0M601.8 334.7h0M592.5 309.6h0M614.6 288.7h0M582.8 312.3h0M599.7 395.7h0M601.2 406.1h0M622.8 318.9h0M601.3 299.9h0M590.5 319.5h0M587 332.7h0M599.4 285.1h0M609.4 380.2h0M597.9 372.4h0M568.8 324h0M566.4 388.1h0M589.2 397.8h0M598.1 367.5h0M633.7 333.4h0M585.6 368h0M610.2 293.4h0M572 356.2h0M595.5 321h0M624.1 317.9h0M570.2 328.3h0M600.3 378h0M637 349.5h0M598.6 309.1h0M626.5 393.4h0M565.9 295.3h0M572.1 332.2h0M585.9 320.8h0M613.5 361.6h0M610 299.8h0M589.6 367.9h0M624.6 298.8h0M598.2 316h0M627.1 311.1h0M587.5 372.8h0M561.7 349.7h0M587.8 342.4h0M597.1 363.2h0M568.9 278.2h0M606.9 376.8h0M622.2 309.2h0M613.3 324.9h0M615.5 393.1h0M574.8 332.5h0M622.7 363.7h0M619.8 306h0M582.7 308.7h0M613.7 309.7h0M596 378.4h0M627.1 364.2h0M578.1 344h0M616.1 347.5h0M575.5 330.3h0M587.5 290h0M605.2 322.2h0M599.2 300.4h0M598.3 294.7h0M626.2 296.1h0M583 279.8h0M605.1 356h0M603.4 342.5h0M592.8 357.6h0M649.3 350h0M604.7 297.1h0M586.8 355.6h0M614.7 366.9h0M622.9 324.6h0M578.5 287.6h0M625.2 345.1h0M595 348h0M605.7 339.5h0M606.1 335.1h0M568.8 301h0M598.4 288h0M550.9 310.1h0M612 307.6h0M584.1 283.2h0M600.2 344.6h0M575 283.4h0M588.1 360.3h0M613.9 302.2h0M580.9 365.7h0M632.2 376.2h0M593.5 363.1h0M610 371.6h0M615.6 373.8h0M591.3 379.8h0M609 318.8h0M571.9 321.4h0M598.1 282.1h0M592.6 342.7h0M624.8 285.8h0M604.1 300.6h0M598.4 339.5h0M618.9 306.2h0M612 355.8h0M604.8 388.6h0M588.5 302.6h0M618.8 369.9h0M614 374.5h0M593.6 330.1h0M589.1 324.9h0M601 352.4h0M619.3 357.2h0M601.3 314.5h0M609.7 311h0M560.6 329.1h0M617.5 343h0M600.6 324.5h0M632.1 304.1h0M627.4 340.3h0M585.5 329.5h0M596.3 351.6h0M613.9 332.2h0M596.9 341.9h0M609.9 298.3h0M614.4 335.9h0M608.5 375.5h0M589 343.7h0M588.5 312.9h0M612.2 316.2h0M592.7 335h0M580.4 324.4h0M613.7 344.6h0M633.1 364.4h0M598.7 383.1h0M601.8 350h0M585.7 339.5h0M640.1 326.6h0M594.5 316.8h0M596.1 303.2h0M624.5 364.5h0M576.6 309h0M584.5 292h0M620.8 312.6h0M629.3 341.2h0M614.8 340.4h0M616.3 339.3h0M599.7 310.8h0M636.1 346.4h0M559.9 366.5h0M622 329.4h0M601.1 339.4h0M616.3 335.8h0M604.8 356.6h0M619.6 327.2h0M615.1 306h0M572.9 380.8h0M581.3 298.1h0M585.2 361.2h0M589.7 331.4h0M593.7 319.7h0M600 371.2h0M571.5 339.2h0M589.7 374.3h0M606.8 328.9h0M591 314.2h0M584.6 347.7h0M599.8 354.1h0M599.6 326.7h0M606.8 381.7h0M576.6 321.7h0M583 304.8h0M608.1 337.7h0M595.8 351.3h0M617.8 348.4h0M631 292.3h0M603.3 387h0M617.7 354.2h0M595.8 377h0M587.4 301.8h0M590.6 301.6h0M607.6 327.9h0M614.2 347.2h0M627.5 351.1h0M620 357.1h0M568.5 347.8h0M592.4 310h0M597.4 313.2h0M599.9 303.5h0M616.7 356.1h0M583.5 305.8h0M614.6 367.5h0M581.1 336.1h0M579.2 312.3h0M602.4 362h0M568.8 359.7h0M607.1 364.5h0M598.1 332.2h0M597.8 370.9h0M605.5 315.8h0M607.9 344.8h0M601.8 357.8h0M593.4 351.7h0M589 334.9h0M586 315.1h0M627.1 354.4h0M618.8 297.6h0M578.2 362.2h0M609 361.3h0M618.4 330.7h0M590.2 352.6h0M611.3 340.1h0M580.1 363.5h0M579.1 318.9h0M622.1 382.6h0M613.3 372.1h0M600.1 367.9h0M574.8 367h0M575.8 319.7h0M590.4 355.4h0M618.5 321.4h0M623.4 333.5h0M617 333.9h0M585.3 309.1h0M629.1 368.2h0M603.1 363.3h0M609.1 337.2h0M595.6 352.8h0M571.8 332.8h0M606.1 349.4h0M615.3 362.4h0M588.2 348.7h0M589.8 361.1h0M584.7 354.1h0M598.4 310.4h0M589.8 346.1h0M598.3 362.3h0M591 353.4h0M609.1 321h0M581.2 339.6h0M614.8 358.5h0M597.6 343.8h0M604.2 310h0M577.8 353.4h0M589.5 348.7h0M602.1 304.4h0M571.3 333.8h0M594.1 306.7h0M619.4 366.6h0M574.8 358.8h0M616.9 311.5h0M584.8 322.2h0M591.7 333h0M602.9 336.5h0M569.2 332.8h0M608.4 344.5h0M590.4 311.8h0M601.3 361.1h0M618 321.2h0M606.5 358.6h0M599.2 366.1h0M588.6 366.2h0M599.4 347.5h0M589.7 359.7h0M581.9 314.7h0M618.7 362.7h0M586 336h0M638 342.2h0M586.6 313.2h0M621.1 331.7h0M609.1 326.5h0M585.6 338.9h0M618 334.1h0M597.4 326.3h0M601.6 315h0M611 343.9h0M597.3 330.7h0M610.9 366.4h0M602.3 317.5h0M613.9 353.1h0M614.4 314.6h0M623.1 348.7h0M614.7 349.3h0M606.8 349.2h0M588.1 353.4h0M639.4 324.8h0M609.5 329.5h0M613.8 337h0M608 309.4h0M599.5 313.2h0M612.7 345.2h0M603.4 342.7h0M607.3 345.7h0M587.7 333.5h0M610.9 355.5h0M606.4 337.1h0M611.3 347.3h0M597.4 338.8h0M612.7 342.2h0M607.1 334.7h0M597 335.5h0M608.3 325.4h0M602.4 345h0M611.7 326.6h0M607.6 345.2h0M613.4 330.6h0M600.8 337.8h0" stroke="#1a2a3a" stroke-opacity="0.7" stroke-width="7" stroke-linecap="round" fill="none"/><g><circle cx="609.3" cy="211.2" r="2.7" fill="#f2e020"/><circle cx="557.1" cy="239.3" r="2.7" fill="#f8cf21"/><circle cx="620.8" cy="241.9" r="2.7" fill="#efb630"/><circle cx="569" cy="207.5" r="2.7" fill="#f0e420"/><circle cx="594.5" cy="225.8" r="2.7" fill="#f8ca23"/><circle cx="574.5" cy="205.6" r="2.7" fill="#f0e420"/><circle cx="610.1" cy="208" r="2.7" fill="#f0e420"/><circle cx="605.8" cy="245" r="2.7" fill="#d9c131"/><circle cx="586.5" cy="231.5" r="2.7" fill="#f8c028"/><circle cx="590.5" cy="258.6" r="2.7" fill="#bcc737"/><circle cx="581" cy="249.6" r="2.7" fill="#cbc434"/><circle cx="585.9" cy="245.7" r="2.7" fill="#bdc737"/><circle cx="613" cy="255.4" r="2.7" fill="#bec737"/><circle cx="605" cy="203.7" r="2.7" fill="#f0e420"/><circle cx="625.5" cy="210.1" r="2.7" fill="#f0e320"/><circle cx="576.1" cy="234.5" r="2.7" fill="#f7d220"/><circle cx="619.7" cy="426.4" r="2.7" fill="#7ec852"/><circle cx="589.5" cy="274.1" r="2.7" fill="#72c858"/><circle cx="563.5" cy="250.2" r="2.7" fill="#c3c636"/><circle cx="609.4" cy="260.6" r="2.7" fill="#71c858"/><circle cx="588.3" cy="255.7" r="2.7" fill="#dac131"/><circle cx="581.7" cy="250.1" r="2.7" fill="#9bc845"/><circle cx="586.5" cy="279.1" r="2.7" fill="#47c479"/><circle cx="614.7" cy="435.4" r="2.7" fill="#bbc737"/><circle cx="557.5" cy="263.7" r="2.7" fill="#83c850"/><circle cx="618.1" cy="239.5" r="2.7" fill="#cfc333"/><circle cx="593.2" cy="251.5" r="2.7" fill="#86c84f"/><circle cx="609.2" cy="260.2" r="2.7" fill="#32c08e"/><circle cx="603.6" cy="220.4" r="2.7" fill="#f8c327"/><circle cx="614.2" cy="247.7" r="2.7" fill="#ecb830"/><circle cx="645.1" cy="284.4" r="2.7" fill="#2fbf92"/><circle cx="598.2" cy="215.7" r="2.7" fill="#f6d420"/><circle cx="583.9" cy="266.1" r="2.7" fill="#64c85e"/><circle cx="593.9" cy="211.6" r="2.7" fill="#f0e420"/><circle cx="572.1" cy="259" r="2.7" fill="#45c47b"/><circle cx="625.6" cy="400.9" r="2.7" fill="#26bba4"/><circle cx="537.6" cy="274.7" r="2.7" fill="#48c478"/><circle cx="583" cy="243.4" r="2.7" fill="#dfc030"/><circle cx="577.3" cy="263.1" r="2.7" fill="#7bc854"/><circle cx="599.9" cy="301.6" r="2.7" fill="#25baa7"/><circle cx="611.7" cy="273.3" r="2.7" fill="#2ebf93"/><circle cx="594.1" cy="266.2" r="2.7" fill="#29bd9e"/><circle cx="625.1" cy="266.4" r="2.7" fill="#29bc9f"/><circle cx="560.1" cy="247" r="2.7" fill="#e6bc30"/><circle cx="612.5" cy="411.2" r="2.7" fill="#23b9aa"/><circle cx="593.6" cy="266.3" r="2.7" fill="#85c84f"/><circle cx="588.8" cy="271.9" r="2.7" fill="#24baa7"/><circle cx="608.5" cy="391.1" r="2.7" fill="#27bca1"/><circle cx="603.1" cy="244.3" r="2.7" fill="#efb630"/><circle cx="596.4" cy="251.7" r="2.7" fill="#abc83e"/><circle cx="589.5" cy="294.8" r="2.7" fill="#2fc091"/><circle cx="594" cy="234.2" r="2.7" fill="#efb630"/><circle cx="587.1" cy="262.8" r="2.7" fill="#2fc092"/><circle cx="600.7" cy="201.5" r="2.7" fill="#f0e420"/><circle cx="575.2" cy="256.6" r="2.7" fill="#ebb930"/><circle cx="605.4" cy="400.2" r="2.7" fill="#20b4c5"/><circle cx="592.5" cy="402.2" r="2.7" fill="#33c18d"/><circle cx="598.7" cy="221.2" r="2.7" fill="#f8cb22"/><circle cx="593.3" cy="264.4" r="2.7" fill="#2dbf95"/><circle cx="605.7" cy="284.1" r="2.7" fill="#28bca0"/><circle cx="606.5" cy="253.9" r="2.7" fill="#76c856"/><circle cx="578.7" cy="398.6" r="2.7" fill="#23b9aa"/><circle cx="616.9" cy="220.2" r="2.7" fill="#f8c525"/><circle cx="611.6" cy="264.4" r="2.7" fill="#2fc091"/><circle cx="612.3" cy="285.1" r="2.7" fill="#2bbe99"/><circle cx="640.9" cy="276.2" r="2.7" fill="#21b8af"/><circle cx="575.3" cy="275.7" r="2.7" fill="#24baa9"/><circle cx="602.9" cy="237.3" r="2.7" fill="#dcc131"/><circle cx="601.4" cy="276.2" r="2.7" fill="#20b5be"/><circle cx="578.9" cy="227.2" r="2.7" fill="#f6d520"/><circle cx="579.2" cy="243.8" r="2.7" fill="#c2c636"/><circle cx="592.2" cy="265.2" r="2.7" fill="#3dc283"/><circle cx="594.8" cy="256.8" r="2.7" fill="#42c37e"/><circle cx="628.3" cy="273.1" r="2.7" fill="#21b8ae"/><circle cx="609.2" cy="263" r="2.7" fill="#54c66c"/><circle cx="593.7" cy="389.8" r="2.7" fill="#20b5c1"/><circle cx="539.5" cy="288" r="2.7" fill="#26bba3"/><circle cx="597.7" cy="279" r="2.7" fill="#20b7b6"/><circle cx="613.8" cy="256.4" r="2.7" fill="#4ec572"/><circle cx="611.3" cy="391.6" r="2.7" fill="#20b5bf"/><circle cx="625.6" cy="256.2" r="2.7" fill="#43c37d"/><circle cx="582.2" cy="246" r="2.7" fill="#f8b030"/><circle cx="630.3" cy="404" r="2.7" fill="#20b5bd"/><circle cx="596.7" cy="205.4" r="2.7" fill="#f0e420"/><circle cx="569.4" cy="271.7" r="2.7" fill="#30c091"/><circle cx="587.9" cy="247" r="2.7" fill="#ddc131"/><circle cx="563" cy="298.5" r="2.7" fill="#21adda"/><circle cx="606.3" cy="277.4" r="2.7" fill="#20b3c7"/><circle cx="586.4" cy="291.3" r="2.7" fill="#28bca0"/><circle cx="602.6" cy="305.6" r="2.7" fill="#21addb"/><circle cx="638.7" cy="386.6" r="2.7" fill="#21addb"/><circle cx="605.1" cy="246.8" r="2.7" fill="#a7c840"/><circle cx="621.6" cy="397.5" r="2.7" fill="#20b7b5"/><circle cx="598.6" cy="391.8" r="2.7" fill="#20b3c7"/><circle cx="608.3" cy="389.7" r="2.7" fill="#20b4c2"/><circle cx="580.7" cy="291.9" r="2.7" fill="#22a9de"/><circle cx="609.6" cy="398.3" r="2.7" fill="#20b3c9"/><circle cx="620.1" cy="259.2" r="2.7" fill="#50c570"/><circle cx="616.3" cy="383.5" r="2.7" fill="#22a9de"/><circle cx="576.5" cy="250.9" r="2.7" fill="#c3c636"/><circle cx="591.5" cy="230.3" r="2.7" fill="#f8c227"/><circle cx="602.1" cy="394.7" r="2.7" fill="#20b3cb"/><circle cx="589.4" cy="444.6" r="2.7" fill="#dfc030"/><circle cx="603.7" cy="289.9" r="2.7" fill="#20b6ba"/><circle cx="597.2" cy="265.8" r="2.7" fill="#2ebf95"/><circle cx="621.2" cy="404.6" r="2.7" fill="#24baa9"/><circle cx="592.2" cy="376" r="2.7" fill="#24a4e2"/><circle cx="602.7" cy="417" r="2.7" fill="#55c66b"/><circle cx="574.5" cy="381.3" r="2.7" fill="#21acdb"/><circle cx="643.5" cy="405.1" r="2.7" fill="#23b9aa"/><circle cx="600.4" cy="211.3" r="2.7" fill="#f0e320"/><circle cx="615" cy="403.6" r="2.7" fill="#32c08e"/><circle cx="612.8" cy="423" r="2.7" fill="#71c858"/><circle cx="604.9" cy="288.1" r="2.7" fill="#20b3ca"/><circle cx="579.2" cy="292.3" r="2.7" fill="#20b3c9"/><circle cx="572.8" cy="299.3" r="2.7" fill="#24a4e3"/><circle cx="586.8" cy="242.1" r="2.7" fill="#e5bd30"/><circle cx="609.8" cy="294.4" r="2.7" fill="#22abdd"/><circle cx="581.7" cy="304.6" r="2.7" fill="#24a3e3"/><circle cx="601.8" cy="371.4" r="2.7" fill="#20b4c6"/><circle cx="577.5" cy="284" r="2.7" fill="#22b9ac"/><circle cx="601.8" cy="229" r="2.7" fill="#eaba30"/><circle cx="618.8" cy="297.4" r="2.7" fill="#21addb"/><circle cx="579.2" cy="379.4" r="2.7" fill="#24a5e1"/><circle cx="571.5" cy="242.5" r="2.7" fill="#e0c030"/><circle cx="582" cy="296.6" r="2.7" fill="#26bba3"/><circle cx="616.1" cy="304.7" r="2.7" fill="#21addb"/><circle cx="631.7" cy="297.6" r="2.7" fill="#20b4c5"/><circle cx="589.9" cy="302.1" r="2.7" fill="#24a5e2"/><circle cx="586.4" cy="246.5" r="2.7" fill="#a7c840"/><circle cx="589.1" cy="360.1" r="2.7" fill="#23a7e0"/><circle cx="617.7" cy="277.2" r="2.7" fill="#20b3c9"/><circle cx="610.6" cy="234.4" r="2.7" fill="#f4b230"/><circle cx="619.8" cy="269.3" r="2.7" fill="#23b9ab"/><circle cx="625.3" cy="394.7" r="2.7" fill="#22b9ad"/><circle cx="606.9" cy="407" r="2.7" fill="#23baa9"/><circle cx="568.8" cy="290.2" r="2.7" fill="#20b2cc"/><circle cx="579.7" cy="272.6" r="2.7" fill="#35c18b"/><circle cx="594.7" cy="296.6" r="2.7" fill="#279bea"/><circle cx="579.4" cy="290.6" r="2.7" fill="#20b0d7"/><circle cx="616.3" cy="283.7" r="2.7" fill="#20b5c1"/><circle cx="612.4" cy="375.3" r="2.7" fill="#24a3e3"/><circle cx="606.5" cy="283.7" r="2.7" fill="#20b1d3"/><circle cx="608.2" cy="288.2" r="2.7" fill="#22abdc"/><circle cx="606.7" cy="289.1" r="2.7" fill="#20b2ce"/><circle cx="579.4" cy="262.5" r="2.7" fill="#63c85f"/><circle cx="591.8" cy="243.7" r="2.7" fill="#e4bd30"/><circle cx="608.1" cy="385.1" r="2.7" fill="#22aadd"/><circle cx="604.4" cy="267.5" r="2.7" fill="#24baa7"/><circle cx="577.2" cy="351.8" r="2.7" fill="#23a7df"/><circle cx="618.1" cy="379.6" r="2.7" fill="#279cea"/><circle cx="559.9" cy="400" r="2.7" fill="#2fbf93"/><circle cx="580.8" cy="276.4" r="2.7" fill="#24baa8"/><circle cx="605" cy="318.5" r="2.7" fill="#2899ec"/><circle cx="594.6" cy="274.6" r="2.7" fill="#98c847"/><circle cx="594.7" cy="376.1" r="2.7" fill="#25a1e5"/><circle cx="583.2" cy="294.8" r="2.7" fill="#20b1d1"/><circle cx="621.3" cy="280.5" r="2.7" fill="#4cc574"/><circle cx="579.4" cy="376" r="2.7" fill="#25a1e5"/><circle cx="580.8" cy="371.2" r="2.7" fill="#2899ec"/><circle cx="575" cy="402.8" r="2.7" fill="#20b7b3"/><circle cx="603.5" cy="384.8" r="2.7" fill="#20b1d3"/><circle cx="569.9" cy="259.3" r="2.7" fill="#4ec572"/><circle cx="611.9" cy="400.5" r="2.7" fill="#2ebf93"/><circle cx="610.2" cy="386.3" r="2.7" fill="#24a3e3"/><circle cx="547" cy="312.2" r="2.7" fill="#20b1d1"/><circle cx="596.5" cy="303.4" r="2.7" fill="#269de9"/><circle cx="606" cy="302.2" r="2.7" fill="#2995ef"/><circle cx="626" cy="293.9" r="2.7" fill="#20b5c1"/><circle cx="569.4" cy="420.9" r="2.7" fill="#4bc575"/><circle cx="608.4" cy="288.9" r="2.7" fill="#22a9de"/><circle cx="621.4" cy="273.6" r="2.7" fill="#21b8af"/><circle cx="632.4" cy="275.5" r="2.7" fill="#2abd9c"/><circle cx="576" cy="379" r="2.7" fill="#23a8df"/><circle cx="586.7" cy="266.6" r="2.7" fill="#2abd9d"/><circle cx="571.2" cy="357.6" r="2.7" fill="#2994f0"/><circle cx="577.8" cy="298.7" r="2.7" fill="#24a4e3"/><circle cx="565.6" cy="358.4" r="2.7" fill="#269de8"/><circle cx="602.4" cy="283.7" r="2.7" fill="#20b2cc"/><circle cx="595.7" cy="295.2" r="2.7" fill="#25a0e6"/><circle cx="594.6" cy="390.9" r="2.7" fill="#20b5c1"/><circle cx="560.3" cy="361.9" r="2.7" fill="#23a7df"/><circle cx="602" cy="289.1" r="2.7" fill="#21acdb"/><circle cx="633.3" cy="242.3" r="2.7" fill="#bfc737"/><circle cx="611.3" cy="398.8" r="2.7" fill="#20b6ba"/><circle cx="585.5" cy="280.2" r="2.7" fill="#20b6bc"/><circle cx="603.8" cy="387.4" r="2.7" fill="#22abdc"/><circle cx="579.9" cy="313.2" r="2.7" fill="#2e8bf3"/><circle cx="655.7" cy="344.2" r="2.7" fill="#2996ee"/><circle cx="594.5" cy="204.2" r="2.7" fill="#f1e220"/><circle cx="618.7" cy="380.7" r="2.7" fill="#21addb"/><circle cx="618.7" cy="235.4" r="2.7" fill="#e2bf30"/><circle cx="593.8" cy="294.6" r="2.7" fill="#22a9de"/><circle cx="585.6" cy="280.9" r="2.7" fill="#42c37e"/><circle cx="573.6" cy="285.5" r="2.7" fill="#23b9aa"/><circle cx="596.8" cy="360.3" r="2.7" fill="#269fe7"/><circle cx="572.2" cy="280.5" r="2.7" fill="#20b7b6"/><circle cx="614.5" cy="383.2" r="2.7" fill="#269fe7"/><circle cx="572" cy="326" r="2.7" fill="#3088f3"/><circle cx="599.2" cy="279.7" r="2.7" fill="#20b3ca"/><circle cx="602.5" cy="296.9" r="2.7" fill="#279bea"/><circle cx="597" cy="366" r="2.7" fill="#2f8af3"/><circle cx="599" cy="383.8" r="2.7" fill="#25a2e4"/><circle cx="623.5" cy="390.7" r="2.7" fill="#21acdc"/><circle cx="595.2" cy="233.3" r="2.7" fill="#f0b630"/><circle cx="584.3" cy="210.6" r="2.7" fill="#f8ce21"/><circle cx="582.5" cy="279.1" r="2.7" fill="#22b9ac"/><circle cx="582.4" cy="319.6" r="2.7" fill="#279aeb"/><circle cx="578.4" cy="272.8" r="2.7" fill="#5bc765"/><circle cx="582.3" cy="353.8" r="2.7" fill="#3384f3"/><circle cx="591.2" cy="280" r="2.7" fill="#24baa8"/><circle cx="551.1" cy="262" r="2.7" fill="#90c84a"/><circle cx="605.3" cy="294.7" r="2.7" fill="#279bea"/><circle cx="567.4" cy="391.1" r="2.7" fill="#20b7b4"/><circle cx="643.9" cy="361.2" r="2.7" fill="#2a92f2"/><circle cx="590.5" cy="300.6" r="2.7" fill="#2898ed"/><circle cx="613.7" cy="352.6" r="2.7" fill="#367ff3"/><circle cx="611.2" cy="249.2" r="2.7" fill="#acc83d"/><circle cx="618" cy="359.5" r="2.7" fill="#3383f3"/><circle cx="601" cy="260" r="2.7" fill="#43c37d"/><circle cx="611.8" cy="381.4" r="2.7" fill="#24a5e2"/><circle cx="601.7" cy="289.4" r="2.7" fill="#23a7e0"/><circle cx="597.9" cy="285" r="2.7" fill="#20b4c5"/><circle cx="615.2" cy="416.2" r="2.7" fill="#29bc9f"/><circle cx="593.2" cy="266.6" r="2.7" fill="#30c090"/><circle cx="569.6" cy="253" r="2.7" fill="#7bc854"/><circle cx="627" cy="421.5" r="2.7" fill="#b1c83b"/><circle cx="622.3" cy="257.6" r="2.7" fill="#64c85e"/><circle cx="605" cy="277.7" r="2.7" fill="#20b4c2"/><circle cx="602.3" cy="394.1" r="2.7" fill="#20b3c8"/><circle cx="602.9" cy="414.9" r="2.7" fill="#2dbf95"/><circle cx="643.1" cy="391.5" r="2.7" fill="#20b2cf"/><circle cx="565" cy="289.4" r="2.7" fill="#27bba2"/><circle cx="607.7" cy="225.2" r="2.7" fill="#f8cc22"/><circle cx="601.1" cy="360.5" r="2.7" fill="#367ef4"/><circle cx="599.9" cy="307.5" r="2.7" fill="#2d8df2"/><circle cx="595.3" cy="410" r="2.7" fill="#21b9ae"/><circle cx="611.4" cy="368.3" r="2.7" fill="#2d8df2"/><circle cx="617.6" cy="394.6" r="2.7" fill="#20afd9"/><circle cx="602.9" cy="332.6" r="2.7" fill="#3b76f4"/><circle cx="598.9" cy="356.2" r="2.7" fill="#2994f0"/><circle cx="612" cy="288" r="2.7" fill="#22abdc"/><circle cx="642.6" cy="357.7" r="2.7" fill="#2898ed"/><circle cx="605.6" cy="287.5" r="2.7" fill="#23a8df"/><circle cx="629" cy="363" r="2.7" fill="#3581f3"/><circle cx="626.3" cy="363" r="2.7" fill="#2898ed"/><circle cx="569.1" cy="274.8" r="2.7" fill="#29bc9f"/><circle cx="565.3" cy="292.8" r="2.7" fill="#20b0d6"/><circle cx="600.5" cy="308.9" r="2.7" fill="#279aeb"/><circle cx="615.7" cy="286.7" r="2.7" fill="#20b0d6"/><circle cx="633.4" cy="365.7" r="2.7" fill="#2e8bf3"/><circle cx="609.5" cy="401.8" r="2.7" fill="#20b7b6"/><circle cx="590" cy="294.4" r="2.7" fill="#20b3c8"/><circle cx="595.3" cy="379.6" r="2.7" fill="#20b1d1"/><circle cx="609" cy="312.5" r="2.7" fill="#3c70f3"/><circle cx="592.4" cy="268.4" r="2.7" fill="#29bc9e"/><circle cx="595.7" cy="250.4" r="2.7" fill="#67c85d"/><circle cx="639.4" cy="373.3" r="2.7" fill="#279ce9"/><circle cx="620.7" cy="251.6" r="2.7" fill="#7cc853"/><circle cx="616.5" cy="322.7" r="2.7" fill="#2c8ef2"/><circle cx="578.1" cy="386.7" r="2.7" fill="#20b3ca"/><circle cx="612.2" cy="326.5" r="2.7" fill="#2a92f2"/><circle cx="596.6" cy="301.8" r="2.7" fill="#20b0d7"/><circle cx="616.1" cy="354.3" r="2.7" fill="#20b1d1"/><circle cx="604.4" cy="341.4" r="2.7" fill="#3284f3"/><circle cx="584.1" cy="293.6" r="2.7" fill="#23a6e0"/><circle cx="582.6" cy="302.9" r="2.7" fill="#279bea"/><circle cx="572.3" cy="328.6" r="2.7" fill="#2996ef"/><circle cx="619.4" cy="273.6" r="2.7" fill="#27bba3"/><circle cx="567.3" cy="346.3" r="2.7" fill="#2b90f2"/><circle cx="620.3" cy="388.2" r="2.7" fill="#20b7b3"/><circle cx="588.2" cy="242.1" r="2.7" fill="#ddc131"/><circle cx="600.9" cy="362.9" r="2.7" fill="#377cf4"/><circle cx="591.6" cy="285.8" r="2.7" fill="#20afd9"/><circle cx="633.5" cy="341.5" r="2.7" fill="#397af4"/><circle cx="591.2" cy="366.2" r="2.7" fill="#2c8ef2"/><circle cx="584.2" cy="317.7" r="2.7" fill="#2897ee"/><circle cx="594.8" cy="367.7" r="2.7" fill="#269fe6"/><circle cx="606.3" cy="376.6" r="2.7" fill="#2898ed"/><circle cx="591.3" cy="368.6" r="2.7" fill="#2b90f2"/><circle cx="611.7" cy="380.7" r="2.7" fill="#279bea"/><circle cx="608.6" cy="396" r="2.7" fill="#20b7b6"/><circle cx="593.6" cy="324.5" r="2.7" fill="#3d6ff3"/><circle cx="611.2" cy="381.4" r="2.7" fill="#24a4e2"/><circle cx="617.5" cy="263.9" r="2.7" fill="#4ac476"/><circle cx="594.5" cy="364.4" r="2.7" fill="#269ee8"/><circle cx="599.7" cy="332.4" r="2.7" fill="#3f67f3"/><circle cx="574.9" cy="291.7" r="2.7" fill="#20b0d8"/><circle cx="607.4" cy="305.3" r="2.7" fill="#21adda"/><circle cx="591.8" cy="292.4" r="2.7" fill="#20b6b8"/><circle cx="628.6" cy="409" r="2.7" fill="#28bca0"/><circle cx="606.2" cy="371.4" r="2.7" fill="#2a93f1"/><circle cx="605.1" cy="387.6" r="2.7" fill="#23a6e1"/><circle cx="613.5" cy="381.7" r="2.7" fill="#20b1d2"/><circle cx="599.2" cy="229.6" r="2.7" fill="#f7b130"/><circle cx="592.8" cy="374.1" r="2.7" fill="#21aeda"/><circle cx="607.7" cy="297.8" r="2.7" fill="#2897ee"/><circle cx="598.2" cy="400.6" r="2.7" fill="#25baa7"/><circle cx="607.5" cy="308" r="2.7" fill="#367ef4"/><circle cx="606.3" cy="265.2" r="2.7" fill="#3fc381"/><circle cx="577" cy="367.5" r="2.7" fill="#23a8df"/><circle cx="599.3" cy="352.2" r="2.7" fill="#415ff2"/><circle cx="647.5" cy="412.8" r="2.7" fill="#43c37d"/><circle cx="592.9" cy="306.6" r="2.7" fill="#2d8ef2"/><circle cx="584.4" cy="384.5" r="2.7" fill="#21adda"/><circle cx="595.2" cy="323.9" r="2.7" fill="#377df4"/><circle cx="572.2" cy="245.3" r="2.7" fill="#95c848"/><circle cx="591.8" cy="382.5" r="2.7" fill="#22a9de"/><circle cx="594.2" cy="218.6" r="2.7" fill="#f8ba2b"/><circle cx="623.6" cy="365.4" r="2.7" fill="#22aadd"/><circle cx="607.1" cy="326.7" r="2.7" fill="#3d6ef3"/><circle cx="610.7" cy="363.7" r="2.7" fill="#3383f3"/><circle cx="589.2" cy="382" r="2.7" fill="#25a2e4"/><circle cx="618.8" cy="278.6" r="2.7" fill="#20b3c7"/><circle cx="594.9" cy="320.8" r="2.7" fill="#2898ed"/><circle cx="623.8" cy="358.6" r="2.7" fill="#397af4"/><circle cx="567.7" cy="348.4" r="2.7" fill="#2994f0"/><circle cx="577.7" cy="335.3" r="2.7" fill="#3a77f4"/><circle cx="629.8" cy="392.6" r="2.7" fill="#20b1d2"/><circle cx="586.8" cy="349.9" r="2.7" fill="#387cf4"/><circle cx="610.8" cy="395.5" r="2.7" fill="#20b7b4"/><circle cx="583.5" cy="345.2" r="2.7" fill="#3d6ef3"/><circle cx="626.9" cy="400.9" r="2.7" fill="#20b6bc"/><circle cx="620" cy="298.1" r="2.7" fill="#24a3e3"/><circle cx="599.9" cy="360.2" r="2.7" fill="#3c72f3"/><circle cx="633.5" cy="247.8" r="2.7" fill="#d5c232"/><circle cx="602.6" cy="291.2" r="2.7" fill="#20afd9"/><circle cx="590.1" cy="279.6" r="2.7" fill="#2cbe98"/><circle cx="598.1" cy="316.6" r="2.7" fill="#3482f3"/><circle cx="592.3" cy="279" r="2.7" fill="#20b2cd"/><circle cx="634.6" cy="341.9" r="2.7" fill="#3f66f2"/><circle cx="590.5" cy="383.8" r="2.7" fill="#24a5e2"/><circle cx="599.7" cy="373.6" r="2.7" fill="#21aeda"/><circle cx="618.8" cy="330.6" r="2.7" fill="#279cea"/><circle cx="553.7" cy="387.4" r="2.7" fill="#20b5bd"/><circle cx="596.6" cy="298.6" r="2.7" fill="#2898ed"/><circle cx="549.5" cy="355.8" r="2.7" fill="#22a9de"/><circle cx="616.3" cy="366.7" r="2.7" fill="#3482f3"/><circle cx="579.5" cy="383.9" r="2.7" fill="#22aadd"/><circle cx="602.6" cy="325.5" r="2.7" fill="#415ff2"/><circle cx="591.4" cy="347.5" r="2.7" fill="#4161f2"/><circle cx="612.6" cy="313.4" r="2.7" fill="#3b73f4"/><circle cx="604.1" cy="346" r="2.7" fill="#3f68f3"/><circle cx="599.9" cy="214.6" r="2.7" fill="#f0e420"/><circle cx="621.3" cy="365.8" r="2.7" fill="#3285f3"/><circle cx="590.1" cy="313.4" r="2.7" fill="#2897ee"/><circle cx="587.4" cy="274.6" r="2.7" fill="#28bca0"/><circle cx="592" cy="345.1" r="2.7" fill="#4160f2"/><circle cx="604.9" cy="309.3" r="2.7" fill="#377df4"/><circle cx="552.9" cy="278.2" r="2.7" fill="#26bba5"/><circle cx="619.9" cy="360.9" r="2.7" fill="#3286f3"/><circle cx="599.1" cy="333.3" r="2.7" fill="#387bf4"/><circle cx="615" cy="381.5" r="2.7" fill="#269ee7"/><circle cx="619" cy="295.7" r="2.7" fill="#279beb"/><circle cx="577.4" cy="388.5" r="2.7" fill="#20b0d6"/><circle cx="600" cy="320.5" r="2.7" fill="#3a78f4"/><circle cx="645.5" cy="312.9" r="2.7" fill="#2a92f2"/><circle cx="579.9" cy="334.4" r="2.7" fill="#2a93f1"/><circle cx="608.9" cy="355.2" r="2.7" fill="#3e6af3"/><circle cx="619" cy="384.6" r="2.7" fill="#20b5c1"/><circle cx="623.9" cy="374.9" r="2.7" fill="#20afd9"/><circle cx="585.7" cy="398.4" r="2.7" fill="#21b8af"/><circle cx="613" cy="284.7" r="2.7" fill="#20b7b7"/><circle cx="585.6" cy="347.7" r="2.7" fill="#3d6ef3"/><circle cx="603" cy="294.5" r="2.7" fill="#23a6e1"/><circle cx="613.7" cy="361.6" r="2.7" fill="#3c72f3"/><circle cx="609.5" cy="282" r="2.7" fill="#24baa8"/><circle cx="600.2" cy="330" r="2.7" fill="#4160f2"/><circle cx="570.3" cy="318.3" r="2.7" fill="#2a93f2"/><circle cx="624.1" cy="264.9" r="2.7" fill="#29bd9d"/><circle cx="631.3" cy="292.8" r="2.7" fill="#27bca1"/><circle cx="597.4" cy="331.7" r="2.7" fill="#474af0"/><circle cx="584.1" cy="326.7" r="2.7" fill="#3d6df3"/><circle cx="598.7" cy="313.1" r="2.7" fill="#3a78f4"/><circle cx="630.1" cy="312" r="2.7" fill="#2e8bf3"/><circle cx="554.7" cy="310.7" r="2.7" fill="#21addb"/><circle cx="644.2" cy="344.8" r="2.7" fill="#387bf4"/><circle cx="619.4" cy="317.4" r="2.7" fill="#23a8df"/><circle cx="637.4" cy="306.5" r="2.7" fill="#25a2e5"/><circle cx="608.1" cy="381.8" r="2.7" fill="#269de8"/><circle cx="632" cy="354.8" r="2.7" fill="#3a79f4"/><circle cx="583.9" cy="357.9" r="2.7" fill="#3482f3"/><circle cx="608.2" cy="330.8" r="2.7" fill="#4457f1"/><circle cx="605.8" cy="350.1" r="2.7" fill="#279aeb"/><circle cx="614.6" cy="385.3" r="2.7" fill="#25a2e4"/><circle cx="587.4" cy="326.4" r="2.7" fill="#3f66f3"/><circle cx="577.7" cy="369.9" r="2.7" fill="#279ce9"/><circle cx="597.4" cy="338.4" r="2.7" fill="#474af0"/><circle cx="593.5" cy="308.9" r="2.7" fill="#2995ef"/><circle cx="598" cy="389.3" r="2.7" fill="#22a9de"/><circle cx="631.6" cy="306.1" r="2.7" fill="#20b3cb"/><circle cx="565.8" cy="279" r="2.7" fill="#23b9aa"/><circle cx="576.2" cy="364.7" r="2.7" fill="#2898ed"/><circle cx="570.7" cy="276.8" r="2.7" fill="#27bca1"/><circle cx="622.6" cy="330.2" r="2.7" fill="#3979f4"/><circle cx="625.8" cy="341.8" r="2.7" fill="#3d6cf3"/><circle cx="604.4" cy="327.7" r="2.7" fill="#4062f2"/><circle cx="586.4" cy="334.6" r="2.7" fill="#4161f2"/><circle cx="596.8" cy="367.5" r="2.7" fill="#2e8cf2"/><circle cx="571.9" cy="247.1" r="2.7" fill="#9cc845"/><circle cx="574.3" cy="245.6" r="2.7" fill="#bbc737"/><circle cx="622.6" cy="356.5" r="2.7" fill="#3e6af3"/><circle cx="571.1" cy="384.6" r="2.7" fill="#20b2ce"/><circle cx="589.9" cy="326.6" r="2.7" fill="#2d8df2"/><circle cx="602.8" cy="327.8" r="2.7" fill="#3f67f3"/><circle cx="570" cy="304.9" r="2.7" fill="#24a4e2"/><circle cx="573.3" cy="350.2" r="2.7" fill="#2f89f3"/><circle cx="597.5" cy="352.4" r="2.7" fill="#4160f2"/><circle cx="630.1" cy="381.5" r="2.7" fill="#23a6e1"/><circle cx="602" cy="323.1" r="2.7" fill="#4359f1"/><circle cx="563" cy="388.7" r="2.7" fill="#20b4c6"/><circle cx="589.4" cy="365.8" r="2.7" fill="#2f8af3"/><circle cx="593.1" cy="357.5" r="2.7" fill="#3580f3"/><circle cx="637.4" cy="376.7" r="2.7" fill="#25a2e4"/><circle cx="598.4" cy="370.4" r="2.7" fill="#2899ec"/><circle cx="600.5" cy="401" r="2.7" fill="#20b4c3"/><circle cx="585.7" cy="341.6" r="2.7" fill="#3384f3"/><circle cx="618.3" cy="329.9" r="2.7" fill="#3187f3"/><circle cx="594.2" cy="305.5" r="2.7" fill="#279ce9"/><circle cx="573.6" cy="350.1" r="2.7" fill="#2898ec"/><circle cx="578.3" cy="304.1" r="2.7" fill="#279cea"/><circle cx="616.2" cy="300.8" r="2.7" fill="#22aade"/><circle cx="589.1" cy="274.4" r="2.7" fill="#25baa6"/><circle cx="601.5" cy="234" r="2.7" fill="#e3be30"/><circle cx="608" cy="289.7" r="2.7" fill="#20b3cb"/><circle cx="607.1" cy="370.1" r="2.7" fill="#25a2e4"/><circle cx="580.8" cy="382.3" r="2.7" fill="#20b4c5"/><circle cx="611.8" cy="270.9" r="2.7" fill="#2dbe96"/><circle cx="592.5" cy="277.4" r="2.7" fill="#20b3c7"/><circle cx="590.5" cy="325.6" r="2.7" fill="#4064f2"/><circle cx="609.5" cy="338.7" r="2.7" fill="#4358f1"/><circle cx="607.1" cy="302" r="2.7" fill="#2897ee"/><circle cx="620.9" cy="365.7" r="2.7" fill="#3580f3"/><circle cx="580.6" cy="371.1" r="2.7" fill="#2899ec"/><circle cx="611" cy="309.4" r="2.7" fill="#3285f3"/><circle cx="590.1" cy="319.7" r="2.7" fill="#3d6df3"/><circle cx="601.7" cy="363.3" r="2.7" fill="#2899ec"/><circle cx="620.4" cy="370.3" r="2.7" fill="#25a2e4"/><circle cx="601.5" cy="326.2" r="2.7" fill="#474cf0"/><circle cx="609.2" cy="336.1" r="2.7" fill="#4456f1"/><circle cx="619.2" cy="250.7" r="2.7" fill="#74c857"/><circle cx="588.1" cy="361.3" r="2.7" fill="#2996ee"/><circle cx="631.8" cy="300.6" r="2.7" fill="#20b4c4"/><circle cx="620.5" cy="327.8" r="2.7" fill="#3f67f3"/><circle cx="606.9" cy="274.7" r="2.7" fill="#20b4c2"/><circle cx="625.3" cy="356.7" r="2.7" fill="#3979f4"/><circle cx="593.4" cy="320.4" r="2.7" fill="#279bea"/><circle cx="552.3" cy="346.3" r="2.7" fill="#21addb"/><circle cx="603.2" cy="283" r="2.7" fill="#20b6b8"/><circle cx="606.5" cy="328.7" r="2.7" fill="#4846ed"/><circle cx="602.9" cy="298.2" r="2.7" fill="#279bea"/><circle cx="603.2" cy="339.5" r="2.7" fill="#4843e8"/><circle cx="586.9" cy="298.9" r="2.7" fill="#279bea"/><circle cx="608.5" cy="394.3" r="2.7" fill="#20b2cc"/><circle cx="600.6" cy="237.2" r="2.7" fill="#e5bd30"/><circle cx="583.6" cy="282.4" r="2.7" fill="#20b6ba"/><circle cx="601" cy="351.1" r="2.7" fill="#425cf2"/><circle cx="580.1" cy="262" r="2.7" fill="#4dc573"/><circle cx="595" cy="345.5" r="2.7" fill="#4358f1"/><circle cx="606.1" cy="318.7" r="2.7" fill="#425ef2"/><circle cx="615.5" cy="271.4" r="2.7" fill="#20b7b3"/><circle cx="576" cy="282.7" r="2.7" fill="#26bba4"/><circle cx="606.2" cy="326.3" r="2.7" fill="#474af0"/><circle cx="614.6" cy="336.9" r="2.7" fill="#4551f1"/><circle cx="618.6" cy="394.9" r="2.7" fill="#20b3c9"/><circle cx="598.7" cy="280.7" r="2.7" fill="#20b2cf"/><circle cx="611.5" cy="313.7" r="2.7" fill="#3d6ef3"/><circle cx="607" cy="288.3" r="2.7" fill="#22b9ac"/><circle cx="599.3" cy="364.9" r="2.7" fill="#3383f3"/><circle cx="573.1" cy="351.2" r="2.7" fill="#2d8df2"/><circle cx="598.5" cy="411.5" r="2.7" fill="#68c85c"/><circle cx="602" cy="348.2" r="2.7" fill="#3b76f4"/><circle cx="558.6" cy="330.7" r="2.7" fill="#25a2e4"/><circle cx="588.9" cy="336.9" r="2.7" fill="#425cf2"/><circle cx="583.9" cy="253.5" r="2.7" fill="#88c84e"/><circle cx="638.5" cy="367.7" r="2.7" fill="#2996ef"/><circle cx="627.5" cy="349.1" r="2.7" fill="#4064f2"/><circle cx="564.5" cy="319.3" r="2.7" fill="#2899ec"/><circle cx="597.6" cy="305" r="2.7" fill="#22aadd"/><circle cx="562.5" cy="227.5" r="2.7" fill="#f8c227"/><circle cx="597.1" cy="337" r="2.7" fill="#425bf2"/><circle cx="598.8" cy="326.9" r="2.7" fill="#3c73f4"/><circle cx="613.4" cy="343.1" r="2.7" fill="#464ef1"/><circle cx="630.7" cy="353.3" r="2.7" fill="#3b73f4"/><circle cx="572.8" cy="366.4" r="2.7" fill="#269de8"/><circle cx="606.8" cy="296.8" r="2.7" fill="#20b5bf"/><circle cx="646.2" cy="351.4" r="2.7" fill="#2f8af3"/><circle cx="639.8" cy="406.9" r="2.7" fill="#2abd9d"/><circle cx="609.7" cy="378.7" r="2.7" fill="#2899ec"/><circle cx="593.9" cy="391.8" r="2.7" fill="#20b1d2"/><circle cx="606.2" cy="383.2" r="2.7" fill="#25a0e6"/><circle cx="596.6" cy="414.7" r="2.7" fill="#acc83e"/><circle cx="627.3" cy="331.2" r="2.7" fill="#415ff2"/><circle cx="579.1" cy="376.3" r="2.7" fill="#24a4e3"/><circle cx="604.1" cy="321.2" r="2.7" fill="#377df4"/><circle cx="601.9" cy="311.2" r="2.7" fill="#377df4"/><circle cx="599.9" cy="359.5" r="2.7" fill="#3c73f4"/><circle cx="589.1" cy="403" r="2.7" fill="#30c090"/><circle cx="594.3" cy="398" r="2.7" fill="#20b6bc"/><circle cx="613" cy="300.6" r="2.7" fill="#2996ef"/><circle cx="612.9" cy="405.9" r="2.7" fill="#20b6bc"/><circle cx="620.8" cy="374" r="2.7" fill="#2994f1"/><circle cx="587.4" cy="337.1" r="2.7" fill="#3187f3"/><circle cx="604.7" cy="352.9" r="2.7" fill="#4062f2"/><circle cx="635.3" cy="353.3" r="2.7" fill="#279ce9"/><circle cx="605.3" cy="311.6" r="2.7" fill="#3b76f4"/><circle cx="628.9" cy="355.8" r="2.7" fill="#3c73f4"/><circle cx="576.4" cy="350.9" r="2.7" fill="#2897ee"/><circle cx="570.8" cy="311.3" r="2.7" fill="#23a8df"/><circle cx="611" cy="383" r="2.7" fill="#269fe7"/><circle cx="590.2" cy="389.8" r="2.7" fill="#21acdc"/><circle cx="602.5" cy="290.4" r="2.7" fill="#24a3e4"/><circle cx="563.8" cy="351.1" r="2.7" fill="#24a3e3"/><circle cx="631.3" cy="339.8" r="2.7" fill="#435af1"/><circle cx="573.3" cy="328.3" r="2.7" fill="#2e8bf3"/><circle cx="601.6" cy="368.1" r="2.7" fill="#2e8cf2"/><circle cx="588.5" cy="303.8" r="2.7" fill="#279cea"/><circle cx="603.9" cy="324.5" r="2.7" fill="#3580f3"/><circle cx="585" cy="367" r="2.7" fill="#24a5e1"/><circle cx="583.5" cy="351.8" r="2.7" fill="#397af4"/><circle cx="575.7" cy="269.9" r="2.7" fill="#38c188"/><circle cx="595.5" cy="360.5" r="2.7" fill="#3286f3"/><circle cx="588.6" cy="373.7" r="2.7" fill="#2899ec"/><circle cx="608.7" cy="372.9" r="2.7" fill="#2897ee"/><circle cx="584.5" cy="297" r="2.7" fill="#22abdd"/><circle cx="617.1" cy="367.2" r="2.7" fill="#3384f3"/><circle cx="611.5" cy="321.4" r="2.7" fill="#4358f1"/><circle cx="622" cy="379.5" r="2.7" fill="#279bea"/><circle cx="583.9" cy="299.3" r="2.7" fill="#20afd9"/><circle cx="594.1" cy="375.6" r="2.7" fill="#24a4e2"/><circle cx="572.2" cy="233.1" r="2.7" fill="#f8bf28"/><circle cx="598.9" cy="315.2" r="2.7" fill="#377df4"/><circle cx="608.1" cy="442.9" r="2.7" fill="#d4c232"/><circle cx="627.3" cy="340.7" r="2.7" fill="#4552f1"/><circle cx="585.9" cy="425.7" r="2.7" fill="#66c85d"/><circle cx="598.4" cy="356.5" r="2.7" fill="#3c71f3"/><circle cx="620.2" cy="300" r="2.7" fill="#25a2e4"/><circle cx="615.7" cy="311.5" r="2.7" fill="#387bf4"/><circle cx="619.6" cy="390.8" r="2.7" fill="#22abdd"/><circle cx="597.1" cy="362.6" r="2.7" fill="#387bf4"/><circle cx="601.5" cy="358.5" r="2.7" fill="#3d6ef3"/><circle cx="618.6" cy="333.5" r="2.7" fill="#4842e7"/><circle cx="594.3" cy="367.2" r="2.7" fill="#3088f3"/><circle cx="621.3" cy="410.1" r="2.7" fill="#2dbf95"/><circle cx="577.7" cy="287.5" r="2.7" fill="#2cbe98"/><circle cx="601.2" cy="331" r="2.7" fill="#4848f0"/><circle cx="599.4" cy="327.5" r="2.7" fill="#474cf0"/><circle cx="576.2" cy="361.9" r="2.7" fill="#2a93f1"/><circle cx="578.7" cy="289" r="2.7" fill="#20b3c8"/><circle cx="586.1" cy="393.7" r="2.7" fill="#23b9ab"/><circle cx="585.9" cy="285.8" r="2.7" fill="#20b1d5"/><circle cx="606.4" cy="342.4" r="2.7" fill="#4455f1"/><circle cx="580.4" cy="268.8" r="2.7" fill="#24baa9"/><circle cx="630" cy="308.3" r="2.7" fill="#25a1e5"/><circle cx="598.5" cy="381.1" r="2.7" fill="#20b0d8"/><circle cx="602.9" cy="252" r="2.7" fill="#c2c636"/><circle cx="624.9" cy="418.7" r="2.7" fill="#46c47a"/><circle cx="577.8" cy="334.9" r="2.7" fill="#387cf4"/><circle cx="569.8" cy="303" r="2.7" fill="#24a4e3"/><circle cx="588.6" cy="312.7" r="2.7" fill="#367ff3"/><circle cx="602.3" cy="300.9" r="2.7" fill="#2995ef"/><circle cx="622.4" cy="382.8" r="2.7" fill="#25a0e6"/><circle cx="589.5" cy="290.8" r="2.7" fill="#20b1d1"/><circle cx="613.7" cy="359.3" r="2.7" fill="#3c72f3"/><circle cx="588.4" cy="371.6" r="2.7" fill="#2996ee"/><circle cx="612.2" cy="363.2" r="2.7" fill="#2c8ef2"/><circle cx="603.9" cy="364.1" r="2.7" fill="#2b90f2"/><circle cx="627.9" cy="304.5" r="2.7" fill="#2995ef"/><circle cx="626" cy="325.4" r="2.7" fill="#435af1"/><circle cx="608.6" cy="366.9" r="2.7" fill="#2a93f1"/><circle cx="617.8" cy="324.6" r="2.7" fill="#4456f1"/><circle cx="574.7" cy="236.6" r="2.7" fill="#f8ba2b"/><circle cx="610.3" cy="315.5" r="2.7" fill="#3f66f2"/><circle cx="613.5" cy="290.3" r="2.7" fill="#23a7e0"/><circle cx="615.8" cy="359.1" r="2.7" fill="#2898ed"/><circle cx="625.2" cy="292.2" r="2.7" fill="#22a9de"/><circle cx="609.2" cy="360.2" r="2.7" fill="#2d8df2"/><circle cx="587.2" cy="311.4" r="2.7" fill="#2a93f1"/><circle cx="580.7" cy="258.1" r="2.7" fill="#a0c843"/><circle cx="625.8" cy="385.1" r="2.7" fill="#22aade"/><circle cx="593.4" cy="326.2" r="2.7" fill="#3a77f4"/><circle cx="570.7" cy="285.1" r="2.7" fill="#22b9ab"/><circle cx="606.8" cy="365.2" r="2.7" fill="#2996ee"/><circle cx="607.3" cy="327.9" r="2.7" fill="#4844ea"/><circle cx="569.1" cy="357.1" r="2.7" fill="#2995ef"/><circle cx="595.1" cy="301.9" r="2.7" fill="#2897ed"/><circle cx="617.9" cy="350.2" r="2.7" fill="#3b75f4"/><circle cx="575.5" cy="288.5" r="2.7" fill="#20afd9"/><circle cx="606" cy="363.8" r="2.7" fill="#2f8af3"/><circle cx="577.2" cy="326.1" r="2.7" fill="#2a93f1"/><circle cx="617.4" cy="314.1" r="2.7" fill="#3b74f4"/><circle cx="606.4" cy="442.7" r="2.7" fill="#bcc737"/><circle cx="622.1" cy="366.8" r="2.7" fill="#3285f3"/><circle cx="606.9" cy="399.4" r="2.7" fill="#20b7b4"/><circle cx="609.5" cy="394.7" r="2.7" fill="#20b2ce"/><circle cx="611" cy="333" r="2.7" fill="#425bf2"/><circle cx="586.4" cy="356.5" r="2.7" fill="#397af4"/><circle cx="625.6" cy="362.6" r="2.7" fill="#2b90f2"/><circle cx="593.5" cy="294.6" r="2.7" fill="#269fe7"/><circle cx="653.5" cy="349.3" r="2.7" fill="#2995ef"/><circle cx="603.3" cy="357.7" r="2.7" fill="#2c8ff2"/><circle cx="627" cy="365.6" r="2.7" fill="#2897ee"/><circle cx="553" cy="331.2" r="2.7" fill="#25a2e5"/><circle cx="614.9" cy="362.2" r="2.7" fill="#3580f3"/><circle cx="587.5" cy="278" r="2.7" fill="#20b6bc"/><circle cx="583.3" cy="332" r="2.7" fill="#3d6cf3"/><circle cx="583.5" cy="383.2" r="2.7" fill="#22abdd"/><circle cx="572.4" cy="259.9" r="2.7" fill="#97c847"/><circle cx="572.5" cy="283.9" r="2.7" fill="#20b7b6"/><circle cx="607" cy="328.9" r="2.7" fill="#4843e8"/><circle cx="586.3" cy="339" r="2.7" fill="#3f67f3"/><circle cx="601.8" cy="331.7" r="2.7" fill="#387bf4"/><circle cx="602.9" cy="269" r="2.7" fill="#2dbe96"/><circle cx="615.4" cy="339.2" r="2.7" fill="#4846ec"/><circle cx="574.5" cy="350.6" r="2.7" fill="#2994f1"/><circle cx="623.4" cy="363.6" r="2.7" fill="#3186f3"/><circle cx="576.5" cy="354.5" r="2.7" fill="#3088f3"/><circle cx="554" cy="293.5" r="2.7" fill="#24baa9"/><circle cx="590.2" cy="318.4" r="2.7" fill="#2b90f2"/><circle cx="568.3" cy="303.2" r="2.7" fill="#21acdc"/><circle cx="605.3" cy="389.7" r="2.7" fill="#21aeda"/><circle cx="622.9" cy="352.3" r="2.7" fill="#415ff2"/><circle cx="601.1" cy="279.3" r="2.7" fill="#20b4c4"/><circle cx="608.3" cy="309.1" r="2.7" fill="#387bf4"/><circle cx="618.4" cy="414.2" r="2.7" fill="#25baa6"/><circle cx="548.1" cy="257.4" r="2.7" fill="#e0c030"/><circle cx="578.5" cy="316.6" r="2.7" fill="#3187f3"/><circle cx="587.5" cy="307.6" r="2.7" fill="#269ee8"/><circle cx="598.3" cy="356.9" r="2.7" fill="#3d6ef3"/><circle cx="593.9" cy="286.1" r="2.7" fill="#20b6bb"/><circle cx="593.6" cy="327.7" r="2.7" fill="#4062f2"/><circle cx="605.2" cy="286.6" r="2.7" fill="#20b1d2"/><circle cx="618.1" cy="339.9" r="2.7" fill="#474cf0"/><circle cx="599.5" cy="352.4" r="2.7" fill="#4160f2"/><circle cx="599.8" cy="373.4" r="2.7" fill="#2994f0"/><circle cx="608" cy="286.9" r="2.7" fill="#20b1d5"/><circle cx="615.9" cy="294.2" r="2.7" fill="#21addb"/><circle cx="617.6" cy="270.7" r="2.7" fill="#26bba4"/><circle cx="638.4" cy="336.7" r="2.7" fill="#2995ef"/><circle cx="593.7" cy="341.4" r="2.7" fill="#3f65f2"/><circle cx="633.2" cy="343.8" r="2.7" fill="#24a3e3"/><circle cx="570.3" cy="259" r="2.7" fill="#4ec572"/><circle cx="599.9" cy="365.4" r="2.7" fill="#3383f3"/><circle cx="613.8" cy="378.3" r="2.7" fill="#2899ec"/><circle cx="592.5" cy="350" r="2.7" fill="#3b74f4"/><circle cx="592.8" cy="359.1" r="2.7" fill="#3088f3"/><circle cx="585.4" cy="338.8" r="2.7" fill="#3e6cf3"/><circle cx="605.8" cy="289" r="2.7" fill="#20afd9"/><circle cx="593.8" cy="383" r="2.7" fill="#24a4e2"/><circle cx="654" cy="328.8" r="2.7" fill="#2a92f2"/><circle cx="564.1" cy="397.3" r="2.7" fill="#20b7b6"/><circle cx="598.3" cy="365.2" r="2.7" fill="#2898ed"/><circle cx="588.5" cy="330.3" r="2.7" fill="#3d6df3"/><circle cx="607.5" cy="335.7" r="2.7" fill="#3f68f3"/><circle cx="599.7" cy="334.8" r="2.7" fill="#4847ee"/><circle cx="577.7" cy="361.5" r="2.7" fill="#2a93f2"/><circle cx="578.4" cy="285.1" r="2.7" fill="#20b4c6"/><circle cx="584.1" cy="308.3" r="2.7" fill="#20b2cc"/><circle cx="593.7" cy="355" r="2.7" fill="#3d6cf3"/><circle cx="600.5" cy="269" r="2.7" fill="#2ebf94"/><circle cx="585.5" cy="254.7" r="2.7" fill="#8fc84b"/><circle cx="597.5" cy="243.1" r="2.7" fill="#cbc434"/><circle cx="563.1" cy="329.2" r="2.7" fill="#269fe7"/><circle cx="589.5" cy="342.6" r="2.7" fill="#3f66f3"/><circle cx="610" cy="384.6" r="2.7" fill="#21adda"/><circle cx="608.3" cy="352.4" r="2.7" fill="#4457f1"/><circle cx="602.3" cy="214.2" r="2.7" fill="#f5d920"/><circle cx="599.2" cy="325.7" r="2.7" fill="#4160f2"/><circle cx="586.7" cy="334.2" r="2.7" fill="#3d6ff3"/><circle cx="640.6" cy="336.5" r="2.7" fill="#2995f0"/><circle cx="610.6" cy="258.7" r="2.7" fill="#55c66b"/><circle cx="608.7" cy="329.7" r="2.7" fill="#415ff2"/><circle cx="603.4" cy="354.3" r="2.7" fill="#4065f2"/><circle cx="635.2" cy="397.8" r="2.7" fill="#20b3ca"/><circle cx="612.7" cy="379.7" r="2.7" fill="#22abdc"/><circle cx="605.1" cy="409.3" r="2.7" fill="#23baaa"/><circle cx="573.7" cy="352.6" r="2.7" fill="#2d8df2"/><circle cx="570.8" cy="388.6" r="2.7" fill="#20b5c1"/><circle cx="601.8" cy="310.5" r="2.7" fill="#23a8df"/><circle cx="621.7" cy="325.6" r="2.7" fill="#4455f1"/><circle cx="591.9" cy="309.6" r="2.7" fill="#279aeb"/><circle cx="643.7" cy="344.7" r="2.7" fill="#397af4"/><circle cx="595.1" cy="390.2" r="2.7" fill="#20b0d8"/><circle cx="578.4" cy="318.4" r="2.7" fill="#3285f3"/><circle cx="600.5" cy="320.5" r="2.7" fill="#415ff2"/><circle cx="623.2" cy="399.6" r="2.7" fill="#27bca1"/><circle cx="552.4" cy="271.5" r="2.7" fill="#2ebf93"/><circle cx="629.2" cy="342.5" r="2.7" fill="#3c70f3"/><circle cx="570.4" cy="266.2" r="2.7" fill="#4ec572"/><circle cx="589.3" cy="319.5" r="2.7" fill="#2b90f2"/><circle cx="606" cy="370.3" r="2.7" fill="#2a93f1"/><circle cx="603" cy="371.3" r="2.7" fill="#2c8ef2"/><circle cx="592.7" cy="359.3" r="2.7" fill="#3979f4"/><circle cx="654.8" cy="286.8" r="2.7" fill="#20b4c6"/><circle cx="630.4" cy="384.3" r="2.7" fill="#22aadd"/><circle cx="606.4" cy="347.8" r="2.7" fill="#22aadd"/><circle cx="618.2" cy="338.9" r="2.7" fill="#3f68f3"/><circle cx="604.4" cy="441.1" r="2.7" fill="#b0c83c"/><circle cx="616.7" cy="342.2" r="2.7" fill="#2f8bf3"/><circle cx="608.1" cy="298" r="2.7" fill="#25a2e4"/><circle cx="595.5" cy="380.6" r="2.7" fill="#21addb"/><circle cx="650.9" cy="347.4" r="2.7" fill="#2a93f1"/><circle cx="594.9" cy="347.4" r="2.7" fill="#3581f3"/><circle cx="566.5" cy="342.7" r="2.7" fill="#2995f0"/><circle cx="631.2" cy="353.4" r="2.7" fill="#2f8af3"/><circle cx="616.1" cy="369.6" r="2.7" fill="#2899ec"/><circle cx="609.1" cy="329.8" r="2.7" fill="#425ef2"/><circle cx="608" cy="388.5" r="2.7" fill="#23a6e0"/><circle cx="606" cy="264.9" r="2.7" fill="#33c08d"/><circle cx="615.1" cy="327.9" r="2.7" fill="#3e6af3"/><circle cx="598.7" cy="245" r="2.7" fill="#c0c636"/><circle cx="567.2" cy="297" r="2.7" fill="#20b1d4"/><circle cx="606.3" cy="347.5" r="2.7" fill="#474bf0"/><circle cx="624.1" cy="349.8" r="2.7" fill="#367ef4"/><circle cx="619.5" cy="373.7" r="2.7" fill="#2996ee"/><circle cx="612" cy="370.6" r="2.7" fill="#2e8cf2"/><circle cx="632.8" cy="264" r="2.7" fill="#43c37d"/><circle cx="600.3" cy="270.8" r="2.7" fill="#20b7b4"/><circle cx="608.7" cy="369.4" r="2.7" fill="#24a5e2"/><circle cx="577.5" cy="253.6" r="2.7" fill="#85c84f"/><circle cx="574" cy="320.1" r="2.7" fill="#2f89f3"/><circle cx="635.9" cy="342.8" r="2.7" fill="#3f67f3"/><circle cx="611.7" cy="377.2" r="2.7" fill="#24a4e2"/><circle cx="598.3" cy="252.3" r="2.7" fill="#a3c841"/><circle cx="627" cy="350.2" r="2.7" fill="#3f66f2"/><circle cx="598.1" cy="376.5" r="2.7" fill="#279ce9"/><circle cx="615.6" cy="308.3" r="2.7" fill="#3383f3"/><circle cx="580.9" cy="339.7" r="2.7" fill="#3d6ff3"/><circle cx="582.1" cy="381.1" r="2.7" fill="#24a4e2"/><circle cx="603.9" cy="321.5" r="2.7" fill="#3b75f4"/><circle cx="604.1" cy="355" r="2.7" fill="#269ee8"/><circle cx="570.7" cy="363.1" r="2.7" fill="#20b5be"/><circle cx="611.1" cy="347.9" r="2.7" fill="#3c71f3"/><circle cx="592" cy="405.6" r="2.7" fill="#25baa6"/><circle cx="576.4" cy="303.6" r="2.7" fill="#279cea"/><circle cx="605.6" cy="282.6" r="2.7" fill="#20b2cc"/><circle cx="597.6" cy="320.9" r="2.7" fill="#3580f3"/><circle cx="576.4" cy="298.6" r="2.7" fill="#22b9ac"/><circle cx="585.4" cy="316.5" r="2.7" fill="#377ef4"/><circle cx="614.3" cy="252.3" r="2.7" fill="#c6c535"/><circle cx="613" cy="272.6" r="2.7" fill="#2fc092"/><circle cx="606.3" cy="386.9" r="2.7" fill="#22a9de"/><circle cx="550.3" cy="364.3" r="2.7" fill="#20b3c8"/><circle cx="609.2" cy="395.5" r="2.7" fill="#20b1d3"/><circle cx="617.2" cy="346.3" r="2.7" fill="#3f67f3"/><circle cx="618.7" cy="306.6" r="2.7" fill="#3285f3"/><circle cx="624.9" cy="286.8" r="2.7" fill="#21addb"/><circle cx="605.7" cy="347.6" r="2.7" fill="#464ef1"/><circle cx="587.1" cy="360.6" r="2.7" fill="#3186f3"/><circle cx="617.3" cy="326.8" r="2.7" fill="#4456f1"/><circle cx="612.5" cy="337.3" r="2.7" fill="#3b74f4"/><circle cx="613.8" cy="267.1" r="2.7" fill="#2abd9c"/><circle cx="599.7" cy="314.3" r="2.7" fill="#3b74f4"/><circle cx="580.7" cy="363" r="2.7" fill="#2994f0"/><circle cx="605.9" cy="293.9" r="2.7" fill="#20b2cd"/><circle cx="597.3" cy="231.1" r="2.7" fill="#e6bc30"/><circle cx="637.2" cy="361" r="2.7" fill="#2b90f2"/><circle cx="570.9" cy="264.4" r="2.7" fill="#37c189"/><circle cx="597.5" cy="340.6" r="2.7" fill="#3c70f3"/><circle cx="615" cy="333.1" r="2.7" fill="#3e6bf3"/><circle cx="611.4" cy="305.9" r="2.7" fill="#25a0e6"/><circle cx="611.9" cy="394.8" r="2.7" fill="#20b2cf"/><circle cx="616.9" cy="338.8" r="2.7" fill="#4846ed"/><circle cx="593.6" cy="263.9" r="2.7" fill="#35c18b"/><circle cx="591.5" cy="295.8" r="2.7" fill="#23a7df"/><circle cx="602.8" cy="359" r="2.7" fill="#3c73f4"/><circle cx="635" cy="380.4" r="2.7" fill="#20b6b8"/><circle cx="588.6" cy="335.7" r="2.7" fill="#4160f2"/><circle cx="589.2" cy="400.4" r="2.7" fill="#20b6b9"/><circle cx="586.8" cy="371.6" r="2.7" fill="#269de9"/><circle cx="605.2" cy="346.2" r="2.7" fill="#4358f1"/><circle cx="614" cy="382" r="2.7" fill="#20b2cd"/><circle cx="626.6" cy="335.2" r="2.7" fill="#3f65f2"/><circle cx="570.4" cy="284" r="2.7" fill="#20b5c1"/><circle cx="619.5" cy="362.9" r="2.7" fill="#3088f3"/><circle cx="620.9" cy="376.8" r="2.7" fill="#2897ed"/><circle cx="610" cy="338.2" r="2.7" fill="#3285f3"/><circle cx="605.8" cy="270" r="2.7" fill="#20b8b2"/><circle cx="602.8" cy="350.1" r="2.7" fill="#367ef4"/><circle cx="610.4" cy="270.6" r="2.7" fill="#45c37b"/><circle cx="625.7" cy="302.6" r="2.7" fill="#22a9de"/><circle cx="599.6" cy="381.5" r="2.7" fill="#21aeda"/><circle cx="567.9" cy="289.3" r="2.7" fill="#20b3cb"/><circle cx="608.3" cy="340.5" r="2.7" fill="#367ff3"/><circle cx="629.3" cy="287.6" r="2.7" fill="#21addb"/><circle cx="600.4" cy="268.5" r="2.7" fill="#25bba6"/><circle cx="584.1" cy="260.6" r="2.7" fill="#92c849"/><circle cx="601.2" cy="345.9" r="2.7" fill="#425cf2"/><circle cx="629.2" cy="326.3" r="2.7" fill="#3f68f3"/><circle cx="581.8" cy="305.3" r="2.7" fill="#2897ee"/><circle cx="562.9" cy="329.3" r="2.7" fill="#2996ee"/><circle cx="611.2" cy="289.7" r="2.7" fill="#21acdb"/><circle cx="583.8" cy="369.2" r="2.7" fill="#2995f0"/><circle cx="602.2" cy="371" r="2.7" fill="#20b1d3"/><circle cx="599.8" cy="401.6" r="2.7" fill="#20b7b4"/><circle cx="613.8" cy="356.8" r="2.7" fill="#2f8af3"/><circle cx="614.7" cy="250.3" r="2.7" fill="#9fc843"/><circle cx="599.4" cy="344.1" r="2.7" fill="#2995ef"/><circle cx="610.9" cy="311.2" r="2.7" fill="#3383f3"/><circle cx="586.2" cy="285.3" r="2.7" fill="#20b7b3"/><circle cx="621.4" cy="310.1" r="2.7" fill="#2899ec"/><circle cx="569" cy="298.5" r="2.7" fill="#20afd9"/><circle cx="575.9" cy="307.3" r="2.7" fill="#279aeb"/><circle cx="603.4" cy="240.8" r="2.7" fill="#eeb730"/><circle cx="603.7" cy="427.2" r="2.7" fill="#6bc85b"/><circle cx="595.2" cy="361.1" r="2.7" fill="#3481f3"/><circle cx="578.7" cy="228" r="2.7" fill="#f8b62d"/><circle cx="607.3" cy="355.8" r="2.7" fill="#2899ec"/><circle cx="587.9" cy="355" r="2.7" fill="#367ef4"/><circle cx="628.4" cy="297.1" r="2.7" fill="#22aadd"/><circle cx="594.9" cy="334.4" r="2.7" fill="#3b75f4"/><circle cx="607.1" cy="308.5" r="2.7" fill="#2a93f1"/><circle cx="553.3" cy="339.5" r="2.7" fill="#22a9de"/><circle cx="555" cy="342.8" r="2.7" fill="#21acdb"/><circle cx="588.8" cy="220.8" r="2.7" fill="#f0e420"/><circle cx="641.8" cy="340.2" r="2.7" fill="#2e8cf2"/><circle cx="618.1" cy="316.1" r="2.7" fill="#3f67f3"/><circle cx="589" cy="348.3" r="2.7" fill="#3f66f3"/><circle cx="590.6" cy="413.8" r="2.7" fill="#59c767"/><circle cx="628.4" cy="350.1" r="2.7" fill="#3d6ef3"/><circle cx="598.5" cy="385.4" r="2.7" fill="#20b7b3"/><circle cx="611.3" cy="296.6" r="2.7" fill="#279ce9"/><circle cx="604.4" cy="317.4" r="2.7" fill="#4062f2"/><circle cx="621.2" cy="399.7" r="2.7" fill="#20b2cc"/><circle cx="626.3" cy="375" r="2.7" fill="#2897ee"/><circle cx="592.9" cy="304.6" r="2.7" fill="#2a91f2"/><circle cx="600.7" cy="323.6" r="2.7" fill="#24a4e2"/><circle cx="618.3" cy="261.2" r="2.7" fill="#4ec572"/><circle cx="591.4" cy="271" r="2.7" fill="#28bca0"/><circle cx="614.5" cy="344.4" r="2.7" fill="#4846ed"/><circle cx="624.6" cy="359.2" r="2.7" fill="#3482f3"/><circle cx="615.3" cy="343.3" r="2.7" fill="#3a77f4"/><circle cx="625.6" cy="319" r="2.7" fill="#387bf4"/><circle cx="599.3" cy="279.8" r="2.7" fill="#2bbd9a"/><circle cx="562.2" cy="348.8" r="2.7" fill="#279aeb"/><circle cx="615.5" cy="310" r="2.7" fill="#397af4"/><circle cx="587.1" cy="368" r="2.7" fill="#269fe7"/><circle cx="585.9" cy="369" r="2.7" fill="#24a3e3"/><circle cx="594.5" cy="307" r="2.7" fill="#2897ee"/><circle cx="571.9" cy="366.6" r="2.7" fill="#279bea"/><circle cx="623.2" cy="369.6" r="2.7" fill="#20b4c4"/><circle cx="626.3" cy="364.3" r="2.7" fill="#3384f3"/><circle cx="585.7" cy="268.3" r="2.7" fill="#2bbe9a"/><circle cx="593.9" cy="316.6" r="2.7" fill="#3c70f3"/><circle cx="593.2" cy="344.8" r="2.7" fill="#435bf2"/><circle cx="596.3" cy="302.2" r="2.7" fill="#2a93f1"/><circle cx="620.5" cy="302.1" r="2.7" fill="#2a92f2"/><circle cx="586.2" cy="371.1" r="2.7" fill="#269ee7"/><circle cx="623.6" cy="330.1" r="2.7" fill="#377df4"/><circle cx="632.8" cy="339.8" r="2.7" fill="#425ef2"/><circle cx="622.2" cy="346.7" r="2.7" fill="#3b74f4"/><circle cx="601.3" cy="319.4" r="2.7" fill="#3c72f3"/><circle cx="629.7" cy="380.4" r="2.7" fill="#24a5e1"/><circle cx="597.4" cy="294.2" r="2.7" fill="#25a0e6"/><circle cx="613.7" cy="350.3" r="2.7" fill="#4455f1"/><circle cx="598.8" cy="354.1" r="2.7" fill="#3f66f2"/><circle cx="594.4" cy="398.3" r="2.7" fill="#20b5bf"/><circle cx="575.5" cy="316.5" r="2.7" fill="#25a1e5"/><circle cx="592.5" cy="369.5" r="2.7" fill="#2a92f2"/><circle cx="606.6" cy="348.8" r="2.7" fill="#3a78f4"/><circle cx="586.7" cy="358.6" r="2.7" fill="#2996ef"/><circle cx="635.5" cy="371.8" r="2.7" fill="#22aadd"/><circle cx="590.4" cy="363.1" r="2.7" fill="#3383f3"/><circle cx="596.7" cy="345.2" r="2.7" fill="#4553f1"/><circle cx="578.9" cy="280.2" r="2.7" fill="#20b5be"/><circle cx="598" cy="344.9" r="2.7" fill="#464ff1"/><circle cx="601" cy="288.8" r="2.7" fill="#21acdb"/><circle cx="607" cy="341.8" r="2.7" fill="#464ef0"/><circle cx="601.6" cy="254.7" r="2.7" fill="#9ac845"/><circle cx="573.1" cy="288.8" r="2.7" fill="#20b5c0"/><circle cx="614.7" cy="274" r="2.7" fill="#20b5bf"/><circle cx="629.5" cy="345.6" r="2.7" fill="#357ff3"/><circle cx="593" cy="343" r="2.7" fill="#4160f2"/><circle cx="624.2" cy="364.3" r="2.7" fill="#2994f1"/><circle cx="632.1" cy="380.5" r="2.7" fill="#25a1e5"/><circle cx="596.2" cy="291.1" r="2.7" fill="#23a7e0"/><circle cx="625.5" cy="335.2" r="2.7" fill="#3d6ef3"/><circle cx="599.3" cy="354.5" r="2.7" fill="#3c70f3"/><circle cx="577.6" cy="321.5" r="2.7" fill="#20b0d8"/><circle cx="653.4" cy="407.3" r="2.7" fill="#28bca0"/><circle cx="598.4" cy="325.9" r="2.7" fill="#3b75f4"/><circle cx="611.7" cy="308.7" r="2.7" fill="#387bf4"/><circle cx="600.2" cy="350" r="2.7" fill="#3c70f3"/><circle cx="602.8" cy="320.1" r="2.7" fill="#425bf2"/><circle cx="602.6" cy="246.2" r="2.7" fill="#eab930"/><circle cx="587.8" cy="351.3" r="2.7" fill="#3c71f3"/><circle cx="599.6" cy="273.8" r="2.7" fill="#20b8b0"/><circle cx="599.1" cy="371.7" r="2.7" fill="#2b90f2"/><circle cx="617.4" cy="346.5" r="2.7" fill="#4064f2"/><circle cx="600.2" cy="349.1" r="2.7" fill="#4455f1"/><circle cx="591.7" cy="375.4" r="2.7" fill="#20afd9"/><circle cx="638.8" cy="391.1" r="2.7" fill="#20b3c8"/><circle cx="598.7" cy="338.7" r="2.7" fill="#4160f2"/><circle cx="603.3" cy="222.2" r="2.7" fill="#f1e120"/><circle cx="597.4" cy="326.7" r="2.7" fill="#4552f1"/><circle cx="633" cy="301.8" r="2.7" fill="#22aadd"/><circle cx="628.4" cy="348.4" r="2.7" fill="#3d6cf3"/><circle cx="625.2" cy="390.5" r="2.7" fill="#21aeda"/><circle cx="589" cy="356.4" r="2.7" fill="#397af4"/><circle cx="583.8" cy="406" r="2.7" fill="#20b7b3"/><circle cx="602.6" cy="373.5" r="2.7" fill="#2a92f2"/><circle cx="614.1" cy="314.9" r="2.7" fill="#2e8bf3"/><circle cx="561.4" cy="307.7" r="2.7" fill="#21acdc"/><circle cx="611.2" cy="379.1" r="2.7" fill="#25a0e6"/><circle cx="621.5" cy="275.6" r="2.7" fill="#27bba2"/><circle cx="599.2" cy="354.7" r="2.7" fill="#2a92f2"/><circle cx="609.3" cy="323.3" r="2.7" fill="#4358f1"/><circle cx="595.6" cy="262.4" r="2.7" fill="#2cbe99"/><circle cx="608.7" cy="370.7" r="2.7" fill="#2994f0"/><circle cx="576.4" cy="355.4" r="2.7" fill="#3089f3"/><circle cx="619.7" cy="384.4" r="2.7" fill="#22a9de"/><circle cx="588.1" cy="354.2" r="2.7" fill="#377df4"/><circle cx="612.4" cy="350.5" r="2.7" fill="#3f68f3"/><circle cx="588" cy="347.4" r="2.7" fill="#3f68f3"/><circle cx="621.2" cy="296.9" r="2.7" fill="#269fe7"/><circle cx="621.4" cy="288.7" r="2.7" fill="#22aadd"/><circle cx="576.7" cy="342.7" r="2.7" fill="#2994f0"/><circle cx="586.5" cy="323.8" r="2.7" fill="#3e6cf3"/><circle cx="641.9" cy="343.4" r="2.7" fill="#3088f3"/><circle cx="623.9" cy="402" r="2.7" fill="#20b4c2"/><circle cx="598.8" cy="369.6" r="2.7" fill="#20b1d1"/><circle cx="600.2" cy="349.6" r="2.7" fill="#4456f1"/><circle cx="623" cy="352.1" r="2.7" fill="#415ef2"/><circle cx="625.6" cy="393" r="2.7" fill="#20b5bf"/><circle cx="602.4" cy="367.2" r="2.7" fill="#3383f3"/><circle cx="603.5" cy="352.8" r="2.7" fill="#3580f3"/><circle cx="596.3" cy="373.4" r="2.7" fill="#2994f0"/><circle cx="599.6" cy="329.9" r="2.7" fill="#2a92f2"/><circle cx="639.2" cy="345.3" r="2.7" fill="#3c71f3"/><circle cx="599.7" cy="324.7" r="2.7" fill="#4552f1"/><circle cx="610.5" cy="361.8" r="2.7" fill="#367ff3"/><circle cx="613.8" cy="374.7" r="2.7" fill="#25a0e6"/><circle cx="638.4" cy="304.7" r="2.7" fill="#279aeb"/><circle cx="616.5" cy="313.8" r="2.7" fill="#3187f3"/><circle cx="610.5" cy="236.1" r="2.7" fill="#e5bd30"/><circle cx="578" cy="321.2" r="2.7" fill="#3089f3"/><circle cx="573.2" cy="365.1" r="2.7" fill="#2899ec"/><circle cx="591.8" cy="370.4" r="2.7" fill="#2899ec"/><circle cx="575.8" cy="365.3" r="2.7" fill="#279aeb"/><circle cx="596.8" cy="342.9" r="2.7" fill="#4554f1"/><circle cx="618.5" cy="337.8" r="2.7" fill="#4847ef"/><circle cx="539.4" cy="319.4" r="2.7" fill="#20b4c6"/><circle cx="633.7" cy="388.2" r="2.7" fill="#20b6b8"/><circle cx="642" cy="377.6" r="2.7" fill="#20b0d8"/><circle cx="605.9" cy="380.8" r="2.7" fill="#269de9"/><circle cx="586.7" cy="324.5" r="2.7" fill="#3c71f3"/><circle cx="604" cy="285.6" r="2.7" fill="#22aadd"/><circle cx="637.8" cy="339" r="2.7" fill="#2995ef"/><circle cx="618.7" cy="299.2" r="2.7" fill="#279cea"/><circle cx="606.6" cy="365.8" r="2.7" fill="#3481f3"/><circle cx="580.3" cy="331.4" r="2.7" fill="#2f8bf3"/><circle cx="592.8" cy="405" r="2.7" fill="#36c18a"/><circle cx="604.5" cy="399.5" r="2.7" fill="#33c18d"/><circle cx="618.3" cy="358.1" r="2.7" fill="#3e6af3"/><circle cx="598.3" cy="348.9" r="2.7" fill="#4457f1"/><circle cx="622.3" cy="367.9" r="2.7" fill="#2995ef"/><circle cx="640" cy="414.7" r="2.7" fill="#4fc571"/><circle cx="619" cy="291.2" r="2.7" fill="#22a9de"/><circle cx="601.6" cy="380.4" r="2.7" fill="#20b2d0"/><circle cx="617.8" cy="404" r="2.7" fill="#20b6bc"/><circle cx="599.1" cy="391" r="2.7" fill="#20b0d7"/><circle cx="620.6" cy="414.4" r="2.7" fill="#4ac476"/><circle cx="589.2" cy="340.6" r="2.7" fill="#415ff2"/><circle cx="577.9" cy="364.2" r="2.7" fill="#20afd9"/><circle cx="588.7" cy="335.3" r="2.7" fill="#4063f2"/><circle cx="639.7" cy="344.2" r="2.7" fill="#3186f3"/><circle cx="602.9" cy="273.2" r="2.7" fill="#2cbe99"/><circle cx="586.2" cy="233.4" r="2.7" fill="#f6d620"/><circle cx="603.4" cy="388.1" r="2.7" fill="#20b2cf"/><circle cx="587.2" cy="332.7" r="2.7" fill="#415ff2"/><circle cx="585.5" cy="326.1" r="2.7" fill="#3b76f4"/><circle cx="642.7" cy="339.9" r="2.7" fill="#3b74f4"/><circle cx="600.5" cy="336.8" r="2.7" fill="#3089f3"/><circle cx="612.7" cy="312.8" r="2.7" fill="#3481f3"/><circle cx="601.9" cy="320.4" r="2.7" fill="#3f68f3"/><circle cx="569.8" cy="225" r="2.7" fill="#f6d520"/><circle cx="607" cy="340.9" r="2.7" fill="#2c8ff2"/><circle cx="597.2" cy="420.9" r="2.7" fill="#38c188"/><circle cx="598.9" cy="340.7" r="2.7" fill="#484af0"/><circle cx="597.8" cy="344.4" r="2.7" fill="#4455f1"/><circle cx="579" cy="382.3" r="2.7" fill="#22aadd"/><circle cx="621.5" cy="260.3" r="2.7" fill="#41c37f"/><circle cx="598.1" cy="354.1" r="2.7" fill="#3089f3"/><circle cx="595.7" cy="356.3" r="2.7" fill="#3482f3"/><circle cx="565.8" cy="266" r="2.7" fill="#42c37e"/><circle cx="611.7" cy="369.3" r="2.7" fill="#2c8ff2"/><circle cx="605.3" cy="294.2" r="2.7" fill="#269ee7"/><circle cx="607.2" cy="370.6" r="2.7" fill="#2e8bf3"/><circle cx="615.2" cy="374.7" r="2.7" fill="#2995f0"/><circle cx="647.2" cy="341.6" r="2.7" fill="#23a6e1"/><circle cx="601" cy="347.1" r="2.7" fill="#4650f1"/><circle cx="605.4" cy="341.5" r="2.7" fill="#425ef2"/><circle cx="571.1" cy="336.2" r="2.7" fill="#3186f3"/><circle cx="609.9" cy="338.9" r="2.7" fill="#4455f1"/><circle cx="636.4" cy="374.1" r="2.7" fill="#25a1e5"/><circle cx="633.5" cy="358.2" r="2.7" fill="#3581f3"/><circle cx="602.5" cy="351.8" r="2.7" fill="#4359f1"/><circle cx="624.8" cy="331.7" r="2.7" fill="#474bf0"/><circle cx="603.9" cy="356.8" r="2.7" fill="#3482f3"/><circle cx="635.2" cy="356.3" r="2.7" fill="#279aeb"/><circle cx="601.6" cy="361.6" r="2.7" fill="#377cf4"/><circle cx="612.2" cy="348.2" r="2.7" fill="#367ff3"/><circle cx="579.6" cy="376.2" r="2.7" fill="#20afd9"/><circle cx="601.8" cy="324.7" r="2.7" fill="#4454f1"/><circle cx="597.8" cy="361.4" r="2.7" fill="#24a5e2"/><circle cx="559.2" cy="359.1" r="2.7" fill="#25a1e5"/><circle cx="573.2" cy="248.5" r="2.7" fill="#bcc737"/><circle cx="616" cy="368.3" r="2.7" fill="#3186f3"/><circle cx="612.2" cy="326.5" r="2.7" fill="#3087f3"/><circle cx="597.9" cy="391.4" r="2.7" fill="#20b2cd"/><circle cx="580.7" cy="269.1" r="2.7" fill="#2dbe97"/><circle cx="627.3" cy="310.3" r="2.7" fill="#3580f3"/><circle cx="569.7" cy="273.1" r="2.7" fill="#22b9ac"/><circle cx="606.8" cy="365.5" r="2.7" fill="#3581f3"/><circle cx="597.9" cy="322.4" r="2.7" fill="#435af2"/><circle cx="563.1" cy="367.6" r="2.7" fill="#22aadd"/><circle cx="581.2" cy="203.5" r="2.7" fill="#f0e420"/><circle cx="594.4" cy="356.3" r="2.7" fill="#3d6ef3"/><circle cx="581.4" cy="342.4" r="2.7" fill="#3a77f4"/><circle cx="630.3" cy="416.7" r="2.7" fill="#36c18a"/><circle cx="621.8" cy="382.5" r="2.7" fill="#25a1e5"/><circle cx="602.6" cy="362.4" r="2.7" fill="#3089f3"/><circle cx="577.4" cy="384.2" r="2.7" fill="#20b5c0"/><circle cx="581.8" cy="304.2" r="2.7" fill="#2897ee"/><circle cx="563" cy="370.2" r="2.7" fill="#23a8df"/><circle cx="598.9" cy="299.8" r="2.7" fill="#20afd9"/><circle cx="603.7" cy="338" r="2.7" fill="#4842e7"/><circle cx="607.6" cy="305.6" r="2.7" fill="#21aed9"/><circle cx="631.5" cy="339.9" r="2.7" fill="#3c71f3"/><circle cx="586.8" cy="387.2" r="2.7" fill="#20b0d8"/><circle cx="604.3" cy="343.8" r="2.7" fill="#4848f0"/><circle cx="612.7" cy="419.1" r="2.7" fill="#30c090"/><circle cx="614.2" cy="301.2" r="2.7" fill="#2996ef"/><circle cx="627.7" cy="353.7" r="2.7" fill="#3e69f3"/><circle cx="608.8" cy="391.7" r="2.7" fill="#27bca2"/><circle cx="592.8" cy="328.8" r="2.7" fill="#425cf2"/><circle cx="577.9" cy="361.8" r="2.7" fill="#279beb"/><circle cx="569" cy="326.3" r="2.7" fill="#2c8ff2"/><circle cx="614.2" cy="290.8" r="2.7" fill="#25a1e5"/><circle cx="611.4" cy="326.2" r="2.7" fill="#3b73f4"/><circle cx="591" cy="290.9" r="2.7" fill="#22a9de"/><circle cx="597" cy="376.6" r="2.7" fill="#269fe7"/><circle cx="620.5" cy="321.3" r="2.7" fill="#2a92f2"/><circle cx="624.8" cy="418.2" r="2.7" fill="#2cbe97"/><circle cx="594.3" cy="312.1" r="2.7" fill="#2994f0"/><circle cx="587.1" cy="322.9" r="2.7" fill="#24a5e2"/><circle cx="583.4" cy="302.6" r="2.7" fill="#269de9"/><circle cx="644.3" cy="306" r="2.7" fill="#269de8"/><circle cx="572.8" cy="289.7" r="2.7" fill="#20afd9"/><circle cx="587" cy="345.3" r="2.7" fill="#3d6df3"/><circle cx="617.4" cy="292.7" r="2.7" fill="#22a9de"/><circle cx="584.9" cy="303.5" r="2.7" fill="#22abdd"/><circle cx="575.8" cy="236.4" r="2.7" fill="#e0c030"/><circle cx="604.6" cy="274.6" r="2.7" fill="#20b6bc"/><circle cx="568.9" cy="340" r="2.7" fill="#2c8ff2"/><circle cx="584" cy="350.3" r="2.7" fill="#279ce9"/><circle cx="579.2" cy="299.7" r="2.7" fill="#20b1d1"/><circle cx="586.4" cy="390.9" r="2.7" fill="#20b3c9"/><circle cx="589.4" cy="270.2" r="2.7" fill="#24baa8"/><circle cx="582.3" cy="394.9" r="2.7" fill="#20b4c6"/><circle cx="614.8" cy="336.3" r="2.7" fill="#483de0"/><circle cx="620.6" cy="346.4" r="2.7" fill="#367ff3"/><circle cx="595.3" cy="337.3" r="2.7" fill="#415ff2"/><circle cx="554.6" cy="313.2" r="2.7" fill="#23a8df"/><circle cx="633.1" cy="341.9" r="2.7" fill="#3c72f4"/><circle cx="589.1" cy="369.6" r="2.7" fill="#20b2cd"/><circle cx="626.9" cy="345.4" r="2.7" fill="#415ff2"/><circle cx="626.2" cy="373.1" r="2.7" fill="#25a2e4"/><circle cx="583.1" cy="272.5" r="2.7" fill="#27bba2"/><circle cx="577.8" cy="283.9" r="2.7" fill="#20b7b6"/><circle cx="621.1" cy="383.7" r="2.7" fill="#24a3e3"/><circle cx="602.7" cy="361" r="2.7" fill="#3b73f4"/><circle cx="602.3" cy="351.2" r="2.7" fill="#425bf2"/><circle cx="610.7" cy="316.8" r="2.7" fill="#4062f2"/><circle cx="617.4" cy="356.8" r="2.7" fill="#2897ee"/><circle cx="609.1" cy="293.7" r="2.7" fill="#24a5e2"/><circle cx="593.3" cy="379.9" r="2.7" fill="#269ee8"/><circle cx="610.6" cy="256.7" r="2.7" fill="#8dc84b"/><circle cx="595" cy="249" r="2.7" fill="#9fc843"/><circle cx="610.3" cy="395" r="2.7" fill="#20afd9"/><circle cx="640.2" cy="375.4" r="2.7" fill="#20b1d4"/><circle cx="602.5" cy="274" r="2.7" fill="#25bba5"/><circle cx="604" cy="335" r="2.7" fill="#4847ef"/><circle cx="617.5" cy="252.2" r="2.7" fill="#8ac84d"/><circle cx="599.1" cy="388.9" r="2.7" fill="#20b5bf"/><circle cx="589.5" cy="298.5" r="2.7" fill="#25a0e6"/><circle cx="620.6" cy="365.1" r="2.7" fill="#2b90f2"/><circle cx="588.8" cy="331.3" r="2.7" fill="#3c72f3"/><circle cx="589.5" cy="338.8" r="2.7" fill="#3b74f4"/><circle cx="572.7" cy="345.6" r="2.7" fill="#3285f3"/><circle cx="614.7" cy="351.1" r="2.7" fill="#3f67f3"/><circle cx="606.4" cy="324.4" r="2.7" fill="#474bf0"/><circle cx="588.2" cy="360.6" r="2.7" fill="#3481f3"/><circle cx="568" cy="308.6" r="2.7" fill="#269ee8"/><circle cx="565.9" cy="317" r="2.7" fill="#269de8"/><circle cx="605.1" cy="233.4" r="2.7" fill="#f8b030"/><circle cx="604.3" cy="336.1" r="2.7" fill="#474af0"/><circle cx="586.3" cy="275.5" r="2.7" fill="#20b5bf"/><circle cx="612.9" cy="326.9" r="2.7" fill="#4846ed"/><circle cx="609" cy="325.5" r="2.7" fill="#2d8df2"/><circle cx="604.2" cy="353.2" r="2.7" fill="#4064f2"/><circle cx="603.1" cy="385.8" r="2.7" fill="#24a4e3"/><circle cx="596.8" cy="327.7" r="2.7" fill="#3b73f4"/><circle cx="606.8" cy="281.1" r="2.7" fill="#20b2d0"/><circle cx="615.1" cy="305.4" r="2.7" fill="#2994f0"/><circle cx="610.1" cy="315.4" r="2.7" fill="#3f66f3"/><circle cx="581.1" cy="396.7" r="2.7" fill="#20b3c8"/><circle cx="620.3" cy="409.6" r="2.7" fill="#29bc9f"/><circle cx="595.5" cy="373.7" r="2.7" fill="#22a9de"/><circle cx="606.7" cy="375.9" r="2.7" fill="#279aeb"/><circle cx="616" cy="352.4" r="2.7" fill="#3383f3"/><circle cx="603.3" cy="307.4" r="2.7" fill="#3383f3"/><circle cx="583.5" cy="310.4" r="2.7" fill="#279aeb"/><circle cx="619.3" cy="308.4" r="2.7" fill="#2f89f3"/><circle cx="590.4" cy="377.6" r="2.7" fill="#269ee8"/><circle cx="591.6" cy="314.8" r="2.7" fill="#25a0e6"/><circle cx="609.7" cy="369.3" r="2.7" fill="#3089f3"/><circle cx="581" cy="328.6" r="2.7" fill="#3a78f4"/><circle cx="554.8" cy="269.3" r="2.7" fill="#4dc573"/><circle cx="600.7" cy="344.8" r="2.7" fill="#435af1"/><circle cx="577.1" cy="330.3" r="2.7" fill="#3186f3"/><circle cx="583.8" cy="357.1" r="2.7" fill="#3481f3"/><circle cx="572" cy="375.9" r="2.7" fill="#24a4e2"/><circle cx="613.2" cy="342.5" r="2.7" fill="#415ff2"/><circle cx="620.9" cy="348.6" r="2.7" fill="#4063f2"/><circle cx="613.3" cy="372.8" r="2.7" fill="#279bea"/><circle cx="615.4" cy="277.5" r="2.7" fill="#20b5be"/><circle cx="586.4" cy="390.2" r="2.7" fill="#20b1d3"/><circle cx="610.2" cy="324.7" r="2.7" fill="#23a6e1"/><circle cx="623.6" cy="403.7" r="2.7" fill="#20b5be"/><circle cx="577.7" cy="279.8" r="2.7" fill="#20b5be"/><circle cx="583.8" cy="286.5" r="2.7" fill="#20b0d8"/><circle cx="606.8" cy="438.1" r="2.7" fill="#b8c838"/><circle cx="601" cy="355.3" r="2.7" fill="#269de8"/><circle cx="589.2" cy="279.1" r="2.7" fill="#26bba4"/><circle cx="600" cy="371.7" r="2.7" fill="#2996ee"/><circle cx="621.5" cy="357.4" r="2.7" fill="#3c70f3"/><circle cx="607" cy="398" r="2.7" fill="#20b3ca"/><circle cx="585.2" cy="272.9" r="2.7" fill="#22b9ad"/><circle cx="592.5" cy="363.2" r="2.7" fill="#3285f3"/><circle cx="585.2" cy="358.7" r="2.7" fill="#3580f3"/><circle cx="619" cy="400" r="2.7" fill="#20b5c0"/><circle cx="585.6" cy="268.6" r="2.7" fill="#26bba4"/><circle cx="618.8" cy="319.2" r="2.7" fill="#3d6df3"/><circle cx="612.3" cy="370.4" r="2.7" fill="#2f89f3"/><circle cx="595.6" cy="272.6" r="2.7" fill="#20b7b6"/><circle cx="599.2" cy="320.4" r="2.7" fill="#415ef2"/><circle cx="608.2" cy="330.3" r="2.7" fill="#3c70f3"/><circle cx="601.6" cy="319.5" r="2.7" fill="#377df4"/><circle cx="624.2" cy="390.5" r="2.7" fill="#21acdb"/><circle cx="557.9" cy="367.4" r="2.7" fill="#20b0d7"/><circle cx="615.3" cy="343" r="2.7" fill="#4062f2"/><circle cx="574.6" cy="262.8" r="2.7" fill="#61c860"/><circle cx="616.5" cy="371.5" r="2.7" fill="#2897ee"/><circle cx="626.6" cy="329.5" r="2.7" fill="#2897ee"/><circle cx="584.2" cy="342" r="2.7" fill="#377df4"/><circle cx="619.6" cy="305.7" r="2.7" fill="#22aadd"/><circle cx="637.9" cy="353.6" r="2.7" fill="#269fe7"/><circle cx="581.5" cy="261.1" r="2.7" fill="#31c08f"/><circle cx="580.6" cy="385.5" r="2.7" fill="#22aadd"/><circle cx="608.8" cy="327.2" r="2.7" fill="#367ff3"/><circle cx="605.6" cy="376.8" r="2.7" fill="#2996ee"/><circle cx="577.4" cy="359.5" r="2.7" fill="#2d8df2"/><circle cx="587.1" cy="307.4" r="2.7" fill="#20b1d4"/><circle cx="611.9" cy="362.9" r="2.7" fill="#3b76f4"/><circle cx="619.3" cy="320.3" r="2.7" fill="#425ef2"/><circle cx="601.8" cy="341.7" r="2.7" fill="#4846ed"/><circle cx="582.5" cy="339.6" r="2.7" fill="#23a6e0"/><circle cx="639.6" cy="346.9" r="2.7" fill="#24a3e3"/><circle cx="579.6" cy="357.8" r="2.7" fill="#2a93f1"/><circle cx="562.9" cy="339.2" r="2.7" fill="#2995ef"/><circle cx="601.3" cy="377.5" r="2.7" fill="#25a2e4"/><circle cx="618.2" cy="373.2" r="2.7" fill="#2897ed"/><circle cx="585.9" cy="347.5" r="2.7" fill="#2e8cf2"/><circle cx="620.5" cy="318.1" r="2.7" fill="#3580f3"/><circle cx="576.3" cy="315.8" r="2.7" fill="#24a5e1"/><circle cx="604.1" cy="263" r="2.7" fill="#28bca0"/><circle cx="611" cy="345.8" r="2.7" fill="#4848f0"/><circle cx="582.6" cy="286.5" r="2.7" fill="#20b6bb"/><circle cx="585.8" cy="376.3" r="2.7" fill="#24a4e2"/><circle cx="610.4" cy="356.3" r="2.7" fill="#3c72f3"/><circle cx="592.2" cy="295.1" r="2.7" fill="#24a4e3"/><circle cx="589.9" cy="231.8" r="2.7" fill="#ebb930"/><circle cx="593.7" cy="253.9" r="2.7" fill="#55c66b"/><circle cx="588.4" cy="364.8" r="2.7" fill="#2f89f3"/><circle cx="577.2" cy="316.7" r="2.7" fill="#3089f3"/><circle cx="594.3" cy="336.2" r="2.7" fill="#464ef1"/><circle cx="603" cy="317.3" r="2.7" fill="#3d6ff3"/><circle cx="572.6" cy="366.9" r="2.7" fill="#279beb"/><circle cx="583" cy="276.5" r="2.7" fill="#21b9ad"/><circle cx="565.8" cy="347.2" r="2.7" fill="#25a1e5"/><circle cx="601.9" cy="358.6" r="2.7" fill="#3284f3"/><circle cx="586.2" cy="382.4" r="2.7" fill="#21acdc"/><circle cx="571.5" cy="340.5" r="2.7" fill="#2a91f2"/><circle cx="613.5" cy="387" r="2.7" fill="#20b1d1"/><circle cx="623.4" cy="277.8" r="2.7" fill="#20b4c4"/><circle cx="626.6" cy="335" r="2.7" fill="#464ef1"/><circle cx="610.3" cy="373.8" r="2.7" fill="#279bea"/><circle cx="604.1" cy="374.9" r="2.7" fill="#24a4e3"/><circle cx="599.8" cy="267.4" r="2.7" fill="#26bba3"/><circle cx="604.7" cy="278.8" r="2.7" fill="#20b3c8"/><circle cx="586.7" cy="352.9" r="2.7" fill="#367ff3"/><circle cx="593.2" cy="220.4" r="2.7" fill="#f5d920"/><circle cx="612.3" cy="354.9" r="2.7" fill="#3f68f3"/><circle cx="607.3" cy="364.9" r="2.7" fill="#3481f3"/><circle cx="594.9" cy="315.1" r="2.7" fill="#23a8df"/><circle cx="605.5" cy="252.1" r="2.7" fill="#c2c636"/><circle cx="599.2" cy="296.8" r="2.7" fill="#269de9"/><circle cx="595.3" cy="358.1" r="2.7" fill="#2996ef"/><circle cx="623" cy="338.7" r="2.7" fill="#464ff1"/><circle cx="610.9" cy="330" r="2.7" fill="#4846ed"/><circle cx="597.3" cy="292.9" r="2.7" fill="#20b7b5"/><circle cx="611.4" cy="349.2" r="2.7" fill="#4454f1"/><circle cx="589" cy="301.9" r="2.7" fill="#2899ec"/><circle cx="649.6" cy="386.6" r="2.7" fill="#20b0d7"/><circle cx="605" cy="259.1" r="2.7" fill="#acc83d"/><circle cx="597.4" cy="301.7" r="2.7" fill="#2897ee"/><circle cx="609.6" cy="336.5" r="2.7" fill="#4846ed"/><circle cx="583.8" cy="355.6" r="2.7" fill="#377df4"/><circle cx="613.7" cy="330.4" r="2.7" fill="#4844ea"/><circle cx="593.9" cy="280.7" r="2.7" fill="#20b6ba"/><circle cx="614" cy="331.5" r="2.7" fill="#4841e5"/><circle cx="603.9" cy="326.5" r="2.7" fill="#474cf0"/><circle cx="604.7" cy="418.5" r="2.7" fill="#48c478"/><circle cx="602.3" cy="376.3" r="2.7" fill="#2898ed"/><circle cx="579.2" cy="355.9" r="2.7" fill="#2a92f2"/><circle cx="609.3" cy="378.7" r="2.7" fill="#279aeb"/><circle cx="599.8" cy="326.4" r="2.7" fill="#3a78f4"/><circle cx="633.8" cy="369.7" r="2.7" fill="#2897ee"/><circle cx="609.8" cy="276.3" r="2.7" fill="#20b4c2"/><circle cx="602.9" cy="313.8" r="2.7" fill="#3481f3"/><circle cx="609.7" cy="339.4" r="2.7" fill="#3f68f3"/><circle cx="605.6" cy="318" r="2.7" fill="#377df4"/><circle cx="583.6" cy="226.5" r="2.7" fill="#f4b330"/><circle cx="595.7" cy="352.1" r="2.7" fill="#3f67f3"/><circle cx="607.4" cy="359.9" r="2.7" fill="#3d6ff3"/><circle cx="575.2" cy="307.1" r="2.7" fill="#279ce9"/><circle cx="585.9" cy="340.9" r="2.7" fill="#3c70f3"/><circle cx="610.6" cy="244" r="2.7" fill="#a2c842"/><circle cx="585.4" cy="297.8" r="2.7" fill="#269fe7"/><circle cx="602.9" cy="387.7" r="2.7" fill="#21acdb"/><circle cx="593.1" cy="364.7" r="2.7" fill="#3384f3"/><circle cx="593.3" cy="351.1" r="2.7" fill="#2e8bf3"/><circle cx="599.1" cy="367.6" r="2.7" fill="#25a1e5"/><circle cx="597.8" cy="370.9" r="2.7" fill="#2b90f2"/><circle cx="607.2" cy="320.8" r="2.7" fill="#3c72f3"/><circle cx="592" cy="305.8" r="2.7" fill="#2d8df2"/><circle cx="615" cy="340.8" r="2.7" fill="#4842e7"/><circle cx="593.9" cy="385.4" r="2.7" fill="#20b7b4"/><circle cx="632.6" cy="342" r="2.7" fill="#4161f2"/><circle cx="582.3" cy="323.6" r="2.7" fill="#3b74f4"/><circle cx="570.3" cy="292.3" r="2.7" fill="#20b1d5"/><circle cx="583.2" cy="336.6" r="2.7" fill="#22aadd"/><circle cx="613.8" cy="386.9" r="2.7" fill="#20b4c6"/><circle cx="594.1" cy="376.1" r="2.7" fill="#279bea"/><circle cx="590.5" cy="215.2" r="2.7" fill="#f7d220"/><circle cx="612.8" cy="296.6" r="2.7" fill="#2898ec"/><circle cx="576.1" cy="303.5" r="2.7" fill="#25a2e4"/><circle cx="594.9" cy="276.7" r="2.7" fill="#20b6bc"/><circle cx="610.3" cy="380.9" r="2.7" fill="#23a7e0"/><circle cx="621.7" cy="370.3" r="2.7" fill="#269de9"/><circle cx="590.2" cy="282" r="2.7" fill="#27bba2"/><circle cx="592.4" cy="353.6" r="2.7" fill="#3d6cf3"/><circle cx="603" cy="394.1" r="2.7" fill="#20b1d1"/><circle cx="633.3" cy="306.6" r="2.7" fill="#2994f1"/><circle cx="602.2" cy="336.2" r="2.7" fill="#4848f0"/><circle cx="589.8" cy="290.2" r="2.7" fill="#20b1d4"/><circle cx="603.1" cy="370.3" r="2.7" fill="#2f8af3"/><circle cx="593.8" cy="311" r="2.7" fill="#3285f3"/><circle cx="594.6" cy="303.2" r="2.7" fill="#2a91f2"/><circle cx="598.4" cy="325" r="2.7" fill="#3d6ef3"/><circle cx="588.5" cy="287.9" r="2.7" fill="#28bc9f"/><circle cx="625.4" cy="407.3" r="2.7" fill="#35c18b"/><circle cx="601.4" cy="329.6" r="2.7" fill="#3383f3"/><circle cx="618.1" cy="399.6" r="2.7" fill="#25bba6"/><circle cx="573.2" cy="293.4" r="2.7" fill="#20b3c8"/><circle cx="591.8" cy="341" r="2.7" fill="#435af1"/><circle cx="606.2" cy="403.3" r="2.7" fill="#31c08f"/><circle cx="622.4" cy="397.9" r="2.7" fill="#20b3c7"/><circle cx="610.3" cy="339.1" r="2.7" fill="#3d6ef3"/><circle cx="596.5" cy="293.6" r="2.7" fill="#20b0d7"/><circle cx="598.1" cy="367.8" r="2.7" fill="#2f8af3"/><circle cx="613.8" cy="298.6" r="2.7" fill="#2995ef"/><circle cx="596.2" cy="355.9" r="2.7" fill="#3d6ef3"/><circle cx="604.5" cy="288.6" r="2.7" fill="#22aadd"/><circle cx="575.8" cy="416.2" r="2.7" fill="#2dbf96"/><circle cx="595.6" cy="361.4" r="2.7" fill="#377df4"/><circle cx="613.4" cy="402.8" r="2.7" fill="#2bbe99"/><circle cx="580.9" cy="334.1" r="2.7" fill="#3d6ff3"/><circle cx="608.2" cy="422.6" r="2.7" fill="#48c478"/><circle cx="604" cy="320.2" r="2.7" fill="#3c70f3"/><circle cx="624.8" cy="332.4" r="2.7" fill="#3d6ef3"/><circle cx="611.1" cy="341.8" r="2.7" fill="#4847ee"/><circle cx="644.5" cy="337.7" r="2.7" fill="#2996ee"/><circle cx="587" cy="254.5" r="2.7" fill="#5cc764"/><circle cx="592.1" cy="333.2" r="2.7" fill="#4454f1"/><circle cx="557.9" cy="333.8" r="2.7" fill="#279aeb"/><circle cx="590.5" cy="349.6" r="2.7" fill="#2a91f2"/><circle cx="613.3" cy="277.2" r="2.7" fill="#29bd9e"/><circle cx="613.8" cy="372.5" r="2.7" fill="#2994f0"/><circle cx="573.8" cy="341.9" r="2.7" fill="#3384f3"/><circle cx="610.5" cy="336.1" r="2.7" fill="#4553f1"/><circle cx="596.1" cy="352.3" r="2.7" fill="#3f68f3"/><circle cx="567.2" cy="305.7" r="2.7" fill="#22aade"/><circle cx="605.9" cy="202.7" r="2.7" fill="#f0e420"/><circle cx="573.2" cy="356" r="2.7" fill="#2994f0"/><circle cx="596.8" cy="304.4" r="2.7" fill="#2a92f2"/><circle cx="637.3" cy="276.8" r="2.7" fill="#21b8af"/><circle cx="566.9" cy="337.8" r="2.7" fill="#2996ef"/><circle cx="585.8" cy="309.7" r="2.7" fill="#2f8af3"/><circle cx="645.8" cy="343.3" r="2.7" fill="#377df4"/><circle cx="590.5" cy="349.5" r="2.7" fill="#377cf4"/><circle cx="615.4" cy="300.6" r="2.7" fill="#20b2ce"/><circle cx="611.1" cy="277.6" r="2.7" fill="#22b9ab"/><circle cx="600.3" cy="392.8" r="2.7" fill="#25bba6"/><circle cx="593.4" cy="382.6" r="2.7" fill="#20b2cf"/><circle cx="613.1" cy="336.1" r="2.7" fill="#4456f1"/><circle cx="608.3" cy="365.9" r="2.7" fill="#2d8df2"/><circle cx="595.4" cy="350.1" r="2.7" fill="#4062f2"/><circle cx="595.2" cy="340.8" r="2.7" fill="#464ef1"/><circle cx="603.3" cy="349.3" r="2.7" fill="#4358f1"/><circle cx="595.1" cy="399" r="2.7" fill="#21b8af"/><circle cx="603" cy="345.9" r="2.7" fill="#2a93f1"/><circle cx="626.8" cy="369.4" r="2.7" fill="#2d8ef2"/><circle cx="599.2" cy="385.3" r="2.7" fill="#21adda"/><circle cx="604.7" cy="320.4" r="2.7" fill="#3d6df3"/><circle cx="582.4" cy="281" r="2.7" fill="#20b3c8"/><circle cx="614.4" cy="314.6" r="2.7" fill="#20b2cd"/><circle cx="610.7" cy="394.3" r="2.7" fill="#20afd9"/><circle cx="624.5" cy="237.2" r="2.7" fill="#cac434"/><circle cx="584.3" cy="336.5" r="2.7" fill="#3f66f2"/><circle cx="586.2" cy="378.9" r="2.7" fill="#25a2e4"/><circle cx="632.2" cy="324.6" r="2.7" fill="#3482f3"/><circle cx="613" cy="362" r="2.7" fill="#3b74f4"/><circle cx="588.5" cy="372" r="2.7" fill="#23a8df"/><circle cx="588.9" cy="288" r="2.7" fill="#20b2cd"/><circle cx="590.6" cy="281.3" r="2.7" fill="#20b1d3"/><circle cx="640.4" cy="302.6" r="2.7" fill="#20b3c9"/><circle cx="585.5" cy="333.3" r="2.7" fill="#269ee8"/><circle cx="622.1" cy="371.6" r="2.7" fill="#269de9"/><circle cx="620.8" cy="246.8" r="2.7" fill="#98c847"/><circle cx="626.1" cy="293.2" r="2.7" fill="#22aadd"/><circle cx="564.8" cy="395.8" r="2.7" fill="#24baa9"/><circle cx="617.5" cy="334.2" r="2.7" fill="#3e6af3"/><circle cx="601.8" cy="374.4" r="2.7" fill="#279aeb"/><circle cx="615.7" cy="375.2" r="2.7" fill="#20b7b3"/><circle cx="571.5" cy="306.9" r="2.7" fill="#279cea"/><circle cx="580.6" cy="293" r="2.7" fill="#21adda"/><circle cx="598.6" cy="330.1" r="2.7" fill="#3e6af3"/><circle cx="595.1" cy="321.2" r="2.7" fill="#4062f2"/><circle cx="591.9" cy="253.3" r="2.7" fill="#62c85f"/><circle cx="616.8" cy="282.8" r="2.7" fill="#20b3c8"/><circle cx="612.5" cy="328.1" r="2.7" fill="#2c8ef2"/><circle cx="605.2" cy="352" r="2.7" fill="#3e69f3"/><circle cx="605.4" cy="397.6" r="2.7" fill="#20b5bd"/><circle cx="622.8" cy="390.5" r="2.7" fill="#20b1d3"/><circle cx="583.5" cy="329.1" r="2.7" fill="#2c8ff2"/><circle cx="617.5" cy="375.6" r="2.7" fill="#22a9de"/><circle cx="612.2" cy="407.3" r="2.7" fill="#27bba2"/><circle cx="598.9" cy="336.3" r="2.7" fill="#474df0"/><circle cx="599.1" cy="347.7" r="2.7" fill="#435af1"/><circle cx="587.7" cy="377" r="2.7" fill="#25a0e6"/><circle cx="585.1" cy="244" r="2.7" fill="#ccc434"/><circle cx="594" cy="286.9" r="2.7" fill="#20b0d6"/><circle cx="604.9" cy="328.4" r="2.7" fill="#415ff2"/><circle cx="548.6" cy="327.8" r="2.7" fill="#20afd9"/><circle cx="605.5" cy="297.9" r="2.7" fill="#20b6b9"/><circle cx="595.2" cy="275.4" r="2.7" fill="#20b6b8"/><circle cx="606.9" cy="367.2" r="2.7" fill="#279aeb"/><circle cx="643.4" cy="268.9" r="2.7" fill="#3ac286"/><circle cx="598.2" cy="346.8" r="2.7" fill="#3c72f3"/><circle cx="610.2" cy="245.3" r="2.7" fill="#bcc737"/><circle cx="591.3" cy="271.6" r="2.7" fill="#2ebf94"/><circle cx="589.8" cy="336.7" r="2.7" fill="#2a93f1"/><circle cx="595.3" cy="308.9" r="2.7" fill="#2a93f1"/><circle cx="594.1" cy="321.2" r="2.7" fill="#3e6af3"/><circle cx="583.4" cy="289.7" r="2.7" fill="#20b1d1"/><circle cx="636.1" cy="356.3" r="2.7" fill="#20b0d8"/><circle cx="554.1" cy="268.9" r="2.7" fill="#50c570"/><circle cx="607.4" cy="369.2" r="2.7" fill="#3186f3"/><circle cx="584.7" cy="293.6" r="2.7" fill="#22a9de"/><circle cx="639.4" cy="350" r="2.7" fill="#377df4"/><circle cx="634.5" cy="346.2" r="2.7" fill="#3580f3"/><circle cx="604.2" cy="294.7" r="2.7" fill="#20b0d7"/><circle cx="595" cy="388.5" r="2.7" fill="#22a9de"/><circle cx="612.5" cy="307.7" r="2.7" fill="#2e8cf2"/><circle cx="611.1" cy="333.1" r="2.7" fill="#483fe2"/><circle cx="584.4" cy="266" r="2.7" fill="#2fbf92"/><circle cx="608.1" cy="340.8" r="2.7" fill="#3d6ff3"/><circle cx="615.3" cy="379.7" r="2.7" fill="#269de9"/><circle cx="599.7" cy="324.3" r="2.7" fill="#2f89f3"/><circle cx="637.8" cy="338.5" r="2.7" fill="#3581f3"/><circle cx="603.6" cy="343.4" r="2.7" fill="#4847ef"/><circle cx="596.2" cy="359" r="2.7" fill="#3580f3"/><circle cx="580.6" cy="274.2" r="2.7" fill="#20b8b2"/><circle cx="612.9" cy="338.3" r="2.7" fill="#4842e7"/><circle cx="618.8" cy="319.6" r="2.7" fill="#3e6bf3"/><circle cx="615.2" cy="354.4" r="2.7" fill="#425ef2"/><circle cx="612" cy="369.6" r="2.7" fill="#3088f3"/><circle cx="586.1" cy="311.8" r="2.7" fill="#2898ed"/><circle cx="564.9" cy="267.6" r="2.7" fill="#4ec572"/><circle cx="564" cy="402.7" r="2.7" fill="#29bc9e"/><circle cx="585.2" cy="307.4" r="2.7" fill="#279cea"/><circle cx="630.4" cy="352.4" r="2.7" fill="#367ef4"/><circle cx="581" cy="355.7" r="2.7" fill="#20b1d4"/><circle cx="634.9" cy="324.5" r="2.7" fill="#367ef4"/><circle cx="600.3" cy="422.5" r="2.7" fill="#3fc281"/><circle cx="599.1" cy="347.3" r="2.7" fill="#425bf2"/><circle cx="579.9" cy="353.7" r="2.7" fill="#3088f3"/><circle cx="615.5" cy="272.2" r="2.7" fill="#23baaa"/><circle cx="620.2" cy="341.7" r="2.7" fill="#4455f1"/><circle cx="602.3" cy="319.2" r="2.7" fill="#3383f3"/><circle cx="602" cy="398.4" r="2.7" fill="#20b7b6"/><circle cx="625.9" cy="305.2" r="2.7" fill="#2a93f1"/><circle cx="620.5" cy="375.7" r="2.7" fill="#269ee8"/><circle cx="609.6" cy="314" r="2.7" fill="#3e6bf3"/><circle cx="554.2" cy="341.7" r="2.7" fill="#23a7e0"/><circle cx="619.9" cy="348.2" r="2.7" fill="#4457f1"/><circle cx="596.2" cy="368.7" r="2.7" fill="#2c8ff2"/><circle cx="575.9" cy="281.2" r="2.7" fill="#24baa8"/><circle cx="598.1" cy="328.3" r="2.7" fill="#464ef1"/><circle cx="617" cy="361.7" r="2.7" fill="#279aeb"/><circle cx="584" cy="261.5" r="2.7" fill="#3ec282"/><circle cx="602.6" cy="287.5" r="2.7" fill="#20b8b1"/><circle cx="578.4" cy="324.4" r="2.7" fill="#387bf4"/><circle cx="589.6" cy="363.7" r="2.7" fill="#3089f3"/><circle cx="580.5" cy="301.7" r="2.7" fill="#20b3ca"/><circle cx="578.8" cy="285.8" r="2.7" fill="#20b1d3"/><circle cx="564.2" cy="312" r="2.7" fill="#25a0e6"/><circle cx="597.8" cy="350.5" r="2.7" fill="#3b76f4"/><circle cx="576.5" cy="203.5" r="2.7" fill="#f0e420"/><circle cx="587.8" cy="346.7" r="2.7" fill="#3d6ef3"/><circle cx="564.8" cy="306.7" r="2.7" fill="#24a3e3"/><circle cx="613.6" cy="380.6" r="2.7" fill="#279bea"/><circle cx="598.6" cy="361.1" r="2.7" fill="#3b76f4"/><circle cx="637.5" cy="395.7" r="2.7" fill="#20b7b4"/><circle cx="608.3" cy="272.8" r="2.7" fill="#23baaa"/><circle cx="606.8" cy="382.4" r="2.7" fill="#269ee8"/><circle cx="615.5" cy="349.2" r="2.7" fill="#4650f1"/><circle cx="645.2" cy="285" r="2.7" fill="#20b3c8"/><circle cx="624.4" cy="346.7" r="2.7" fill="#3f66f2"/><circle cx="581.2" cy="305.8" r="2.7" fill="#22abdd"/><circle cx="629.3" cy="364.7" r="2.7" fill="#2a93f2"/><circle cx="624" cy="349.1" r="2.7" fill="#425cf2"/><circle cx="611" cy="337.8" r="2.7" fill="#4844ea"/><circle cx="592.8" cy="346.4" r="2.7" fill="#3f67f3"/><circle cx="585.5" cy="355.7" r="2.7" fill="#387bf4"/><circle cx="603.3" cy="281.9" r="2.7" fill="#20b5bf"/><circle cx="611" cy="343.8" r="2.7" fill="#4359f1"/><circle cx="585.7" cy="383.8" r="2.7" fill="#22abdd"/><circle cx="621.1" cy="332.1" r="2.7" fill="#474cf0"/><circle cx="560.9" cy="327.7" r="2.7" fill="#279ce9"/><circle cx="602.7" cy="327.1" r="2.7" fill="#367ff3"/><circle cx="558.1" cy="320.4" r="2.7" fill="#20afd9"/><circle cx="586.9" cy="339.4" r="2.7" fill="#377df4"/><circle cx="560.8" cy="348.1" r="2.7" fill="#24a5e1"/><circle cx="594.1" cy="269" r="2.7" fill="#30c090"/><circle cx="604" cy="374.5" r="2.7" fill="#2996ef"/><circle cx="585.7" cy="342.2" r="2.7" fill="#3e6bf3"/><circle cx="587.9" cy="339.2" r="2.7" fill="#3e6cf3"/><circle cx="617.9" cy="399.7" r="2.7" fill="#20b3c8"/><circle cx="575.8" cy="367.5" r="2.7" fill="#279ce9"/><circle cx="583.5" cy="311.5" r="2.7" fill="#2f8bf3"/><circle cx="608" cy="330.5" r="2.7" fill="#3c71f3"/><circle cx="581.2" cy="299" r="2.7" fill="#20b5c0"/><circle cx="618.9" cy="383.2" r="2.7" fill="#20b1d5"/><circle cx="593.3" cy="269.6" r="2.7" fill="#96c848"/><circle cx="595.4" cy="334.1" r="2.7" fill="#3f67f3"/><circle cx="611.2" cy="337.7" r="2.7" fill="#25a0e6"/><circle cx="574" cy="327.5" r="2.7" fill="#2d8df2"/><circle cx="601.3" cy="340.8" r="2.7" fill="#387cf4"/><circle cx="557.5" cy="308.8" r="2.7" fill="#22a9de"/><circle cx="606.2" cy="336.2" r="2.7" fill="#4842e7"/><circle cx="582.2" cy="359.7" r="2.7" fill="#3088f3"/><circle cx="607.1" cy="336.9" r="2.7" fill="#4847ee"/><circle cx="568.6" cy="266" r="2.7" fill="#5dc863"/><circle cx="613.4" cy="350.5" r="2.7" fill="#4456f1"/><circle cx="570.1" cy="374.6" r="2.7" fill="#24a5e1"/><circle cx="628.2" cy="267.1" r="2.7" fill="#a4c841"/><circle cx="627.1" cy="369.5" r="2.7" fill="#2b90f2"/><circle cx="591.3" cy="293.3" r="2.7" fill="#25a1e5"/><circle cx="580.1" cy="292.2" r="2.7" fill="#20b7b6"/><circle cx="587.9" cy="331" r="2.7" fill="#3f66f2"/><circle cx="600.1" cy="272.7" r="2.7" fill="#20b8b2"/><circle cx="591.9" cy="365" r="2.7" fill="#3088f3"/><circle cx="628.7" cy="348.4" r="2.7" fill="#3187f3"/><circle cx="558.5" cy="263.8" r="2.7" fill="#69c85c"/><circle cx="587.4" cy="357.8" r="2.7" fill="#2a92f2"/><circle cx="606.9" cy="377.7" r="2.7" fill="#269fe7"/><circle cx="604.7" cy="218" r="2.7" fill="#f5d720"/><circle cx="604.7" cy="355.1" r="2.7" fill="#3383f3"/><circle cx="641.1" cy="441.6" r="2.7" fill="#d4c232"/><circle cx="593.5" cy="312.3" r="2.7" fill="#377cf4"/><circle cx="580.3" cy="331" r="2.7" fill="#367ef4"/><circle cx="618.9" cy="375.4" r="2.7" fill="#21acdb"/><circle cx="613.1" cy="330.6" r="2.7" fill="#474af0"/><circle cx="558.7" cy="255.8" r="2.7" fill="#97c847"/><circle cx="597" cy="338.3" r="2.7" fill="#3088f3"/><circle cx="558.6" cy="344.8" r="2.7" fill="#25a0e6"/><circle cx="583.6" cy="342.9" r="2.7" fill="#3d6ff3"/><circle cx="596" cy="346.2" r="2.7" fill="#4359f1"/><circle cx="609.1" cy="355.1" r="2.7" fill="#377df4"/><circle cx="597.5" cy="326.9" r="2.7" fill="#4650f1"/><circle cx="639.2" cy="279.9" r="2.7" fill="#2fbf92"/><circle cx="602.5" cy="340.4" r="2.7" fill="#4847ee"/><circle cx="578" cy="323.4" r="2.7" fill="#3482f3"/><circle cx="608.8" cy="403" r="2.7" fill="#20b4c3"/><circle cx="651.7" cy="366.7" r="2.7" fill="#269de8"/><circle cx="625.5" cy="363.2" r="2.7" fill="#3088f3"/><circle cx="616" cy="377.2" r="2.7" fill="#2897ee"/><circle cx="605.6" cy="221.8" r="2.7" fill="#f5d820"/><circle cx="602.1" cy="353.3" r="2.7" fill="#4160f2"/><circle cx="585" cy="357.4" r="2.7" fill="#3383f3"/><circle cx="574.8" cy="385.3" r="2.7" fill="#20b2cd"/><circle cx="592.5" cy="352.2" r="2.7" fill="#367ef4"/><circle cx="569.5" cy="310.7" r="2.7" fill="#279bea"/><circle cx="597.3" cy="253.7" r="2.7" fill="#b0c83c"/><circle cx="612.1" cy="360.2" r="2.7" fill="#397af4"/><circle cx="599.8" cy="356" r="2.7" fill="#3a78f4"/><circle cx="598.3" cy="342" r="2.7" fill="#474af0"/><circle cx="599.2" cy="389.2" r="2.7" fill="#20b4c4"/><circle cx="593.8" cy="355.4" r="2.7" fill="#3d6ef3"/><circle cx="586.8" cy="317.2" r="2.7" fill="#397af4"/><circle cx="596.9" cy="264.8" r="2.7" fill="#29bd9e"/><circle cx="559.9" cy="267.9" r="2.7" fill="#2ebf94"/><circle cx="587.9" cy="342.1" r="2.7" fill="#3d6df3"/><circle cx="581" cy="330.8" r="2.7" fill="#3383f3"/><circle cx="596.9" cy="335.6" r="2.7" fill="#4358f1"/><circle cx="595.2" cy="397.5" r="2.7" fill="#20b4c5"/><circle cx="603.1" cy="235.5" r="2.7" fill="#f3b330"/><circle cx="598.9" cy="355.3" r="2.7" fill="#22aadd"/><circle cx="580.4" cy="353.9" r="2.7" fill="#2b90f2"/><circle cx="581.9" cy="238.7" r="2.7" fill="#c8c535"/><circle cx="608" cy="360.4" r="2.7" fill="#24a5e2"/><circle cx="625.7" cy="271.7" r="2.7" fill="#2cbe98"/><circle cx="594.2" cy="362.7" r="2.7" fill="#2b91f2"/><circle cx="609.1" cy="332" r="2.7" fill="#483ee1"/><circle cx="568.3" cy="261.3" r="2.7" fill="#cac434"/><circle cx="615.2" cy="328" r="2.7" fill="#4845ec"/><circle cx="619" cy="348.7" r="2.7" fill="#3e6bf3"/><circle cx="593.3" cy="318.9" r="2.7" fill="#367ff3"/><circle cx="606.7" cy="306.9" r="2.7" fill="#2996ef"/><circle cx="595.1" cy="304.1" r="2.7" fill="#2a93f1"/><circle cx="634.2" cy="361.5" r="2.7" fill="#2c8ef2"/><circle cx="618.7" cy="286.6" r="2.7" fill="#20b8b2"/><circle cx="586.6" cy="331" r="2.7" fill="#2c90f2"/><circle cx="577.1" cy="319.7" r="2.7" fill="#2b90f2"/><circle cx="650.2" cy="326.1" r="2.7" fill="#3088f3"/><circle cx="569.8" cy="279.2" r="2.7" fill="#20b8b0"/><circle cx="583.2" cy="296.7" r="2.7" fill="#25a0e6"/><circle cx="614.7" cy="358.1" r="2.7" fill="#3d6ff3"/><circle cx="607.7" cy="337.7" r="2.7" fill="#483ddf"/><circle cx="592.6" cy="327.4" r="2.7" fill="#3f68f3"/><circle cx="587.6" cy="392.1" r="2.7" fill="#20b4c6"/><circle cx="618.2" cy="373.1" r="2.7" fill="#2b91f2"/><circle cx="622.5" cy="333.3" r="2.7" fill="#4358f1"/><circle cx="615" cy="398.1" r="2.7" fill="#20b4c6"/><circle cx="558.6" cy="399.1" r="2.7" fill="#65c85e"/><circle cx="581.6" cy="359.6" r="2.7" fill="#2994f0"/><circle cx="588.7" cy="345.2" r="2.7" fill="#387bf4"/><circle cx="644.7" cy="330.2" r="2.7" fill="#3186f3"/><circle cx="576.9" cy="363.6" r="2.7" fill="#2996ef"/><circle cx="590.3" cy="296.2" r="2.7" fill="#21acdb"/><circle cx="607.7" cy="385.4" r="2.7" fill="#24a3e3"/><circle cx="606.1" cy="349.7" r="2.7" fill="#4551f1"/><circle cx="605.6" cy="304.7" r="2.7" fill="#2899ec"/><circle cx="615.8" cy="330.1" r="2.7" fill="#4844ea"/><circle cx="597.8" cy="329.3" r="2.7" fill="#4160f2"/><circle cx="593.4" cy="334.4" r="2.7" fill="#2a92f2"/><circle cx="625.4" cy="318.3" r="2.7" fill="#3b74f4"/><circle cx="585.7" cy="263.4" r="2.7" fill="#5bc765"/><circle cx="569.4" cy="341.1" r="2.7" fill="#2e8bf3"/><circle cx="572.2" cy="316.6" r="2.7" fill="#2994f1"/><circle cx="592.7" cy="305.4" r="2.7" fill="#2996ee"/><circle cx="611.9" cy="269.8" r="2.7" fill="#23baa9"/><circle cx="603.8" cy="401.7" r="2.7" fill="#25bba6"/><circle cx="635.6" cy="336.8" r="2.7" fill="#4064f2"/><circle cx="610.5" cy="344.5" r="2.7" fill="#4455f1"/><circle cx="600" cy="277" r="2.7" fill="#27bba2"/><circle cx="578.5" cy="358.3" r="2.7" fill="#2d8df2"/><circle cx="587" cy="385.2" r="2.7" fill="#21aeda"/><circle cx="591.1" cy="331.5" r="2.7" fill="#4160f2"/><circle cx="604.8" cy="355.3" r="2.7" fill="#4162f2"/><circle cx="612.7" cy="289.7" r="2.7" fill="#24a4e2"/><circle cx="589.6" cy="275.3" r="2.7" fill="#20b5c1"/><circle cx="612.3" cy="340.5" r="2.7" fill="#483fe3"/><circle cx="611.9" cy="279.4" r="2.7" fill="#20b8b0"/><circle cx="589.3" cy="368.3" r="2.7" fill="#279cea"/><circle cx="582.1" cy="336.6" r="2.7" fill="#3e6bf3"/><circle cx="613.9" cy="269.7" r="2.7" fill="#20b8b2"/><circle cx="572.5" cy="323.9" r="2.7" fill="#2f8af3"/><circle cx="631.5" cy="379.8" r="2.7" fill="#24a3e3"/><circle cx="589.6" cy="370.6" r="2.7" fill="#2a93f1"/><circle cx="608.1" cy="370.7" r="2.7" fill="#2899ec"/><circle cx="591.4" cy="345" r="2.7" fill="#4063f2"/><circle cx="625.9" cy="342.5" r="2.7" fill="#2d8cf2"/><circle cx="585.9" cy="263.2" r="2.7" fill="#2ebf94"/><circle cx="591.7" cy="396.2" r="2.7" fill="#21b9ad"/><circle cx="574.7" cy="363.9" r="2.7" fill="#25a1e5"/><circle cx="614.3" cy="303.6" r="2.7" fill="#2b91f2"/><circle cx="566.4" cy="372.9" r="2.7" fill="#22aadd"/><circle cx="642" cy="372.7" r="2.7" fill="#269de9"/><circle cx="606.4" cy="326.6" r="2.7" fill="#4846ed"/><circle cx="582.7" cy="347.1" r="2.7" fill="#279cea"/><circle cx="619" cy="352.7" r="2.7" fill="#4161f2"/><circle cx="613.9" cy="323.5" r="2.7" fill="#435af2"/><circle cx="608.2" cy="352" r="2.7" fill="#3b74f4"/><circle cx="591.5" cy="359.2" r="2.7" fill="#397af4"/><circle cx="615.6" cy="271.9" r="2.7" fill="#29bc9e"/><circle cx="609.2" cy="304.6" r="2.7" fill="#2897ee"/><circle cx="607.4" cy="309.8" r="2.7" fill="#3284f3"/><circle cx="590.2" cy="347.7" r="2.7" fill="#4063f2"/><circle cx="584.4" cy="375.9" r="2.7" fill="#24a4e3"/><circle cx="595.5" cy="264.4" r="2.7" fill="#7fc852"/><circle cx="586" cy="353.1" r="2.7" fill="#3b74f4"/><circle cx="576.6" cy="391.2" r="2.7" fill="#20b1d1"/><circle cx="611" cy="304.5" r="2.7" fill="#2a92f2"/><circle cx="599.7" cy="232.4" r="2.7" fill="#f8c128"/><circle cx="619.5" cy="385.2" r="2.7" fill="#24a3e3"/><circle cx="612.8" cy="320.7" r="2.7" fill="#3c71f3"/><circle cx="607" cy="338.6" r="2.7" fill="#483fe2"/><circle cx="635.8" cy="312.4" r="2.7" fill="#2a92f2"/><circle cx="629.3" cy="317.9" r="2.7" fill="#3c71f3"/><circle cx="643" cy="338.2" r="2.7" fill="#3481f3"/><circle cx="576.9" cy="335.1" r="2.7" fill="#3a78f4"/><circle cx="621.6" cy="350.8" r="2.7" fill="#425bf2"/><circle cx="612.5" cy="274.9" r="2.7" fill="#29bc9e"/><circle cx="617.6" cy="345.4" r="2.7" fill="#4650f1"/><circle cx="609.2" cy="377.8" r="2.7" fill="#2898ed"/><circle cx="580.3" cy="346.2" r="2.7" fill="#25a0e6"/><circle cx="592.6" cy="343.9" r="2.7" fill="#4358f1"/><circle cx="602.4" cy="259.1" r="2.7" fill="#69c85c"/><circle cx="621.2" cy="289" r="2.7" fill="#22abdc"/><circle cx="613.5" cy="340.7" r="2.7" fill="#4359f1"/><circle cx="638.9" cy="409.6" r="2.7" fill="#29bd9e"/><circle cx="597.9" cy="313.4" r="2.7" fill="#397af4"/><circle cx="594.7" cy="422.8" r="2.7" fill="#8ec84b"/><circle cx="581.9" cy="374.9" r="2.7" fill="#269de9"/><circle cx="597.7" cy="344.7" r="2.7" fill="#4455f1"/><circle cx="628.1" cy="318.7" r="2.7" fill="#2e8cf2"/><circle cx="564.7" cy="267.3" r="2.7" fill="#30c091"/><circle cx="586.6" cy="350.3" r="2.7" fill="#367ef4"/><circle cx="620.2" cy="303.8" r="2.7" fill="#2a93f2"/><circle cx="613" cy="324.4" r="2.7" fill="#3482f3"/><circle cx="582.1" cy="375.3" r="2.7" fill="#269ee7"/><circle cx="600.5" cy="284.5" r="2.7" fill="#20b1d3"/><circle cx="607.9" cy="340.6" r="2.7" fill="#4359f1"/><circle cx="621.1" cy="371.9" r="2.7" fill="#279ce9"/><circle cx="592.2" cy="317.1" r="2.7" fill="#397af4"/><circle cx="626" cy="375.5" r="2.7" fill="#24a3e4"/><circle cx="587.3" cy="352.1" r="2.7" fill="#3580f3"/><circle cx="581.3" cy="293.2" r="2.7" fill="#20b1d4"/><circle cx="599.6" cy="275.5" r="2.7" fill="#43c37d"/><circle cx="623.5" cy="371" r="2.7" fill="#2b91f2"/><circle cx="638.9" cy="344.1" r="2.7" fill="#3d6ff3"/><circle cx="607.5" cy="361.2" r="2.7" fill="#3c71f3"/><circle cx="606.4" cy="324.2" r="2.7" fill="#3d6cf3"/><circle cx="640.3" cy="350.4" r="2.7" fill="#3979f4"/><circle cx="600.2" cy="311" r="2.7" fill="#20b1d2"/><circle cx="621.2" cy="382.1" r="2.7" fill="#25a0e5"/><circle cx="572.2" cy="411.1" r="2.7" fill="#2dbf96"/><circle cx="599.3" cy="379.5" r="2.7" fill="#279ce9"/><circle cx="568.2" cy="318.9" r="2.7" fill="#279ce9"/><circle cx="607.1" cy="392.4" r="2.7" fill="#21aeda"/><circle cx="604.7" cy="255.8" r="2.7" fill="#49c477"/><circle cx="556.9" cy="355" r="2.7" fill="#22abdc"/><circle cx="616.8" cy="323.4" r="2.7" fill="#3d6ef3"/><circle cx="618.7" cy="380.6" r="2.7" fill="#279ce9"/><circle cx="597.4" cy="398.1" r="2.7" fill="#20b4c3"/><circle cx="584.6" cy="353.7" r="2.7" fill="#3383f3"/><circle cx="570.4" cy="275.8" r="2.7" fill="#2abd9b"/><circle cx="598.4" cy="287.9" r="2.7" fill="#21adda"/><circle cx="599.4" cy="384.3" r="2.7" fill="#23a7e0"/><circle cx="581.6" cy="318.9" r="2.7" fill="#3482f3"/><circle cx="572.2" cy="317.5" r="2.7" fill="#23a7e0"/><circle cx="588.7" cy="360.9" r="2.7" fill="#3580f3"/><circle cx="615.2" cy="272.5" r="2.7" fill="#35c18b"/><circle cx="619.2" cy="351.3" r="2.7" fill="#387bf4"/><circle cx="599" cy="261.5" r="2.7" fill="#43c37d"/><circle cx="595" cy="307.1" r="2.7" fill="#2b90f2"/><circle cx="619" cy="381.5" r="2.7" fill="#23a6e1"/><circle cx="600.5" cy="352.4" r="2.7" fill="#3f68f3"/><circle cx="605.8" cy="337" r="2.7" fill="#4840e4"/><circle cx="626.1" cy="335.6" r="2.7" fill="#2b91f2"/><circle cx="592.4" cy="335.7" r="2.7" fill="#4161f2"/><circle cx="586.4" cy="337.3" r="2.7" fill="#3d6cf3"/><circle cx="580.1" cy="319.2" r="2.7" fill="#2e8cf2"/><circle cx="613.4" cy="230.9" r="2.7" fill="#f8c625"/><circle cx="598.1" cy="354.7" r="2.7" fill="#3e6cf3"/><circle cx="590.8" cy="374.1" r="2.7" fill="#279aeb"/><circle cx="607.5" cy="359.1" r="2.7" fill="#3d6df3"/><circle cx="574.5" cy="374.2" r="2.7" fill="#25a1e5"/><circle cx="599.3" cy="360.3" r="2.7" fill="#3b75f4"/><circle cx="576.7" cy="235.8" r="2.7" fill="#e5bd30"/><circle cx="583.1" cy="342.1" r="2.7" fill="#3d6df3"/><circle cx="608.8" cy="358.9" r="2.7" fill="#3d6ff3"/><circle cx="601.1" cy="330.7" r="2.7" fill="#3e6bf3"/><circle cx="588.8" cy="337.9" r="2.7" fill="#415ff2"/><circle cx="623.5" cy="390.4" r="2.7" fill="#20b6b8"/><circle cx="580.2" cy="312.3" r="2.7" fill="#2996ee"/><circle cx="589.1" cy="309.2" r="2.7" fill="#2c8ff2"/><circle cx="610.5" cy="358.8" r="2.7" fill="#387bf4"/><circle cx="595.8" cy="373.1" r="2.7" fill="#2994f1"/><circle cx="620" cy="367.6" r="2.7" fill="#2f8af3"/><circle cx="617.1" cy="364.7" r="2.7" fill="#377cf4"/><circle cx="579" cy="292.1" r="2.7" fill="#20b3c8"/><circle cx="589.7" cy="357.3" r="2.7" fill="#279aeb"/><circle cx="606.4" cy="380.2" r="2.7" fill="#22aade"/><circle cx="608.1" cy="348.2" r="2.7" fill="#474df0"/><circle cx="593" cy="382.7" r="2.7" fill="#24a4e3"/><circle cx="605.4" cy="380.9" r="2.7" fill="#25a1e5"/><circle cx="599.8" cy="300.6" r="2.7" fill="#21adda"/><circle cx="605.9" cy="313.2" r="2.7" fill="#2c90f2"/><circle cx="586.1" cy="303.7" r="2.7" fill="#2995ef"/><circle cx="604.6" cy="254.2" r="2.7" fill="#cfc333"/><circle cx="598" cy="403.1" r="2.7" fill="#20b7b4"/><circle cx="591.2" cy="293" r="2.7" fill="#22a9de"/><circle cx="581.4" cy="370.9" r="2.7" fill="#269fe7"/><circle cx="605.3" cy="361" r="2.7" fill="#2a93f1"/><circle cx="587" cy="287.4" r="2.7" fill="#21aeda"/><circle cx="584" cy="315.2" r="2.7" fill="#2a93f1"/><circle cx="610.8" cy="394" r="2.7" fill="#20b5be"/><circle cx="584.9" cy="367.6" r="2.7" fill="#2994f1"/><circle cx="605.3" cy="384.3" r="2.7" fill="#20b2cf"/><circle cx="605.6" cy="318.5" r="2.7" fill="#4065f2"/><circle cx="573.6" cy="301.4" r="2.7" fill="#20b0d6"/><circle cx="590.2" cy="258.8" r="2.7" fill="#5ec862"/><circle cx="608.7" cy="292.6" r="2.7" fill="#23a6e1"/><circle cx="615.3" cy="276.2" r="2.7" fill="#3ac286"/><circle cx="595.8" cy="263.7" r="2.7" fill="#2cbe97"/><circle cx="576.2" cy="264.4" r="2.7" fill="#30c090"/><circle cx="616.3" cy="324.1" r="2.7" fill="#4358f1"/><circle cx="598.8" cy="236.3" r="2.7" fill="#c1c636"/><circle cx="610.7" cy="260.2" r="2.7" fill="#70c859"/><circle cx="577.6" cy="275.5" r="2.7" fill="#20b7b4"/><circle cx="584.5" cy="359" r="2.7" fill="#3482f3"/><circle cx="583.1" cy="277.1" r="2.7" fill="#21b9ad"/><circle cx="598.6" cy="293.5" r="2.7" fill="#23a7df"/><circle cx="630.6" cy="350.7" r="2.7" fill="#3e6bf3"/><circle cx="586.3" cy="357.3" r="2.7" fill="#367ff3"/><circle cx="611.6" cy="420" r="2.7" fill="#2dbe97"/><circle cx="611" cy="384.9" r="2.7" fill="#23a8df"/><circle cx="592.8" cy="340.1" r="2.7" fill="#4064f2"/><circle cx="596.7" cy="309.1" r="2.7" fill="#3186f3"/><circle cx="601.6" cy="259.6" r="2.7" fill="#2fbf92"/><circle cx="596.3" cy="354.9" r="2.7" fill="#3e6af3"/><circle cx="604.6" cy="354.5" r="2.7" fill="#2f89f3"/><circle cx="610.8" cy="349.5" r="2.7" fill="#3482f3"/><circle cx="603.1" cy="355.4" r="2.7" fill="#3f67f3"/><circle cx="592.7" cy="328.2" r="2.7" fill="#2f8af3"/><circle cx="577.5" cy="371.4" r="2.7" fill="#269ee7"/><circle cx="591.8" cy="334.1" r="2.7" fill="#4456f1"/><circle cx="613.6" cy="414.6" r="2.7" fill="#2dbe97"/><circle cx="632.9" cy="351.2" r="2.7" fill="#377df4"/><circle cx="601.4" cy="278.8" r="2.7" fill="#20b5bd"/><circle cx="625" cy="354.9" r="2.7" fill="#3d6df3"/><circle cx="604.5" cy="358.3" r="2.7" fill="#2c8ef2"/><circle cx="607.7" cy="360.6" r="2.7" fill="#3d6ff3"/><circle cx="613.9" cy="305.9" r="2.7" fill="#2c8ef2"/><circle cx="616.4" cy="359" r="2.7" fill="#3d6df3"/><circle cx="604.4" cy="329.1" r="2.7" fill="#2e8bf3"/><circle cx="591.6" cy="315.8" r="2.7" fill="#3b75f4"/><circle cx="591.4" cy="330.3" r="2.7" fill="#425ef2"/><circle cx="631.3" cy="373.9" r="2.7" fill="#2898ed"/><circle cx="573.6" cy="348.7" r="2.7" fill="#2c8ef2"/><circle cx="603.8" cy="350.8" r="2.7" fill="#425ef2"/><circle cx="632.4" cy="340.8" r="2.7" fill="#3e6cf3"/><circle cx="610.9" cy="378.5" r="2.7" fill="#22abdc"/><circle cx="635.1" cy="338.3" r="2.7" fill="#3a79f4"/><circle cx="601.3" cy="340.8" r="2.7" fill="#3580f3"/><circle cx="617.6" cy="372.5" r="2.7" fill="#2898ed"/><circle cx="593.9" cy="315.3" r="2.7" fill="#3b73f4"/><circle cx="596.5" cy="293.5" r="2.7" fill="#24a3e4"/><circle cx="600.5" cy="331.9" r="2.7" fill="#4848f0"/><circle cx="622.1" cy="371.2" r="2.7" fill="#2995f0"/><circle cx="641" cy="328.3" r="2.7" fill="#3b74f4"/><circle cx="624" cy="360" r="2.7" fill="#2f8af3"/><circle cx="598.5" cy="335.8" r="2.7" fill="#3d6ff3"/><circle cx="584.1" cy="388.1" r="2.7" fill="#20b6bc"/><circle cx="626.1" cy="344.5" r="2.7" fill="#4554f1"/><circle cx="551.7" cy="325" r="2.7" fill="#24a3e3"/><circle cx="610.4" cy="354.9" r="2.7" fill="#3e6af3"/><circle cx="586.4" cy="346.6" r="2.7" fill="#3a78f4"/><circle cx="603.9" cy="350.7" r="2.7" fill="#3e6cf3"/><circle cx="597.2" cy="353" r="2.7" fill="#367ff3"/><circle cx="583.3" cy="342.3" r="2.7" fill="#3e6bf3"/><circle cx="613.1" cy="394" r="2.7" fill="#20b2ce"/><circle cx="621.1" cy="381.5" r="2.7" fill="#23a8df"/><circle cx="580.3" cy="229.1" r="2.7" fill="#f8c625"/><circle cx="596.7" cy="312.3" r="2.7" fill="#2899ec"/><circle cx="627.8" cy="358.2" r="2.7" fill="#3088f3"/><circle cx="574.4" cy="314.5" r="2.7" fill="#2899ec"/><circle cx="595" cy="273.7" r="2.7" fill="#30c091"/><circle cx="600.8" cy="361.1" r="2.7" fill="#2d8df2"/><circle cx="594.1" cy="367.9" r="2.7" fill="#2f8af3"/><circle cx="617.7" cy="362.5" r="2.7" fill="#367ef4"/><circle cx="606.2" cy="338.9" r="2.7" fill="#4840e4"/><circle cx="585.8" cy="353.4" r="2.7" fill="#3b76f4"/><circle cx="597.8" cy="391.9" r="2.7" fill="#21acdb"/><circle cx="613.7" cy="305.4" r="2.7" fill="#269ee7"/><circle cx="620.5" cy="341.1" r="2.7" fill="#3f68f3"/><circle cx="620" cy="320.5" r="2.7" fill="#3a77f4"/><circle cx="631.3" cy="377.1" r="2.7" fill="#21aeda"/><circle cx="600.7" cy="326" r="2.7" fill="#3f66f2"/><circle cx="609.4" cy="354" r="2.7" fill="#3b75f4"/><circle cx="602.8" cy="302.9" r="2.7" fill="#2996ef"/><circle cx="603" cy="379.8" r="2.7" fill="#25a2e4"/><circle cx="576.1" cy="300.8" r="2.7" fill="#20b1d2"/><circle cx="615.2" cy="334.8" r="2.7" fill="#4844ea"/><circle cx="643.2" cy="323.6" r="2.7" fill="#269de8"/><circle cx="588.8" cy="425.2" r="2.7" fill="#5dc763"/><circle cx="589.1" cy="331.1" r="2.7" fill="#3f67f3"/><circle cx="629.2" cy="237.8" r="2.7" fill="#d2c333"/><circle cx="580" cy="345.6" r="2.7" fill="#25a0e6"/><circle cx="616.3" cy="269.1" r="2.7" fill="#2abd9c"/><circle cx="623.3" cy="347.9" r="2.7" fill="#4455f1"/><circle cx="617.7" cy="208.7" r="2.7" fill="#f0e420"/><circle cx="594.5" cy="369.3" r="2.7" fill="#2996ef"/><circle cx="605.7" cy="313.4" r="2.7" fill="#3d6ef3"/><circle cx="618.2" cy="284.1" r="2.7" fill="#20b1d5"/><circle cx="635.1" cy="309" r="2.7" fill="#279bea"/><circle cx="561.7" cy="321.3" r="2.7" fill="#269ee7"/><circle cx="612.2" cy="347.4" r="2.7" fill="#3d6ef3"/><circle cx="574.1" cy="299.7" r="2.7" fill="#22aadd"/><circle cx="600.8" cy="323.4" r="2.7" fill="#3d6ef3"/><circle cx="604.6" cy="335.6" r="2.7" fill="#4840e4"/><circle cx="621.4" cy="355.9" r="2.7" fill="#367ff3"/><circle cx="611.4" cy="357.7" r="2.7" fill="#3e6af3"/><circle cx="609.1" cy="346.7" r="2.7" fill="#3979f4"/><circle cx="612.4" cy="291.5" r="2.7" fill="#25a1e5"/><circle cx="612.4" cy="348.3" r="2.7" fill="#4359f1"/><circle cx="609" cy="296.5" r="2.7" fill="#269de8"/><circle cx="634.4" cy="327.5" r="2.7" fill="#20b4c5"/><circle cx="562.4" cy="294.8" r="2.7" fill="#20b5be"/><circle cx="598.3" cy="272.2" r="2.7" fill="#2cbe97"/><circle cx="616.7" cy="363.8" r="2.7" fill="#25a0e6"/><circle cx="625.6" cy="237.3" r="2.7" fill="#cbc434"/><circle cx="628.8" cy="350.6" r="2.7" fill="#2b91f2"/><circle cx="607" cy="336.9" r="2.7" fill="#3384f3"/><circle cx="583.1" cy="363.8" r="2.7" fill="#2d8df2"/><circle cx="572.6" cy="330.6" r="2.7" fill="#3088f3"/><circle cx="577.9" cy="273.8" r="2.7" fill="#2ebf94"/><circle cx="583.1" cy="314.4" r="2.7" fill="#2b91f2"/><circle cx="626.5" cy="369.3" r="2.7" fill="#269ee8"/><circle cx="636.3" cy="289.1" r="2.7" fill="#22aadd"/><circle cx="603.5" cy="320.2" r="2.7" fill="#2995f0"/><circle cx="578.9" cy="252.5" r="2.7" fill="#6ec85a"/><circle cx="611.3" cy="362.5" r="2.7" fill="#269fe7"/><circle cx="572.9" cy="253.6" r="2.7" fill="#78c855"/><circle cx="592.4" cy="232.9" r="2.7" fill="#f3dc20"/><circle cx="588.6" cy="319" r="2.7" fill="#2b90f2"/><circle cx="596.7" cy="280.5" r="2.7" fill="#20b4c2"/><circle cx="606" cy="275" r="2.7" fill="#24baa7"/><circle cx="638.7" cy="349.2" r="2.7" fill="#2994f1"/><circle cx="573.4" cy="300.2" r="2.7" fill="#24baa8"/><circle cx="595.2" cy="333.9" r="2.7" fill="#425bf2"/><circle cx="586.6" cy="388.1" r="2.7" fill="#20b1d5"/><circle cx="612.9" cy="262.9" r="2.7" fill="#2ebf93"/><circle cx="609" cy="352.3" r="2.7" fill="#3f65f2"/><circle cx="634" cy="308" r="2.7" fill="#2c8ff2"/><circle cx="614.3" cy="234.7" r="2.7" fill="#f1b530"/><circle cx="637.2" cy="371" r="2.7" fill="#279bea"/><circle cx="590.3" cy="298.3" r="2.7" fill="#23a8df"/><circle cx="603.2" cy="330.7" r="2.7" fill="#4845eb"/><circle cx="603.4" cy="373" r="2.7" fill="#269de8"/><circle cx="596.7" cy="354.8" r="2.7" fill="#377ef4"/><circle cx="572.7" cy="304.3" r="2.7" fill="#20b3c7"/><circle cx="584.6" cy="303.6" r="2.7" fill="#269ee8"/><circle cx="599.6" cy="354.9" r="2.7" fill="#3e6cf3"/><circle cx="562.8" cy="288.3" r="2.7" fill="#20b6b9"/><circle cx="622.2" cy="387.3" r="2.7" fill="#22a9de"/><circle cx="586.3" cy="375.3" r="2.7" fill="#279bea"/><circle cx="576.7" cy="335.8" r="2.7" fill="#397af4"/><circle cx="623.9" cy="307.5" r="2.7" fill="#2995f0"/><circle cx="557.1" cy="279.2" r="2.7" fill="#2ebf93"/><circle cx="593.5" cy="271.1" r="2.7" fill="#20b7b3"/><circle cx="613.6" cy="314" r="2.7" fill="#3e6bf3"/><circle cx="604.5" cy="291" r="2.7" fill="#23a8df"/><circle cx="623.9" cy="331.6" r="2.7" fill="#474bf0"/><circle cx="593.9" cy="344.2" r="2.7" fill="#415ff2"/><circle cx="590.7" cy="350.7" r="2.7" fill="#3e6cf3"/><circle cx="615.4" cy="353.7" r="2.7" fill="#425cf2"/><circle cx="637" cy="346.3" r="2.7" fill="#2995ef"/><circle cx="619.7" cy="411" r="2.7" fill="#5fc861"/><circle cx="616" cy="368.8" r="2.7" fill="#25a2e4"/><circle cx="617.2" cy="307.5" r="2.7" fill="#3384f3"/><circle cx="589.5" cy="349.8" r="2.7" fill="#2d8ef2"/><circle cx="557.1" cy="359.5" r="2.7" fill="#23a6e1"/><circle cx="609.2" cy="334.3" r="2.7" fill="#3580f3"/><circle cx="593.1" cy="317.5" r="2.7" fill="#3d6df3"/><circle cx="599.8" cy="343.4" r="2.7" fill="#269de8"/><circle cx="600" cy="363.4" r="2.7" fill="#387cf4"/><circle cx="566.7" cy="318.3" r="2.7" fill="#2899ec"/><circle cx="604.1" cy="351.5" r="2.7" fill="#4358f1"/><circle cx="582.7" cy="363.9" r="2.7" fill="#2d8ef2"/><circle cx="584.3" cy="360.1" r="2.7" fill="#3187f3"/><circle cx="612" cy="378.9" r="2.7" fill="#25a0e6"/><circle cx="601.8" cy="228.6" r="2.7" fill="#f7b130"/><circle cx="623.7" cy="376.2" r="2.7" fill="#25a0e6"/><circle cx="594.9" cy="264.1" r="2.7" fill="#27bca2"/><circle cx="608.2" cy="336.9" r="2.7" fill="#4845ec"/><circle cx="579" cy="353.6" r="2.7" fill="#3481f3"/><circle cx="623" cy="377.1" r="2.7" fill="#24a3e4"/><circle cx="590.5" cy="291.3" r="2.7" fill="#20b4c4"/><circle cx="598.8" cy="338.4" r="2.7" fill="#4848f0"/><circle cx="579" cy="389.2" r="2.7" fill="#20b0d8"/><circle cx="575.3" cy="285.3" r="2.7" fill="#20b3c8"/><circle cx="562.3" cy="328.2" r="2.7" fill="#2898ed"/><circle cx="602.9" cy="306.6" r="2.7" fill="#3383f3"/><circle cx="596.3" cy="355.9" r="2.7" fill="#3b75f4"/><circle cx="552.9" cy="323.5" r="2.7" fill="#24a5e2"/><circle cx="626.5" cy="373.2" r="2.7" fill="#2995ef"/><circle cx="593.6" cy="383.7" r="2.7" fill="#23a6e1"/><circle cx="623.5" cy="378.2" r="2.7" fill="#279beb"/><circle cx="597.3" cy="298.9" r="2.7" fill="#22aadd"/><circle cx="619.9" cy="344.9" r="2.7" fill="#3e69f3"/><circle cx="641.3" cy="319.5" r="2.7" fill="#3580f3"/><circle cx="593.9" cy="302.8" r="2.7" fill="#20afd9"/><circle cx="611.7" cy="330.1" r="2.7" fill="#4845eb"/><circle cx="614" cy="346.2" r="2.7" fill="#3f67f3"/><circle cx="605.4" cy="317.9" r="2.7" fill="#4160f2"/><circle cx="578.9" cy="337.4" r="2.7" fill="#3c73f4"/><circle cx="590.7" cy="365.1" r="2.7" fill="#2f8af3"/><circle cx="587.6" cy="309.7" r="2.7" fill="#24a3e4"/><circle cx="621.9" cy="320.9" r="2.7" fill="#3e69f3"/><circle cx="569.2" cy="234.6" r="2.7" fill="#f8b62d"/><circle cx="609.5" cy="298.1" r="2.7" fill="#279aeb"/><circle cx="625.3" cy="350.5" r="2.7" fill="#3979f4"/><circle cx="606.2" cy="325.5" r="2.7" fill="#4065f2"/><circle cx="565.5" cy="370.8" r="2.7" fill="#21aeda"/><circle cx="607.2" cy="375.7" r="2.7" fill="#279bea"/><circle cx="625" cy="341.2" r="2.7" fill="#3a78f4"/><circle cx="593.2" cy="319.7" r="2.7" fill="#24a4e2"/><circle cx="602.5" cy="248.7" r="2.7" fill="#7bc854"/><circle cx="590.6" cy="314" r="2.7" fill="#2c8ff2"/><circle cx="604.9" cy="304.1" r="2.7" fill="#2f8af3"/><circle cx="578.2" cy="305.4" r="2.7" fill="#269fe7"/><circle cx="587.2" cy="332.1" r="2.7" fill="#4064f2"/><circle cx="572.8" cy="354.6" r="2.7" fill="#2c8ef2"/><circle cx="601.7" cy="266.9" r="2.7" fill="#3bc285"/><circle cx="605.7" cy="365" r="2.7" fill="#269fe7"/><circle cx="603.3" cy="358.5" r="2.7" fill="#397af4"/><circle cx="607.5" cy="349.1" r="2.7" fill="#4455f1"/><circle cx="598" cy="321.8" r="2.7" fill="#3482f3"/><circle cx="596.3" cy="303" r="2.7" fill="#269ee8"/><circle cx="587.7" cy="347.1" r="2.7" fill="#3f69f3"/><circle cx="582.1" cy="333.7" r="2.7" fill="#3d6ff3"/><circle cx="568.7" cy="258.1" r="2.7" fill="#c1c636"/><circle cx="597.6" cy="343.9" r="2.7" fill="#464ff1"/><circle cx="599.6" cy="400.8" r="2.7" fill="#20b4c5"/><circle cx="608.8" cy="368.7" r="2.7" fill="#2899ec"/><circle cx="604.8" cy="332.3" r="2.7" fill="#367ef4"/><circle cx="585.5" cy="277.2" r="2.7" fill="#20b5be"/><circle cx="607" cy="339" r="2.7" fill="#4840e3"/><circle cx="612" cy="373.9" r="2.7" fill="#2995ef"/><circle cx="633.1" cy="312.3" r="2.7" fill="#23a7e0"/><circle cx="564" cy="291.4" r="2.7" fill="#20b2cf"/><circle cx="580.4" cy="364.5" r="2.7" fill="#2898ed"/><circle cx="591.9" cy="311.4" r="2.7" fill="#367ef4"/><circle cx="601.2" cy="289.6" r="2.7" fill="#20b0d8"/><circle cx="621.2" cy="375.7" r="2.7" fill="#2996ef"/><circle cx="605.9" cy="351.7" r="2.7" fill="#4457f1"/><circle cx="587.6" cy="350.8" r="2.7" fill="#279aeb"/><circle cx="599.7" cy="304.5" r="2.7" fill="#2996ef"/><circle cx="621.5" cy="278.9" r="2.7" fill="#25baa7"/><circle cx="572" cy="255.5" r="2.7" fill="#e7bc30"/><circle cx="553.6" cy="349.5" r="2.7" fill="#25a1e5"/><circle cx="593.3" cy="279.8" r="2.7" fill="#2ebf94"/><circle cx="626.2" cy="306" r="2.7" fill="#2a91f2"/><circle cx="607.9" cy="304.8" r="2.7" fill="#24a5e1"/><circle cx="604.4" cy="344.1" r="2.7" fill="#425bf2"/><circle cx="590.3" cy="255.5" r="2.7" fill="#a8c83f"/><circle cx="619.1" cy="353.6" r="2.7" fill="#3d6ff3"/><circle cx="592.3" cy="366.5" r="2.7" fill="#2a92f2"/><circle cx="563.6" cy="281.7" r="2.7" fill="#20b6b8"/><circle cx="580.1" cy="355.2" r="2.7" fill="#3482f3"/><circle cx="567.3" cy="352.5" r="2.7" fill="#2995ef"/><circle cx="607.2" cy="279.3" r="2.7" fill="#22b9ad"/><circle cx="609.8" cy="276.8" r="2.7" fill="#20b5be"/><circle cx="621.7" cy="388.1" r="2.7" fill="#20b2cc"/><circle cx="605.9" cy="342.4" r="2.7" fill="#474bf0"/><circle cx="608.2" cy="349.5" r="2.7" fill="#4551f1"/><circle cx="553.1" cy="280.4" r="2.7" fill="#36c18a"/><circle cx="611.1" cy="331.4" r="2.7" fill="#3b74f4"/><circle cx="581.3" cy="236.9" r="2.7" fill="#ebb930"/><circle cx="619.7" cy="420.3" r="2.7" fill="#31c08f"/><circle cx="597.2" cy="368.9" r="2.7" fill="#2e8cf2"/><circle cx="583" cy="339" r="2.7" fill="#3580f3"/><circle cx="604" cy="362.9" r="2.7" fill="#397af4"/><circle cx="614.7" cy="341.4" r="2.7" fill="#3c72f3"/><circle cx="641.1" cy="349.3" r="2.7" fill="#3088f3"/><circle cx="573.1" cy="346.3" r="2.7" fill="#269fe7"/><circle cx="616.1" cy="336.9" r="2.7" fill="#2a93f1"/><circle cx="615.9" cy="263.8" r="2.7" fill="#5fc861"/><circle cx="638.2" cy="406.7" r="2.7" fill="#24baa7"/><circle cx="620" cy="369.7" r="2.7" fill="#2f89f3"/><circle cx="586.8" cy="378" r="2.7" fill="#24a4e2"/><circle cx="597.1" cy="269.8" r="2.7" fill="#37c189"/><circle cx="573.6" cy="283.3" r="2.7" fill="#20b3ca"/><circle cx="593.7" cy="367.7" r="2.7" fill="#2b91f2"/><circle cx="580.3" cy="269.7" r="2.7" fill="#29bc9f"/><circle cx="554.7" cy="356.2" r="2.7" fill="#21addb"/><circle cx="600" cy="328.5" r="2.7" fill="#474cf0"/><circle cx="613.1" cy="372.3" r="2.7" fill="#2c8ff2"/><circle cx="572.9" cy="285.8" r="2.7" fill="#29bd9d"/><circle cx="602.3" cy="332.8" r="2.7" fill="#4160f2"/><circle cx="591" cy="374.1" r="2.7" fill="#279bea"/><circle cx="600.7" cy="291.9" r="2.7" fill="#20b0d6"/><circle cx="604.9" cy="327.2" r="2.7" fill="#474cf0"/><circle cx="613" cy="363.3" r="2.7" fill="#367ff3"/><circle cx="585.5" cy="352.4" r="2.7" fill="#367ef4"/><circle cx="617.2" cy="311.4" r="2.7" fill="#2899ec"/><circle cx="592.1" cy="354.3" r="2.7" fill="#2898ed"/><circle cx="603.8" cy="299" r="2.7" fill="#23a7e0"/><circle cx="648.8" cy="331.6" r="2.7" fill="#3482f3"/><circle cx="621" cy="357" r="2.7" fill="#387bf4"/><circle cx="590.4" cy="269.2" r="2.7" fill="#28bca1"/><circle cx="639.8" cy="318.5" r="2.7" fill="#2995ef"/><circle cx="597.6" cy="323.6" r="2.7" fill="#3c73f4"/><circle cx="598.9" cy="335" r="2.7" fill="#4651f1"/><circle cx="614.8" cy="350" r="2.7" fill="#425df2"/><circle cx="595.2" cy="320.4" r="2.7" fill="#3580f3"/><circle cx="599.7" cy="313.3" r="2.7" fill="#2a92f2"/><circle cx="584.2" cy="357.2" r="2.7" fill="#367ff3"/><circle cx="577.1" cy="281.8" r="2.7" fill="#20b7b6"/><circle cx="616.2" cy="347.6" r="2.7" fill="#4651f1"/><circle cx="586.5" cy="323.2" r="2.7" fill="#3c70f3"/><circle cx="598.5" cy="359.3" r="2.7" fill="#3c71f3"/><circle cx="601.4" cy="345" r="2.7" fill="#464ff1"/><circle cx="556.1" cy="405.4" r="2.7" fill="#68c85c"/><circle cx="612.4" cy="330" r="2.7" fill="#4841e6"/><circle cx="589.5" cy="346.1" r="2.7" fill="#3f65f2"/><circle cx="646.3" cy="360.2" r="2.7" fill="#2996ef"/><circle cx="595.2" cy="342" r="2.7" fill="#4552f1"/><circle cx="613.8" cy="361.3" r="2.7" fill="#3a78f4"/><circle cx="569.4" cy="367.4" r="2.7" fill="#25a0e6"/><circle cx="608.2" cy="367.8" r="2.7" fill="#3383f3"/><circle cx="579.5" cy="363.2" r="2.7" fill="#2a92f2"/><circle cx="598.6" cy="382" r="2.7" fill="#20afd9"/><circle cx="634.6" cy="386.9" r="2.7" fill="#22a9de"/><circle cx="573.9" cy="274" r="2.7" fill="#3ac286"/><circle cx="597.7" cy="267.4" r="2.7" fill="#2dbf96"/><circle cx="587.4" cy="319.7" r="2.7" fill="#367ff3"/><circle cx="628.2" cy="335.2" r="2.7" fill="#3e69f3"/><circle cx="598.6" cy="315.3" r="2.7" fill="#2c8ff2"/><circle cx="571.2" cy="349.1" r="2.7" fill="#2994f0"/><circle cx="593.7" cy="318.7" r="2.7" fill="#3482f3"/><circle cx="580.2" cy="356.2" r="2.7" fill="#2994f1"/><circle cx="574" cy="346" r="2.7" fill="#2e8bf3"/><circle cx="617.1" cy="338.1" r="2.7" fill="#2996ef"/><circle cx="601.5" cy="332.7" r="2.7" fill="#4847ee"/><circle cx="617" cy="286" r="2.7" fill="#20b0d8"/><circle cx="638.2" cy="350.1" r="2.7" fill="#3b75f4"/><circle cx="599.1" cy="283.2" r="2.7" fill="#20b3cb"/><circle cx="601" cy="357.7" r="2.7" fill="#3c72f3"/><circle cx="593.7" cy="301.4" r="2.7" fill="#25a1e5"/><circle cx="598.9" cy="361.5" r="2.7" fill="#3979f4"/><circle cx="609.5" cy="341.6" r="2.7" fill="#4358f1"/><circle cx="589.4" cy="352.9" r="2.7" fill="#3d6ef3"/><circle cx="630.4" cy="379.9" r="2.7" fill="#269fe7"/><circle cx="602.2" cy="353.8" r="2.7" fill="#415ff2"/><circle cx="625.2" cy="295.7" r="2.7" fill="#269fe7"/><circle cx="585.5" cy="314.4" r="2.7" fill="#2899ec"/><circle cx="584.4" cy="418.2" r="2.7" fill="#37c189"/><circle cx="567.9" cy="255.4" r="2.7" fill="#e9ba30"/><circle cx="569.4" cy="245.5" r="2.7" fill="#e0c030"/><circle cx="624.4" cy="244.5" r="2.7" fill="#f1b530"/><circle cx="622" cy="353.2" r="2.7" fill="#3d6df3"/><circle cx="628" cy="360.1" r="2.7" fill="#3580f3"/><circle cx="592.8" cy="364.8" r="2.7" fill="#2f8af3"/><circle cx="563.3" cy="364.4" r="2.7" fill="#25a1e5"/><circle cx="595.6" cy="265.7" r="2.7" fill="#26bba5"/><circle cx="599.2" cy="296.2" r="2.7" fill="#25a1e5"/><circle cx="605" cy="341.7" r="2.7" fill="#4843e9"/><circle cx="620.9" cy="363.8" r="2.7" fill="#3187f3"/><circle cx="586.5" cy="386.3" r="2.7" fill="#22aade"/><circle cx="603.9" cy="326" r="2.7" fill="#464ef0"/><circle cx="608.6" cy="372.3" r="2.7" fill="#2a93f1"/><circle cx="574.5" cy="282.7" r="2.7" fill="#28bc9f"/><circle cx="614.9" cy="268.6" r="2.7" fill="#2dbe97"/><circle cx="612.5" cy="338.9" r="2.7" fill="#4841e5"/><circle cx="608.7" cy="354.8" r="2.7" fill="#3d6cf3"/><circle cx="621.6" cy="383.2" r="2.7" fill="#25a1e5"/><circle cx="608.2" cy="350.1" r="2.7" fill="#4551f1"/><circle cx="597.1" cy="289.9" r="2.7" fill="#24a5e2"/><circle cx="624.1" cy="357.2" r="2.7" fill="#3d6df3"/><circle cx="594.9" cy="301.5" r="2.7" fill="#2994f0"/><circle cx="613.4" cy="355.2" r="2.7" fill="#3e6af3"/><circle cx="610.1" cy="321.3" r="2.7" fill="#4554f1"/><circle cx="586.7" cy="351.8" r="2.7" fill="#2994f0"/><circle cx="612.1" cy="342.5" r="2.7" fill="#4849f0"/><circle cx="594.7" cy="271.6" r="2.7" fill="#2abd9d"/><circle cx="633.9" cy="293.1" r="2.7" fill="#23a8df"/><circle cx="619.1" cy="369.3" r="2.7" fill="#3089f3"/><circle cx="621" cy="374" r="2.7" fill="#269fe7"/><circle cx="596.2" cy="343.6" r="2.7" fill="#425df2"/><circle cx="611" cy="298.4" r="2.7" fill="#24a4e2"/><circle cx="647.9" cy="319.7" r="2.7" fill="#2e8cf2"/><circle cx="621" cy="326.8" r="2.7" fill="#4650f1"/><circle cx="604.6" cy="254.6" r="2.7" fill="#cdc434"/><circle cx="622.8" cy="357.6" r="2.7" fill="#3089f3"/><circle cx="607.5" cy="273.4" r="2.7" fill="#38c188"/><circle cx="611.4" cy="402.6" r="2.7" fill="#20b4c4"/><circle cx="587.3" cy="305" r="2.7" fill="#269de9"/><circle cx="583.9" cy="307.3" r="2.7" fill="#2899ec"/><circle cx="597.8" cy="278.6" r="2.7" fill="#21b8ae"/><circle cx="635.5" cy="323.4" r="2.7" fill="#3d6df3"/><circle cx="606.7" cy="369.2" r="2.7" fill="#279beb"/><circle cx="598.8" cy="287" r="2.7" fill="#20b6bc"/><circle cx="573.9" cy="390" r="2.7" fill="#20b8b1"/><circle cx="614.6" cy="417.7" r="2.7" fill="#41c37f"/><circle cx="632.1" cy="312.6" r="2.7" fill="#2d8df2"/><circle cx="620.4" cy="357.1" r="2.7" fill="#3d6ff3"/><circle cx="604.3" cy="338.2" r="2.7" fill="#4841e6"/><circle cx="609.4" cy="271.6" r="2.7" fill="#29bd9d"/><circle cx="603.2" cy="337.2" r="2.7" fill="#4455f1"/><circle cx="617.4" cy="294.6" r="2.7" fill="#279ce9"/><circle cx="606.6" cy="265.6" r="2.7" fill="#28bc9f"/><circle cx="614.8" cy="391.8" r="2.7" fill="#20b7b6"/><circle cx="581.7" cy="370.8" r="2.7" fill="#20b4c3"/><circle cx="614.6" cy="336.4" r="2.7" fill="#2b91f2"/><circle cx="585.6" cy="411.8" r="2.7" fill="#29bc9f"/><circle cx="571.1" cy="324.9" r="2.7" fill="#2899ec"/><circle cx="611.9" cy="331.4" r="2.7" fill="#4358f1"/><circle cx="604.9" cy="330.6" r="2.7" fill="#425ef2"/><circle cx="566.9" cy="354.6" r="2.7" fill="#2899ec"/><circle cx="605.6" cy="421.9" r="2.7" fill="#31c08f"/><circle cx="593.5" cy="352.4" r="2.7" fill="#2d8df2"/><circle cx="592.8" cy="327.8" r="2.7" fill="#3483f3"/><circle cx="586.9" cy="337.6" r="2.7" fill="#3a78f4"/><circle cx="602.9" cy="296.2" r="2.7" fill="#24a3e3"/><circle cx="618.2" cy="322" r="2.7" fill="#3e6bf3"/><circle cx="585.1" cy="344.1" r="2.7" fill="#279ce9"/><circle cx="613.6" cy="332.2" r="2.7" fill="#3d6ef3"/><circle cx="607.4" cy="333.9" r="2.7" fill="#483ee1"/><circle cx="597.3" cy="354.8" r="2.7" fill="#3f67f3"/><circle cx="622" cy="369.9" r="2.7" fill="#21acdb"/><circle cx="566.9" cy="391.2" r="2.7" fill="#20b6bc"/><circle cx="634.3" cy="380.9" r="2.7" fill="#23a7df"/><circle cx="610.9" cy="379.3" r="2.7" fill="#24a4e2"/><circle cx="575.6" cy="246.1" r="2.7" fill="#86c84f"/><circle cx="574.2" cy="330.9" r="2.7" fill="#2a93f1"/><circle cx="598.5" cy="390.2" r="2.7" fill="#21acdb"/><circle cx="588.3" cy="400.9" r="2.7" fill="#20b5bd"/><circle cx="586.4" cy="400.8" r="2.7" fill="#30c091"/><circle cx="621" cy="346" r="2.7" fill="#3c71f3"/><circle cx="590.1" cy="358.1" r="2.7" fill="#387bf4"/><circle cx="596.4" cy="286.4" r="2.7" fill="#20b4c5"/><circle cx="630.9" cy="311.9" r="2.7" fill="#3481f3"/><circle cx="596.8" cy="250.7" r="2.7" fill="#95c848"/><circle cx="591.6" cy="288" r="2.7" fill="#20b5bd"/><circle cx="645.6" cy="287.4" r="2.7" fill="#20b1d3"/><circle cx="636.2" cy="401.7" r="2.7" fill="#25bba6"/><circle cx="549.8" cy="306.8" r="2.7" fill="#20b4c5"/><circle cx="643.8" cy="358" r="2.7" fill="#2996ef"/><circle cx="618.5" cy="389" r="2.7" fill="#20b6b9"/><circle cx="591.2" cy="300.3" r="2.7" fill="#2898ed"/><circle cx="578.7" cy="351.6" r="2.7" fill="#2b91f2"/><circle cx="643.9" cy="339.4" r="2.7" fill="#3a78f4"/><circle cx="621.8" cy="360.5" r="2.7" fill="#3285f3"/><circle cx="580.2" cy="353.2" r="2.7" fill="#367ff3"/><circle cx="614.6" cy="348.7" r="2.7" fill="#464ef0"/><circle cx="596" cy="339.9" r="2.7" fill="#425df2"/><circle cx="573.9" cy="304" r="2.7" fill="#27bba3"/><circle cx="554" cy="275.4" r="2.7" fill="#31c08f"/><circle cx="618.1" cy="328.5" r="2.7" fill="#367ef4"/><circle cx="595.6" cy="339.4" r="2.7" fill="#474cf0"/><circle cx="579.9" cy="239.2" r="2.7" fill="#b3c83a"/><circle cx="654.5" cy="428.5" r="2.7" fill="#e0c030"/><circle cx="614.8" cy="388.5" r="2.7" fill="#23a6e0"/><circle cx="579.5" cy="402.7" r="2.7" fill="#20b8af"/><circle cx="622.5" cy="408.9" r="2.7" fill="#22b9ac"/><circle cx="605.1" cy="355.3" r="2.7" fill="#4064f2"/><circle cx="591.8" cy="318.2" r="2.7" fill="#2996ef"/><circle cx="590.6" cy="386.7" r="2.7" fill="#21addb"/><circle cx="597.8" cy="354.9" r="2.7" fill="#387bf4"/><circle cx="589.3" cy="210.8" r="2.7" fill="#f0e420"/><circle cx="637.8" cy="361.8" r="2.7" fill="#23a8df"/><circle cx="605.5" cy="410.9" r="2.7" fill="#29bd9e"/><circle cx="635.9" cy="328.3" r="2.7" fill="#3284f3"/><circle cx="606.8" cy="340" r="2.7" fill="#4843e9"/><circle cx="575.6" cy="329.1" r="2.7" fill="#2e8bf3"/><circle cx="563" cy="295.2" r="2.7" fill="#20afd9"/><circle cx="620.2" cy="294.4" r="2.7" fill="#269ee8"/><circle cx="598.3" cy="309.6" r="2.7" fill="#367ff3"/><circle cx="617.2" cy="332.6" r="2.7" fill="#4455f1"/><circle cx="587.2" cy="359.9" r="2.7" fill="#3580f3"/><circle cx="598.4" cy="322.6" r="2.7" fill="#425bf2"/><circle cx="587.1" cy="374.7" r="2.7" fill="#279bea"/><circle cx="578.5" cy="294.6" r="2.7" fill="#23a7e0"/><circle cx="601.4" cy="263.6" r="2.7" fill="#49c477"/><circle cx="618" cy="329.3" r="2.7" fill="#4845eb"/><circle cx="615.3" cy="357.9" r="2.7" fill="#3e69f3"/><circle cx="628.1" cy="262.3" r="2.7" fill="#46c47a"/><circle cx="597.9" cy="262.8" r="2.7" fill="#2fc091"/><circle cx="594.4" cy="298.6" r="2.7" fill="#20afd9"/><circle cx="601.8" cy="372.4" r="2.7" fill="#2a91f2"/><circle cx="597" cy="300.2" r="2.7" fill="#25a1e5"/><circle cx="600.7" cy="376.1" r="2.7" fill="#2897ee"/><circle cx="579.7" cy="347.6" r="2.7" fill="#2897ee"/><circle cx="600.7" cy="344.9" r="2.7" fill="#4064f2"/><circle cx="601.5" cy="389.7" r="2.7" fill="#20b4c6"/><circle cx="614.8" cy="403.7" r="2.7" fill="#26bba5"/><circle cx="616.7" cy="328.1" r="2.7" fill="#3c6ff3"/><circle cx="582.9" cy="359.8" r="2.7" fill="#25a1e5"/><circle cx="590.6" cy="287.3" r="2.7" fill="#22aadd"/><circle cx="602.5" cy="348.3" r="2.7" fill="#4551f1"/><circle cx="594.1" cy="346.8" r="2.7" fill="#3285f3"/><circle cx="602.2" cy="276.4" r="2.7" fill="#20b5bf"/><circle cx="636.9" cy="335" r="2.7" fill="#3c71f3"/><circle cx="625.2" cy="297.2" r="2.7" fill="#279beb"/><circle cx="589.8" cy="304.8" r="2.7" fill="#2a92f2"/><circle cx="567.1" cy="345.3" r="2.7" fill="#2a93f2"/><circle cx="581.8" cy="277.3" r="2.7" fill="#20b8b0"/><circle cx="607.9" cy="285.7" r="2.7" fill="#20b6b9"/><circle cx="595.3" cy="393.6" r="2.7" fill="#20b1d5"/><circle cx="602.5" cy="269.8" r="2.7" fill="#22b9ab"/><circle cx="594.8" cy="248.1" r="2.7" fill="#90c84a"/><circle cx="613.5" cy="317.1" r="2.7" fill="#3f67f3"/><circle cx="617.7" cy="346.5" r="2.7" fill="#25a0e6"/><circle cx="617.2" cy="305.6" r="2.7" fill="#3285f3"/><circle cx="573.4" cy="368.9" r="2.7" fill="#279ce9"/><circle cx="640.1" cy="362.2" r="2.7" fill="#2d8df2"/><circle cx="579.7" cy="285.3" r="2.7" fill="#20b5be"/><circle cx="594.7" cy="273.2" r="2.7" fill="#37c189"/><circle cx="612" cy="398.8" r="2.7" fill="#20b3c7"/><circle cx="582.4" cy="382.1" r="2.7" fill="#23a7e0"/><circle cx="632.8" cy="389.9" r="2.7" fill="#20b4c5"/><circle cx="614.1" cy="362.4" r="2.7" fill="#24a5e1"/><circle cx="612.9" cy="293.8" r="2.7" fill="#20b2d0"/><circle cx="618.5" cy="366.1" r="2.7" fill="#3187f3"/><circle cx="610.7" cy="375.4" r="2.7" fill="#25a0e6"/><circle cx="623.8" cy="384" r="2.7" fill="#24a5e2"/><circle cx="610.7" cy="374.3" r="2.7" fill="#2994f0"/><circle cx="604.6" cy="340.1" r="2.7" fill="#4843e9"/><circle cx="591.3" cy="410.7" r="2.7" fill="#29bd9e"/><circle cx="553.6" cy="308.3" r="2.7" fill="#20b2d0"/><circle cx="614.1" cy="352.7" r="2.7" fill="#3d6ef3"/><circle cx="616.1" cy="307.1" r="2.7" fill="#3285f3"/><circle cx="611.6" cy="375.9" r="2.7" fill="#2996ee"/><circle cx="587.7" cy="241.1" r="2.7" fill="#b0c83c"/><circle cx="615.4" cy="315.8" r="2.7" fill="#3e69f3"/><circle cx="581.8" cy="370.7" r="2.7" fill="#20b1d4"/><circle cx="615.8" cy="289.3" r="2.7" fill="#20b8b2"/><circle cx="574.4" cy="413.1" r="2.7" fill="#37c189"/><circle cx="603.3" cy="295.3" r="2.7" fill="#23a6e1"/><circle cx="595" cy="386.8" r="2.7" fill="#21acdb"/><circle cx="608.6" cy="335.2" r="2.7" fill="#4160f2"/><circle cx="573.9" cy="344" r="2.7" fill="#2a93f1"/><circle cx="593.9" cy="316" r="2.7" fill="#25a0e6"/><circle cx="585.8" cy="298.9" r="2.7" fill="#21aed9"/><circle cx="588.4" cy="366.6" r="2.7" fill="#2d8ef2"/><circle cx="620.2" cy="229.9" r="2.7" fill="#ecb830"/><circle cx="597.4" cy="331.5" r="2.7" fill="#464ff1"/><circle cx="597.1" cy="235.1" r="2.7" fill="#f8b32f"/><circle cx="585.9" cy="275.7" r="2.7" fill="#5ac766"/><circle cx="585.2" cy="303.9" r="2.7" fill="#24a3e4"/><circle cx="581.5" cy="336.7" r="2.7" fill="#3d6df3"/><circle cx="588" cy="288.5" r="2.7" fill="#20b8b1"/><circle cx="579" cy="347.7" r="2.7" fill="#2897ee"/><circle cx="582.9" cy="357.5" r="2.7" fill="#2897ed"/><circle cx="634.5" cy="363.2" r="2.7" fill="#3187f3"/><circle cx="589.2" cy="324.8" r="2.7" fill="#2e8bf3"/><circle cx="585.6" cy="346.7" r="2.7" fill="#377df4"/><circle cx="619" cy="368.9" r="2.7" fill="#2b90f2"/><circle cx="593.1" cy="356.2" r="2.7" fill="#3b76f4"/><circle cx="577.1" cy="312.4" r="2.7" fill="#2a92f2"/><circle cx="575.1" cy="330.6" r="2.7" fill="#3187f3"/><circle cx="554.1" cy="296.9" r="2.7" fill="#20b2ce"/><circle cx="636.8" cy="347.1" r="2.7" fill="#3284f3"/><circle cx="609.3" cy="376.3" r="2.7" fill="#279ce9"/><circle cx="608.9" cy="332.8" r="2.7" fill="#3d6df3"/><circle cx="589.1" cy="327.6" r="2.7" fill="#4065f2"/><circle cx="596.6" cy="345.4" r="2.7" fill="#4553f1"/><circle cx="570.4" cy="275.9" r="2.7" fill="#28bca1"/><circle cx="603.3" cy="286.2" r="2.7" fill="#22aade"/><circle cx="610" cy="311" r="2.7" fill="#3580f3"/><circle cx="581.9" cy="326.9" r="2.7" fill="#3580f3"/><circle cx="596.9" cy="373.2" r="2.7" fill="#2a93f1"/><circle cx="620.5" cy="337.1" r="2.7" fill="#4844ea"/><circle cx="582.8" cy="320.7" r="2.7" fill="#3979f4"/><circle cx="611.4" cy="372.7" r="2.7" fill="#2995ef"/><circle cx="609.6" cy="388.8" r="2.7" fill="#22aadd"/><circle cx="591.3" cy="323.2" r="2.7" fill="#3f67f3"/><circle cx="570.5" cy="328.7" r="2.7" fill="#2c8ff2"/><circle cx="614.8" cy="356.4" r="2.7" fill="#3286f3"/><circle cx="621.3" cy="304.2" r="2.7" fill="#269de8"/><circle cx="615.9" cy="375.7" r="2.7" fill="#2897ee"/><circle cx="588.8" cy="329" r="2.7" fill="#3a78f4"/><circle cx="615.2" cy="337.5" r="2.7" fill="#4843e8"/><circle cx="584.4" cy="364.8" r="2.7" fill="#2899ec"/><circle cx="602.7" cy="402.8" r="2.7" fill="#20b7b6"/><circle cx="605.5" cy="236.6" r="2.7" fill="#b8c838"/><circle cx="602.7" cy="389" r="2.7" fill="#20b1d5"/><circle cx="600.4" cy="306.7" r="2.7" fill="#2898ed"/><circle cx="597.1" cy="319.2" r="2.7" fill="#2898ed"/><circle cx="640.1" cy="345" r="2.7" fill="#2996ef"/><circle cx="581.8" cy="315.4" r="2.7" fill="#3384f3"/><circle cx="595.1" cy="319.2" r="2.7" fill="#269fe7"/><circle cx="648.4" cy="382.8" r="2.7" fill="#20b2d0"/><circle cx="598.2" cy="282.2" r="2.7" fill="#20b2cd"/><circle cx="640.1" cy="410.1" r="2.7" fill="#2bbd9a"/><circle cx="629" cy="385.7" r="2.7" fill="#22a9de"/><circle cx="612.5" cy="361.4" r="2.7" fill="#3b75f4"/><circle cx="607.7" cy="371.6" r="2.7" fill="#2a93f1"/><circle cx="571.8" cy="350.9" r="2.7" fill="#2898ed"/><circle cx="619.6" cy="348.4" r="2.7" fill="#3e6af3"/><circle cx="584.4" cy="380.3" r="2.7" fill="#21addb"/><circle cx="595.5" cy="290.1" r="2.7" fill="#24a4e2"/><circle cx="611.4" cy="247.9" r="2.7" fill="#b0c83c"/><circle cx="559.1" cy="315.4" r="2.7" fill="#25a2e4"/><circle cx="602.9" cy="301.4" r="2.7" fill="#22aadd"/><circle cx="579.5" cy="262.3" r="2.7" fill="#2fbf92"/><circle cx="613.3" cy="280.7" r="2.7" fill="#20b1d5"/><circle cx="608.3" cy="242.4" r="2.7" fill="#c3c636"/><circle cx="576" cy="357.3" r="2.7" fill="#2c8ff2"/><circle cx="614.1" cy="405" r="2.7" fill="#4ec572"/><circle cx="626.6" cy="344.8" r="2.7" fill="#387cf4"/><circle cx="563.2" cy="388.6" r="2.7" fill="#20b3c8"/><circle cx="646.3" cy="421" r="2.7" fill="#53c66d"/><circle cx="633.9" cy="290.9" r="2.7" fill="#20b0d7"/><circle cx="582" cy="332.3" r="2.7" fill="#3c70f3"/><circle cx="593" cy="312.6" r="2.7" fill="#3384f3"/><circle cx="606.2" cy="392.9" r="2.7" fill="#20b1d5"/><circle cx="563.6" cy="340.3" r="2.7" fill="#2898ed"/><circle cx="591.2" cy="351.7" r="2.7" fill="#2897ed"/><circle cx="595.3" cy="364.6" r="2.7" fill="#3087f3"/><circle cx="587.8" cy="325.4" r="2.7" fill="#269de8"/><circle cx="593.4" cy="346.2" r="2.7" fill="#4160f2"/><circle cx="599.9" cy="277.4" r="2.7" fill="#20b5c0"/><circle cx="586.9" cy="284.8" r="2.7" fill="#20b4c5"/><circle cx="602.4" cy="320.3" r="2.7" fill="#4065f2"/><circle cx="632.2" cy="405.6" r="2.7" fill="#26bba4"/><circle cx="569.1" cy="300.9" r="2.7" fill="#20b3cb"/><circle cx="633.8" cy="302" r="2.7" fill="#2899ec"/><circle cx="612.7" cy="305.4" r="2.7" fill="#2f8af3"/><circle cx="620" cy="261.1" r="2.7" fill="#42c37e"/><circle cx="598" cy="379.5" r="2.7" fill="#24a3e3"/><circle cx="601.9" cy="393.1" r="2.7" fill="#21adda"/><circle cx="633.8" cy="367.6" r="2.7" fill="#2995f0"/><circle cx="596.8" cy="375.7" r="2.7" fill="#20b2ce"/><circle cx="601" cy="345.1" r="2.7" fill="#474bf0"/><circle cx="582.8" cy="352.2" r="2.7" fill="#2f8bf3"/><circle cx="626.7" cy="354.9" r="2.7" fill="#3e6bf3"/><circle cx="628.8" cy="340" r="2.7" fill="#3286f3"/><circle cx="611.6" cy="349.1" r="2.7" fill="#3e6af3"/><circle cx="595.3" cy="316.1" r="2.7" fill="#3d6ef3"/><circle cx="608.5" cy="348.9" r="2.7" fill="#464ff1"/><circle cx="550" cy="282.5" r="2.7" fill="#25bba5"/><circle cx="611.5" cy="320.5" r="2.7" fill="#4161f2"/><circle cx="598.9" cy="408.9" r="2.7" fill="#23b9ab"/><circle cx="548.5" cy="325.2" r="2.7" fill="#22aadd"/><circle cx="600.2" cy="281.4" r="2.7" fill="#2abd9d"/><circle cx="614.4" cy="327.8" r="2.7" fill="#3b76f4"/><circle cx="623.1" cy="234.7" r="2.7" fill="#e9ba30"/><circle cx="625.6" cy="371.8" r="2.7" fill="#2996ef"/><circle cx="591.2" cy="391.3" r="2.7" fill="#20b3c8"/><circle cx="616.1" cy="392.6" r="2.7" fill="#20b7b4"/><circle cx="621" cy="408.8" r="2.7" fill="#20b7b4"/><circle cx="604.8" cy="326.5" r="2.7" fill="#3e69f3"/><circle cx="568.2" cy="356.2" r="2.7" fill="#2897ee"/><circle cx="617.1" cy="313.1" r="2.7" fill="#3c72f3"/><circle cx="605" cy="236.2" r="2.7" fill="#eeb630"/><circle cx="575.7" cy="273.5" r="2.7" fill="#5ac766"/><circle cx="583" cy="310.5" r="2.7" fill="#2a93f1"/><circle cx="605.7" cy="282.9" r="2.7" fill="#20b7b6"/><circle cx="594.7" cy="269.2" r="2.7" fill="#a3c841"/><circle cx="591" cy="307.2" r="2.7" fill="#2f8af3"/><circle cx="587.4" cy="299.9" r="2.7" fill="#21addb"/><circle cx="611" cy="380" r="2.7" fill="#279bea"/><circle cx="594" cy="292.1" r="2.7" fill="#25a2e4"/><circle cx="617.7" cy="293.1" r="2.7" fill="#24a4e3"/><circle cx="564.4" cy="297.2" r="2.7" fill="#20b5be"/><circle cx="611.5" cy="283.5" r="2.7" fill="#20b4c3"/><circle cx="597.5" cy="346.2" r="2.7" fill="#4554f1"/><circle cx="612.6" cy="332.5" r="2.7" fill="#425df2"/><circle cx="604.6" cy="369.7" r="2.7" fill="#3089f3"/><circle cx="608.8" cy="340.5" r="2.7" fill="#464ff1"/><circle cx="594.6" cy="364.8" r="2.7" fill="#3482f3"/><circle cx="615.8" cy="330.2" r="2.7" fill="#4843e9"/><circle cx="602.9" cy="250" r="2.7" fill="#eeb630"/><circle cx="585.8" cy="312.7" r="2.7" fill="#2a93f1"/><circle cx="618.3" cy="331.6" r="2.7" fill="#4843e8"/><circle cx="572.8" cy="277.4" r="2.7" fill="#8fc84b"/><circle cx="628.3" cy="371" r="2.7" fill="#279ce9"/><circle cx="608.9" cy="386.3" r="2.7" fill="#24a5e1"/><circle cx="616.1" cy="374" r="2.7" fill="#269de8"/><circle cx="629.4" cy="342" r="2.7" fill="#279aeb"/><circle cx="616.2" cy="279.5" r="2.7" fill="#20b1d2"/><circle cx="620.2" cy="358.3" r="2.7" fill="#2995f0"/><circle cx="599.7" cy="345.8" r="2.7" fill="#4454f1"/><circle cx="573.4" cy="348.2" r="2.7" fill="#3087f3"/><circle cx="616.7" cy="392.9" r="2.7" fill="#21addb"/><circle cx="588.2" cy="315.8" r="2.7" fill="#397af4"/><circle cx="612" cy="322.6" r="2.7" fill="#3e6bf3"/><circle cx="618" cy="341.4" r="2.7" fill="#4551f1"/><circle cx="586.8" cy="311.7" r="2.7" fill="#2a93f1"/><circle cx="619.8" cy="352.9" r="2.7" fill="#2c8ff2"/><circle cx="638.8" cy="321.5" r="2.7" fill="#3979f4"/><circle cx="578.5" cy="287.2" r="2.7" fill="#20b1d4"/><circle cx="625.8" cy="245.8" r="2.7" fill="#79c855"/><circle cx="613" cy="341.8" r="2.7" fill="#4358f1"/><circle cx="598.3" cy="366.1" r="2.7" fill="#2f89f3"/><circle cx="646.7" cy="303.3" r="2.7" fill="#23a7e0"/><circle cx="606.1" cy="267.8" r="2.7" fill="#2bbd9a"/><circle cx="600.9" cy="287.6" r="2.7" fill="#20b8b0"/><circle cx="595.4" cy="302.3" r="2.7" fill="#2a93f1"/><circle cx="560.3" cy="343.5" r="2.7" fill="#2898ed"/><circle cx="605.4" cy="230.2" r="2.7" fill="#f8c028"/><circle cx="620.8" cy="278.2" r="2.7" fill="#20b3c9"/><circle cx="608.6" cy="325.5" r="2.7" fill="#4848ef"/><circle cx="597.3" cy="314.6" r="2.7" fill="#3581f3"/><circle cx="575" cy="366.4" r="2.7" fill="#2898ed"/><circle cx="618.4" cy="318.4" r="2.7" fill="#3b76f4"/><circle cx="587.9" cy="357.1" r="2.7" fill="#2c8ef2"/><circle cx="612.3" cy="371.1" r="2.7" fill="#279ce9"/><circle cx="576.5" cy="355" r="2.7" fill="#269de8"/><circle cx="593.8" cy="305.2" r="2.7" fill="#2b90f2"/><circle cx="596.8" cy="291" r="2.7" fill="#22a9de"/><circle cx="568" cy="262.1" r="2.7" fill="#b2c83b"/><circle cx="591.9" cy="352.1" r="2.7" fill="#3580f3"/><circle cx="629.5" cy="341.8" r="2.7" fill="#3d6ef3"/><circle cx="611.1" cy="366.9" r="2.7" fill="#3383f3"/><circle cx="587.5" cy="239.2" r="2.7" fill="#d8c232"/><circle cx="571.8" cy="281.8" r="2.7" fill="#20b8b1"/><circle cx="577.9" cy="349.9" r="2.7" fill="#2b90f2"/><circle cx="601.2" cy="342.5" r="2.7" fill="#4846ee"/><circle cx="612.2" cy="301.1" r="2.7" fill="#279aeb"/><circle cx="651.4" cy="374.7" r="2.7" fill="#24a5e1"/><circle cx="592.7" cy="330.5" r="2.7" fill="#4160f2"/><circle cx="607" cy="281.3" r="2.7" fill="#20b3c9"/><circle cx="595.9" cy="258.1" r="2.7" fill="#4cc574"/><circle cx="608" cy="389.7" r="2.7" fill="#20b0d7"/><circle cx="606.6" cy="331.6" r="2.7" fill="#4849f0"/><circle cx="607.3" cy="255.6" r="2.7" fill="#44c37c"/><circle cx="608.8" cy="382.1" r="2.7" fill="#20b1d5"/><circle cx="615.1" cy="370.6" r="2.7" fill="#2e8bf3"/><circle cx="614.1" cy="321.1" r="2.7" fill="#2897ee"/><circle cx="618.8" cy="312.9" r="2.7" fill="#3c71f3"/><circle cx="616.9" cy="357.4" r="2.7" fill="#3a78f4"/><circle cx="587.5" cy="291.4" r="2.7" fill="#2cbe97"/><circle cx="623.4" cy="338.9" r="2.7" fill="#4359f1"/><circle cx="627" cy="398" r="2.7" fill="#20b3c8"/><circle cx="581.5" cy="306.7" r="2.7" fill="#2994f0"/><circle cx="622.7" cy="392.5" r="2.7" fill="#20afd9"/><circle cx="606.8" cy="364.3" r="2.7" fill="#367ef4"/><circle cx="592" cy="369.6" r="2.7" fill="#2a93f1"/><circle cx="604.5" cy="290.2" r="2.7" fill="#24a5e1"/><circle cx="569" cy="320.2" r="2.7" fill="#2995ef"/><circle cx="590.7" cy="370.7" r="2.7" fill="#2898ed"/><circle cx="610.7" cy="348.1" r="2.7" fill="#3481f3"/><circle cx="616.4" cy="352.9" r="2.7" fill="#3d6df3"/><circle cx="605.7" cy="416.4" r="2.7" fill="#79c854"/><circle cx="593.4" cy="370.8" r="2.7" fill="#2994f0"/><circle cx="576.4" cy="295.5" r="2.7" fill="#23a6e1"/><circle cx="602.7" cy="288.3" r="2.7" fill="#26bba4"/><circle cx="606.9" cy="375.7" r="2.7" fill="#2897ee"/><circle cx="601.3" cy="341.8" r="2.7" fill="#377df4"/><circle cx="592.9" cy="373.1" r="2.7" fill="#24a5e1"/><circle cx="599.3" cy="366.6" r="2.7" fill="#2e8bf3"/><circle cx="590" cy="362.5" r="2.7" fill="#3089f3"/><circle cx="588.7" cy="396.2" r="2.7" fill="#20b2cc"/><circle cx="589.5" cy="337" r="2.7" fill="#3c6ff3"/><circle cx="615.5" cy="416.3" r="2.7" fill="#6dc85a"/><circle cx="602.6" cy="329.2" r="2.7" fill="#367ff3"/><circle cx="606.9" cy="327.6" r="2.7" fill="#4162f2"/><circle cx="627.4" cy="367.9" r="2.7" fill="#2f8af3"/><circle cx="606.4" cy="357.2" r="2.7" fill="#3285f3"/><circle cx="644.2" cy="264.1" r="2.7" fill="#46c47a"/><circle cx="642.8" cy="349.4" r="2.7" fill="#377df4"/><circle cx="633.1" cy="362.3" r="2.7" fill="#3187f3"/><circle cx="631.3" cy="320.8" r="2.7" fill="#24a3e3"/><circle cx="622.9" cy="245.5" r="2.7" fill="#a6c840"/><circle cx="639.9" cy="355.7" r="2.7" fill="#3384f3"/><circle cx="587.2" cy="314.3" r="2.7" fill="#2a93f1"/><circle cx="601.8" cy="238" r="2.7" fill="#efb630"/><circle cx="558.9" cy="277" r="2.7" fill="#95c848"/><circle cx="613.4" cy="316.2" r="2.7" fill="#3e69f3"/><circle cx="571.9" cy="262.4" r="2.7" fill="#77c855"/><circle cx="600" cy="294.5" r="2.7" fill="#25a1e5"/><circle cx="611.8" cy="371.3" r="2.7" fill="#24a5e2"/><circle cx="605.4" cy="383.9" r="2.7" fill="#25a0e6"/><circle cx="620.8" cy="340.8" r="2.7" fill="#4651f1"/><circle cx="603.8" cy="261.7" r="2.7" fill="#2bbe9a"/><circle cx="594.8" cy="423.4" r="2.7" fill="#76c856"/><circle cx="619.5" cy="343.2" r="2.7" fill="#3383f3"/><circle cx="588.8" cy="369.2" r="2.7" fill="#20b0d8"/><circle cx="573.2" cy="404.8" r="2.7" fill="#47c479"/><circle cx="606.4" cy="201.3" r="2.7" fill="#f0e420"/><circle cx="604.1" cy="308.8" r="2.7" fill="#3285f3"/><circle cx="622.6" cy="352.9" r="2.7" fill="#4161f2"/><circle cx="579.6" cy="330.1" r="2.7" fill="#2996ef"/><circle cx="613.5" cy="339.9" r="2.7" fill="#3f68f3"/><circle cx="591.1" cy="283.5" r="2.7" fill="#20b1d5"/><circle cx="638.6" cy="370.2" r="2.7" fill="#279ce9"/><circle cx="584.8" cy="276.8" r="2.7" fill="#20b6bc"/><circle cx="602" cy="342.5" r="2.7" fill="#425cf2"/><circle cx="604" cy="300.3" r="2.7" fill="#2994f1"/><circle cx="584.9" cy="270.2" r="2.7" fill="#67c85d"/><circle cx="608.1" cy="341.4" r="2.7" fill="#474cf0"/><circle cx="621.3" cy="359.8" r="2.7" fill="#3c71f3"/><circle cx="610.2" cy="354.2" r="2.7" fill="#425ef2"/><circle cx="601" cy="340.8" r="2.7" fill="#474bf0"/><circle cx="621.1" cy="329.1" r="2.7" fill="#435af2"/><circle cx="589.3" cy="270.4" r="2.7" fill="#4ac476"/><circle cx="584.8" cy="358.4" r="2.7" fill="#2d8ef2"/><circle cx="638.8" cy="231.4" r="2.7" fill="#f1b530"/><circle cx="584.9" cy="306.8" r="2.7" fill="#279aeb"/><circle cx="594.2" cy="333.6" r="2.7" fill="#464ef1"/><circle cx="615.8" cy="347.1" r="2.7" fill="#474af0"/><circle cx="604.9" cy="305.3" r="2.7" fill="#3088f3"/><circle cx="601.5" cy="292.4" r="2.7" fill="#21aeda"/><circle cx="644.2" cy="343" r="2.7" fill="#397af4"/><circle cx="606.5" cy="344.2" r="2.7" fill="#464ef1"/><circle cx="584.1" cy="306" r="2.7" fill="#279aeb"/><circle cx="614.2" cy="302.8" r="2.7" fill="#279aeb"/><circle cx="609.5" cy="292.2" r="2.7" fill="#24a4e3"/><circle cx="587.7" cy="320.2" r="2.7" fill="#3b75f4"/><circle cx="599.8" cy="341.8" r="2.7" fill="#3c72f4"/><circle cx="610" cy="419.9" r="2.7" fill="#5dc763"/><circle cx="611.8" cy="365.9" r="2.7" fill="#377ef4"/><circle cx="602.4" cy="377.3" r="2.7" fill="#2897ed"/><circle cx="591.1" cy="377.7" r="2.7" fill="#20b1d2"/><circle cx="610.3" cy="320.5" r="2.7" fill="#4063f2"/><circle cx="585.8" cy="333.2" r="2.7" fill="#3286f3"/><circle cx="590" cy="262.5" r="2.7" fill="#aac83e"/><circle cx="581.2" cy="349.5" r="2.7" fill="#3187f3"/><circle cx="627" cy="359.8" r="2.7" fill="#279aeb"/><circle cx="590.8" cy="316.9" r="2.7" fill="#2897ee"/><circle cx="600" cy="331.3" r="2.7" fill="#4846ed"/><circle cx="615.9" cy="321.5" r="2.7" fill="#4456f1"/><circle cx="623.1" cy="366" r="2.7" fill="#2996ef"/><circle cx="607.7" cy="370.1" r="2.7" fill="#269de8"/><circle cx="589.4" cy="308.7" r="2.7" fill="#2f8af3"/><circle cx="609.2" cy="251" r="2.7" fill="#bbc737"/><circle cx="647.4" cy="377.3" r="2.7" fill="#23a6e0"/><circle cx="600.5" cy="341.7" r="2.7" fill="#3f68f3"/><circle cx="636.5" cy="372.2" r="2.7" fill="#279aeb"/><circle cx="601.8" cy="394.4" r="2.7" fill="#20b4c6"/><circle cx="628.6" cy="308.6" r="2.7" fill="#2897ee"/><circle cx="586.3" cy="398.4" r="2.7" fill="#20b6ba"/><circle cx="569" cy="341.6" r="2.7" fill="#2f8af3"/><circle cx="606" cy="321" r="2.7" fill="#3286f3"/><circle cx="613.8" cy="287.7" r="2.7" fill="#20b0d6"/><circle cx="615.1" cy="342.5" r="2.7" fill="#4650f1"/><circle cx="601.9" cy="273.1" r="2.7" fill="#20b7b4"/><circle cx="614.2" cy="382.6" r="2.7" fill="#20b2ce"/><circle cx="602.4" cy="417.5" r="2.7" fill="#6fc859"/><circle cx="590.6" cy="310" r="2.7" fill="#23a6e1"/><circle cx="633" cy="237.7" r="2.7" fill="#f7d220"/><circle cx="616.1" cy="347.7" r="2.7" fill="#415ff2"/><circle cx="575.1" cy="306.5" r="2.7" fill="#20b0d6"/><circle cx="612.1" cy="359.7" r="2.7" fill="#3d6ff3"/><circle cx="613.3" cy="364.3" r="2.7" fill="#3186f3"/><circle cx="578.8" cy="244.1" r="2.7" fill="#dac131"/><circle cx="616.3" cy="314.6" r="2.7" fill="#3b75f4"/><circle cx="590.8" cy="213.7" r="2.7" fill="#f0e420"/><circle cx="621.3" cy="442.8" r="2.7" fill="#d0c333"/><circle cx="610.7" cy="333.2" r="2.7" fill="#4841e6"/><circle cx="613.2" cy="306.3" r="2.7" fill="#3383f3"/><circle cx="579.7" cy="398.3" r="2.7" fill="#48c478"/><circle cx="593.8" cy="333.7" r="2.7" fill="#4650f1"/><circle cx="585.9" cy="294" r="2.7" fill="#20b4c5"/><circle cx="587" cy="337.8" r="2.7" fill="#3a78f4"/><circle cx="614.4" cy="226.2" r="2.7" fill="#f3b330"/><circle cx="613.1" cy="325.4" r="2.7" fill="#4650f1"/><circle cx="605.5" cy="299.2" r="2.7" fill="#20b1d5"/><circle cx="593.3" cy="322.3" r="2.7" fill="#3c71f3"/><circle cx="588.9" cy="399" r="2.7" fill="#20b3c7"/><circle cx="597.4" cy="420.8" r="2.7" fill="#7ec852"/><circle cx="612.5" cy="334.3" r="2.7" fill="#3d6ff3"/><circle cx="594" cy="258.8" r="2.7" fill="#b3c83a"/><circle cx="595.9" cy="245.1" r="2.7" fill="#7bc854"/><circle cx="608.4" cy="271.5" r="2.7" fill="#30c090"/><circle cx="616.1" cy="351.1" r="2.7" fill="#3f66f2"/><circle cx="593.6" cy="300.9" r="2.7" fill="#24a3e3"/><circle cx="573.7" cy="379.4" r="2.7" fill="#23a7df"/><circle cx="579.7" cy="385.8" r="2.7" fill="#20b0d8"/><circle cx="591.2" cy="330" r="2.7" fill="#2899ec"/><circle cx="618.3" cy="308.7" r="2.7" fill="#21adda"/><circle cx="586.2" cy="334.9" r="2.7" fill="#3d6cf3"/><circle cx="631" cy="375.8" r="2.7" fill="#269de8"/><circle cx="618" cy="349.4" r="2.7" fill="#4358f1"/><circle cx="565.7" cy="369.2" r="2.7" fill="#21aeda"/><circle cx="610.6" cy="328.8" r="2.7" fill="#425df2"/><circle cx="631.4" cy="338.4" r="2.7" fill="#435af2"/><circle cx="598.3" cy="347.5" r="2.7" fill="#4554f1"/><circle cx="596.2" cy="303.6" r="2.7" fill="#20b0d7"/><circle cx="597.5" cy="287.9" r="2.7" fill="#20b8b1"/><circle cx="634.1" cy="359.8" r="2.7" fill="#3482f3"/><circle cx="625.1" cy="314.3" r="2.7" fill="#3b75f4"/><circle cx="601.1" cy="363.6" r="2.7" fill="#3187f3"/><circle cx="603" cy="282.5" r="2.7" fill="#20afd9"/><circle cx="593.1" cy="230.2" r="2.7" fill="#f8cf20"/><circle cx="587.3" cy="277.4" r="2.7" fill="#21b9ad"/><circle cx="614.6" cy="378.6" r="2.7" fill="#22abdc"/><circle cx="593.9" cy="318" r="2.7" fill="#2b90f2"/><circle cx="623.5" cy="288.7" r="2.7" fill="#20b0d8"/><circle cx="586.2" cy="275.9" r="2.7" fill="#2ebf95"/><circle cx="604.7" cy="349.4" r="2.7" fill="#4553f1"/><circle cx="624.1" cy="391.6" r="2.7" fill="#20b8af"/><circle cx="628.6" cy="333.7" r="2.7" fill="#397af4"/><circle cx="592.3" cy="350.7" r="2.7" fill="#4065f2"/><circle cx="591.7" cy="281.9" r="2.7" fill="#2bbe9a"/><circle cx="580.1" cy="299.8" r="2.7" fill="#269ee8"/><circle cx="626.5" cy="376.5" r="2.7" fill="#279bea"/><circle cx="615.8" cy="343.7" r="2.7" fill="#3c71f3"/><circle cx="591.4" cy="308.7" r="2.7" fill="#20afd9"/><circle cx="600.9" cy="305.6" r="2.7" fill="#2899ec"/><circle cx="619.4" cy="202.3" r="2.7" fill="#f0e420"/><circle cx="626.9" cy="310.1" r="2.7" fill="#3581f3"/><circle cx="577.8" cy="306.1" r="2.7" fill="#2899ec"/><circle cx="598.5" cy="316.2" r="2.7" fill="#3c73f4"/><circle cx="624.4" cy="298.1" r="2.7" fill="#24a4e3"/><circle cx="643.5" cy="297.5" r="2.7" fill="#20b1d4"/><circle cx="633.2" cy="364.2" r="2.7" fill="#279bea"/><circle cx="623.9" cy="293.2" r="2.7" fill="#22aadd"/><circle cx="581.3" cy="369.4" r="2.7" fill="#2898ed"/><circle cx="593.3" cy="351.3" r="2.7" fill="#3f65f2"/><circle cx="627.7" cy="428.3" r="2.7" fill="#e0c030"/><circle cx="585.1" cy="330.2" r="2.7" fill="#3e6af3"/><circle cx="595.5" cy="216.7" r="2.7" fill="#f1e120"/><circle cx="640" cy="355.7" r="2.7" fill="#3186f3"/><circle cx="605.5" cy="340.3" r="2.7" fill="#4358f1"/><circle cx="615.1" cy="373.8" r="2.7" fill="#2a93f1"/><circle cx="579.1" cy="339.6" r="2.7" fill="#2898ed"/><circle cx="633.2" cy="364.4" r="2.7" fill="#2c8ef2"/><circle cx="598.8" cy="354.4" r="2.7" fill="#4064f2"/><circle cx="580.3" cy="369" r="2.7" fill="#279bea"/><circle cx="599.8" cy="338" r="2.7" fill="#4456f1"/><circle cx="592.3" cy="360" r="2.7" fill="#367ff3"/><circle cx="595.7" cy="286.7" r="2.7" fill="#22abdc"/><circle cx="575.6" cy="313.3" r="2.7" fill="#25a0e6"/><circle cx="594.6" cy="357.3" r="2.7" fill="#2a93f1"/><circle cx="613.7" cy="269.6" r="2.7" fill="#75c856"/><circle cx="615.9" cy="278.3" r="2.7" fill="#30c090"/><circle cx="577.7" cy="363" r="2.7" fill="#2995ef"/><circle cx="608" cy="375.6" r="2.7" fill="#24a5e2"/><circle cx="599.8" cy="289.4" r="2.7" fill="#20b0d7"/><circle cx="599.7" cy="354" r="2.7" fill="#3d6ff3"/><circle cx="586.6" cy="303.5" r="2.7" fill="#279beb"/><circle cx="593.6" cy="302.4" r="2.7" fill="#2a93f1"/><circle cx="581.3" cy="340.7" r="2.7" fill="#3d6ff3"/><circle cx="596.2" cy="281" r="2.7" fill="#20b2d0"/><circle cx="608.8" cy="396.7" r="2.7" fill="#20b6b8"/><circle cx="604.9" cy="279.1" r="2.7" fill="#20b4c5"/><circle cx="581.3" cy="358.9" r="2.7" fill="#3187f3"/><circle cx="590.5" cy="341.6" r="2.7" fill="#4064f2"/><circle cx="564.7" cy="310.9" r="2.7" fill="#269ee8"/><circle cx="602" cy="296.7" r="2.7" fill="#24a3e4"/><circle cx="609.4" cy="319.4" r="2.7" fill="#2a93f1"/><circle cx="625" cy="395.5" r="2.7" fill="#20b1d1"/><circle cx="602.2" cy="217.4" r="2.7" fill="#f4d920"/><circle cx="582.4" cy="352.2" r="2.7" fill="#2c8ff2"/><circle cx="597.1" cy="355.9" r="2.7" fill="#3e6cf3"/><circle cx="555.4" cy="280.6" r="2.7" fill="#3bc285"/><circle cx="626" cy="310.5" r="2.7" fill="#357ff3"/><circle cx="624.8" cy="350.7" r="2.7" fill="#425ef2"/><circle cx="599.6" cy="359.1" r="2.7" fill="#2a93f1"/><circle cx="617.5" cy="272.9" r="2.7" fill="#20b7b3"/><circle cx="581.3" cy="405.8" r="2.7" fill="#2bbd9a"/><circle cx="596.1" cy="369.1" r="2.7" fill="#2a92f2"/><circle cx="614.8" cy="348.9" r="2.7" fill="#415ff2"/><circle cx="587.5" cy="303.7" r="2.7" fill="#2897ee"/><circle cx="576.4" cy="355.3" r="2.7" fill="#2f8af3"/><circle cx="598" cy="378.5" r="2.7" fill="#20b4c2"/><circle cx="622" cy="298.9" r="2.7" fill="#2897ee"/><circle cx="612.1" cy="395.5" r="2.7" fill="#20b0d7"/><circle cx="606.7" cy="403.4" r="2.7" fill="#21b8ae"/><circle cx="557.1" cy="260.8" r="2.7" fill="#69c85c"/><circle cx="603.9" cy="338.7" r="2.7" fill="#4841e5"/><circle cx="640.8" cy="335.2" r="2.7" fill="#3c71f3"/><circle cx="613" cy="248.9" r="2.7" fill="#78c855"/><circle cx="603.4" cy="394.6" r="2.7" fill="#20b0d6"/><circle cx="618.3" cy="341.8" r="2.7" fill="#4848f0"/><circle cx="593.3" cy="257.8" r="2.7" fill="#55c66b"/><circle cx="608.2" cy="273.8" r="2.7" fill="#20b4c3"/><circle cx="595.7" cy="358" r="2.7" fill="#23a8df"/><circle cx="589.2" cy="329.5" r="2.7" fill="#425ef2"/><circle cx="583" cy="350.8" r="2.7" fill="#2897ed"/><circle cx="619.7" cy="287.9" r="2.7" fill="#22aadd"/><circle cx="572.7" cy="278.4" r="2.7" fill="#20b8b2"/><circle cx="613.4" cy="297.2" r="2.7" fill="#279bea"/><circle cx="600.9" cy="272.3" r="2.7" fill="#23b9ab"/><circle cx="588.8" cy="319.8" r="2.7" fill="#3580f3"/><circle cx="597.7" cy="362.8" r="2.7" fill="#387bf4"/><circle cx="608.9" cy="359.2" r="2.7" fill="#3b74f4"/><circle cx="605.3" cy="287.4" r="2.7" fill="#20b3cb"/><circle cx="602.7" cy="402.9" r="2.7" fill="#20b6ba"/><circle cx="626.2" cy="381.2" r="2.7" fill="#21aeda"/><circle cx="640.9" cy="367.5" r="2.7" fill="#25a1e5"/><circle cx="586.8" cy="367.1" r="2.7" fill="#2a93f1"/><circle cx="616.2" cy="412.5" r="2.7" fill="#2fbf93"/><circle cx="606.5" cy="392" r="2.7" fill="#20b4c2"/><circle cx="586.4" cy="341.3" r="2.7" fill="#3e6af3"/><circle cx="591.5" cy="383.2" r="2.7" fill="#25a2e4"/><circle cx="619.2" cy="305.8" r="2.7" fill="#2b90f2"/><circle cx="558.5" cy="338.3" r="2.7" fill="#279ce9"/><circle cx="614.5" cy="298.5" r="2.7" fill="#2996ef"/><circle cx="595.8" cy="386.5" r="2.7" fill="#21aeda"/><circle cx="609" cy="337" r="2.7" fill="#474bf0"/><circle cx="597.5" cy="296.3" r="2.7" fill="#22abdd"/><circle cx="610.1" cy="281.9" r="2.7" fill="#20b3c9"/><circle cx="616.7" cy="363.8" r="2.7" fill="#2897ee"/><circle cx="597.8" cy="318.1" r="2.7" fill="#3d6df3"/><circle cx="614.1" cy="376" r="2.7" fill="#20b2ce"/><circle cx="615.3" cy="260.3" r="2.7" fill="#30c090"/><circle cx="628.8" cy="337.8" r="2.7" fill="#4552f1"/><circle cx="605.1" cy="330.6" r="2.7" fill="#4842e7"/><circle cx="586.5" cy="212.6" r="2.7" fill="#f0e420"/><circle cx="631.3" cy="388" r="2.7" fill="#20b0d8"/><circle cx="598.8" cy="321.6" r="2.7" fill="#3f67f3"/><circle cx="605.4" cy="384" r="2.7" fill="#25a1e5"/><circle cx="612.2" cy="324.3" r="2.7" fill="#464ff1"/><circle cx="628.7" cy="325.9" r="2.7" fill="#3f66f2"/><circle cx="572.6" cy="367.1" r="2.7" fill="#279bea"/><circle cx="612.4" cy="284.1" r="2.7" fill="#20b0d6"/><circle cx="628" cy="331.2" r="2.7" fill="#4454f1"/><circle cx="618.2" cy="335.7" r="2.7" fill="#4650f1"/><circle cx="583.7" cy="325.3" r="2.7" fill="#377df4"/><circle cx="588.7" cy="293.2" r="2.7" fill="#23baaa"/><circle cx="609.1" cy="323.3" r="2.7" fill="#367ef4"/><circle cx="611.3" cy="370.6" r="2.7" fill="#2996ee"/><circle cx="570.7" cy="264.4" r="2.7" fill="#8cc84c"/><circle cx="589.5" cy="368.9" r="2.7" fill="#279ce9"/><circle cx="588.7" cy="367.9" r="2.7" fill="#2994f0"/><circle cx="630.4" cy="349.3" r="2.7" fill="#3580f3"/><circle cx="620.5" cy="356" r="2.7" fill="#2a93f2"/><circle cx="584.9" cy="348.8" r="2.7" fill="#3088f3"/><circle cx="610.9" cy="358.5" r="2.7" fill="#3d6cf3"/><circle cx="609.2" cy="283.5" r="2.7" fill="#21addb"/><circle cx="602.7" cy="367" r="2.7" fill="#2994f0"/><circle cx="602.4" cy="360.1" r="2.7" fill="#387bf4"/><circle cx="589.5" cy="341" r="2.7" fill="#2a93f1"/><circle cx="597.8" cy="347.9" r="2.7" fill="#3088f3"/><circle cx="612.6" cy="318" r="2.7" fill="#3f65f2"/><circle cx="617.9" cy="340.7" r="2.7" fill="#4455f1"/><circle cx="591.2" cy="334" r="2.7" fill="#4161f2"/><circle cx="626.7" cy="441.4" r="2.7" fill="#d1c333"/><circle cx="621.2" cy="329.5" r="2.7" fill="#464ff1"/><circle cx="590" cy="399.7" r="2.7" fill="#20b5c1"/><circle cx="603.3" cy="336.8" r="2.7" fill="#435af2"/><circle cx="596.7" cy="344.8" r="2.7" fill="#4553f1"/><circle cx="618.5" cy="334.4" r="2.7" fill="#4848f0"/><circle cx="631.1" cy="423.5" r="2.7" fill="#89c84d"/><circle cx="615.4" cy="294.8" r="2.7" fill="#269fe6"/><circle cx="583.6" cy="309.1" r="2.7" fill="#2b90f2"/><circle cx="617.5" cy="350.9" r="2.7" fill="#435af2"/><circle cx="624.8" cy="346.8" r="2.7" fill="#415ef2"/><circle cx="603.9" cy="330.1" r="2.7" fill="#4650f1"/><circle cx="594.4" cy="254.5" r="2.7" fill="#3ec282"/><circle cx="593.4" cy="317.9" r="2.7" fill="#3e6cf3"/><circle cx="590.6" cy="348.4" r="2.7" fill="#4063f2"/><circle cx="597.9" cy="334.3" r="2.7" fill="#387bf4"/><circle cx="585.7" cy="357.5" r="2.7" fill="#3284f3"/><circle cx="590.7" cy="328.8" r="2.7" fill="#415ff2"/><circle cx="590.6" cy="249.9" r="2.7" fill="#81c851"/><circle cx="598.3" cy="268.9" r="2.7" fill="#21b9ad"/><circle cx="657.5" cy="370.8" r="2.7" fill="#22a9de"/><circle cx="621.2" cy="349.8" r="2.7" fill="#3383f3"/><circle cx="613.3" cy="375.8" r="2.7" fill="#2996ee"/><circle cx="621" cy="348.6" r="2.7" fill="#4553f1"/><circle cx="572" cy="367.4" r="2.7" fill="#269fe7"/><circle cx="596.7" cy="333.1" r="2.7" fill="#425df2"/><circle cx="624.4" cy="353.3" r="2.7" fill="#3089f3"/><circle cx="621.5" cy="288.6" r="2.7" fill="#23a7e0"/><circle cx="588.2" cy="351.7" r="2.7" fill="#3d6ef3"/><circle cx="605.8" cy="426.9" r="2.7" fill="#7dc853"/><circle cx="594.5" cy="291.5" r="2.7" fill="#22aadd"/><circle cx="594.4" cy="261.2" r="2.7" fill="#76c856"/><circle cx="611.4" cy="349" r="2.7" fill="#464ff1"/><circle cx="603.1" cy="324.2" r="2.7" fill="#3d6df3"/><circle cx="615" cy="349.3" r="2.7" fill="#3e69f3"/><circle cx="582.3" cy="286.2" r="2.7" fill="#20b5c1"/><circle cx="599.1" cy="360.9" r="2.7" fill="#3a79f4"/><circle cx="582.4" cy="313.7" r="2.7" fill="#2e8bf3"/><circle cx="572.3" cy="318.3" r="2.7" fill="#2995f0"/><circle cx="609.2" cy="329.5" r="2.7" fill="#367ef4"/><circle cx="614.8" cy="269.4" r="2.7" fill="#20b7b5"/><circle cx="617.7" cy="277.5" r="2.7" fill="#20b8b0"/><circle cx="602.5" cy="385" r="2.7" fill="#23a6e0"/><circle cx="631" cy="326.5" r="2.7" fill="#3a78f4"/><circle cx="595.6" cy="302.7" r="2.7" fill="#2994f0"/><circle cx="559.2" cy="342.4" r="2.7" fill="#2899ec"/><circle cx="621.5" cy="391.8" r="2.7" fill="#20b4c6"/><circle cx="608.3" cy="316.6" r="2.7" fill="#2994f0"/><circle cx="578.5" cy="338.9" r="2.7" fill="#3b76f4"/><circle cx="616.4" cy="376.9" r="2.7" fill="#2898ed"/><circle cx="587.2" cy="315.3" r="2.7" fill="#387cf4"/><circle cx="617.8" cy="300.6" r="2.7" fill="#2a93f1"/><circle cx="592.8" cy="354.9" r="2.7" fill="#357ff3"/><circle cx="594.7" cy="321.7" r="2.7" fill="#4161f2"/><circle cx="567.9" cy="275.5" r="2.7" fill="#26bba5"/><circle cx="603" cy="347.1" r="2.7" fill="#4359f1"/><circle cx="636.5" cy="377.7" r="2.7" fill="#269fe7"/><circle cx="623.3" cy="386.9" r="2.7" fill="#20b7b4"/><circle cx="578.2" cy="337.3" r="2.7" fill="#3a76f4"/><circle cx="614.1" cy="373.9" r="2.7" fill="#2898ed"/><circle cx="581" cy="307.5" r="2.7" fill="#2899ec"/><circle cx="585" cy="359.1" r="2.7" fill="#2e8cf2"/><circle cx="579.4" cy="334" r="2.7" fill="#3383f3"/><circle cx="585.5" cy="284.7" r="2.7" fill="#2abd9c"/><circle cx="587.4" cy="334.9" r="2.7" fill="#4064f2"/><circle cx="588.3" cy="311.8" r="2.7" fill="#3482f3"/><circle cx="580.7" cy="329.9" r="2.7" fill="#3481f3"/><circle cx="608.5" cy="354.3" r="2.7" fill="#425df2"/><circle cx="601.8" cy="322.7" r="2.7" fill="#279aeb"/><circle cx="603.5" cy="336.9" r="2.7" fill="#4841e6"/><circle cx="621" cy="224.1" r="2.7" fill="#f4db20"/><circle cx="591.4" cy="278.8" r="2.7" fill="#20b7b3"/><circle cx="587.6" cy="308.7" r="2.7" fill="#2d8df2"/><circle cx="620.8" cy="346.1" r="2.7" fill="#464ef0"/><circle cx="619.1" cy="343.1" r="2.7" fill="#4847ee"/><circle cx="570.3" cy="314.6" r="2.7" fill="#269de9"/><circle cx="600.8" cy="267.1" r="2.7" fill="#24baa9"/><circle cx="607.4" cy="352.9" r="2.7" fill="#4359f1"/><circle cx="606.8" cy="362.9" r="2.7" fill="#3a78f4"/><circle cx="591.6" cy="429" r="2.7" fill="#54c66c"/><circle cx="593.8" cy="342.6" r="2.7" fill="#2a93f1"/><circle cx="589.3" cy="305.1" r="2.7" fill="#2995ef"/><circle cx="633.8" cy="358.3" r="2.7" fill="#2d8cf2"/><circle cx="604.5" cy="323.3" r="2.7" fill="#4358f1"/><circle cx="612.7" cy="303" r="2.7" fill="#20b6ba"/><circle cx="584.9" cy="284.2" r="2.7" fill="#20b0d7"/><circle cx="600.5" cy="303.5" r="2.7" fill="#23a6e1"/><circle cx="615" cy="329.2" r="2.7" fill="#4845eb"/><circle cx="616.4" cy="321.9" r="2.7" fill="#2a93f1"/><circle cx="597.9" cy="358.7" r="2.7" fill="#367ff3"/><circle cx="603.7" cy="279.6" r="2.7" fill="#20b1d2"/><circle cx="588.1" cy="364.6" r="2.7" fill="#2f8af3"/><circle cx="584.2" cy="322.7" r="2.7" fill="#3b74f4"/><circle cx="585.8" cy="225.4" r="2.7" fill="#f6d520"/><circle cx="624.4" cy="348.5" r="2.7" fill="#4358f1"/><circle cx="586.1" cy="327.8" r="2.7" fill="#3d6ff3"/><circle cx="573.8" cy="321.3" r="2.7" fill="#2a91f2"/><circle cx="575.8" cy="344.7" r="2.7" fill="#269fe6"/><circle cx="584.3" cy="336.8" r="2.7" fill="#24a4e3"/><circle cx="598.8" cy="406" r="2.7" fill="#20b8b1"/><circle cx="615.9" cy="277.2" r="2.7" fill="#20b3cb"/><circle cx="586.6" cy="290.5" r="2.7" fill="#23a7e0"/><circle cx="619.3" cy="341.8" r="2.7" fill="#415ff2"/><circle cx="602.6" cy="271.3" r="2.7" fill="#25baa6"/><circle cx="590.1" cy="321" r="2.7" fill="#2e8cf2"/><circle cx="604.7" cy="370.6" r="2.7" fill="#25a1e5"/><circle cx="613.1" cy="325.3" r="2.7" fill="#474df0"/><circle cx="604.2" cy="341.8" r="2.7" fill="#4844eb"/><circle cx="571.3" cy="303.1" r="2.7" fill="#22aade"/><circle cx="604.5" cy="369.7" r="2.7" fill="#2f8af3"/><circle cx="598.3" cy="302.5" r="2.7" fill="#269de9"/><circle cx="603.2" cy="337.9" r="2.7" fill="#4842e7"/><circle cx="599.1" cy="396.9" r="2.7" fill="#20b1d2"/><circle cx="568" cy="320.8" r="2.7" fill="#23a8df"/><circle cx="610.8" cy="313.6" r="2.7" fill="#3c70f3"/><circle cx="618.5" cy="368.5" r="2.7" fill="#3088f3"/><circle cx="603" cy="380.2" r="2.7" fill="#269de9"/><circle cx="611.5" cy="315.3" r="2.7" fill="#2d8ef2"/><circle cx="581.5" cy="360.4" r="2.7" fill="#279ce9"/><circle cx="621.2" cy="362.4" r="2.7" fill="#3285f3"/><circle cx="593.3" cy="295" r="2.7" fill="#25a2e4"/><circle cx="591.9" cy="306.4" r="2.7" fill="#2a92f2"/><circle cx="607.1" cy="345.2" r="2.7" fill="#2f8af3"/><circle cx="631.5" cy="398.2" r="2.7" fill="#20b5be"/><circle cx="607.7" cy="292.7" r="2.7" fill="#25a0e6"/><circle cx="569.5" cy="265.2" r="2.7" fill="#37c189"/><circle cx="578.7" cy="242.7" r="2.7" fill="#e4bd30"/><circle cx="606.1" cy="329" r="2.7" fill="#4359f1"/><circle cx="595.9" cy="353.6" r="2.7" fill="#3b76f4"/><circle cx="618.6" cy="322.8" r="2.7" fill="#4457f1"/><circle cx="606.6" cy="280.8" r="2.7" fill="#20b1d5"/><circle cx="572.1" cy="320.7" r="2.7" fill="#23a6e1"/><circle cx="590" cy="346.3" r="2.7" fill="#4063f2"/><circle cx="633.8" cy="325.8" r="2.7" fill="#3e6bf3"/><circle cx="607.9" cy="401.5" r="2.7" fill="#20b7b3"/><circle cx="598.5" cy="290" r="2.7" fill="#23a8df"/><circle cx="584.4" cy="332.8" r="2.7" fill="#3b74f4"/><circle cx="574.2" cy="309.7" r="2.7" fill="#279aeb"/><circle cx="600.9" cy="348.4" r="2.7" fill="#4554f1"/><circle cx="629.5" cy="351.3" r="2.7" fill="#3f66f3"/><circle cx="599.6" cy="282.9" r="2.7" fill="#20b8b2"/><circle cx="607.1" cy="339.5" r="2.7" fill="#4845ec"/><circle cx="593.1" cy="371.7" r="2.7" fill="#269ee8"/><circle cx="553.8" cy="336.8" r="2.7" fill="#269fe7"/><circle cx="583.5" cy="282.8" r="2.7" fill="#30c091"/><circle cx="571.1" cy="373.4" r="2.7" fill="#21adda"/><circle cx="590.3" cy="304.8" r="2.7" fill="#279ce9"/><circle cx="632.5" cy="324.4" r="2.7" fill="#3a79f4"/><circle cx="591.1" cy="371.3" r="2.7" fill="#269fe7"/><circle cx="592.3" cy="314.3" r="2.7" fill="#2994f1"/><circle cx="632.5" cy="337" r="2.7" fill="#425bf2"/><circle cx="610.1" cy="376" r="2.7" fill="#279bea"/><circle cx="657.1" cy="366.2" r="2.7" fill="#24a4e2"/><circle cx="605" cy="306.7" r="2.7" fill="#2996ee"/><circle cx="624.5" cy="255.8" r="2.7" fill="#adc83d"/><circle cx="594.3" cy="247.8" r="2.7" fill="#d4c232"/><circle cx="616.6" cy="354.8" r="2.7" fill="#3c70f3"/><circle cx="624.5" cy="320" r="2.7" fill="#3e6af3"/><circle cx="626.6" cy="373.5" r="2.7" fill="#2995f0"/><circle cx="592" cy="360.4" r="2.7" fill="#387bf4"/><circle cx="638.1" cy="368.5" r="2.7" fill="#2995ef"/><circle cx="620.3" cy="292.5" r="2.7" fill="#25a2e4"/><circle cx="599.1" cy="284.7" r="2.7" fill="#20b1d2"/><circle cx="624.2" cy="341.6" r="2.7" fill="#435af1"/><circle cx="621.5" cy="359.6" r="2.7" fill="#3c72f4"/><circle cx="629" cy="379.9" r="2.7" fill="#269fe7"/><circle cx="629.6" cy="362.6" r="2.7" fill="#2f89f3"/><circle cx="611.1" cy="345.4" r="2.7" fill="#3e69f3"/><circle cx="626.8" cy="348.9" r="2.7" fill="#425ef2"/><circle cx="615.5" cy="287.9" r="2.7" fill="#25baa7"/><circle cx="569.5" cy="293.9" r="2.7" fill="#2fc092"/><circle cx="599.2" cy="281.3" r="2.7" fill="#20b2cf"/><circle cx="623.4" cy="362.3" r="2.7" fill="#2d8ef2"/><circle cx="604.8" cy="315" r="2.7" fill="#2b91f2"/><circle cx="581.5" cy="334.6" r="2.7" fill="#3d6ef3"/><circle cx="587.3" cy="323.6" r="2.7" fill="#3482f3"/><circle cx="592.2" cy="359.8" r="2.7" fill="#2e8cf2"/><circle cx="622.7" cy="316.6" r="2.7" fill="#3b75f4"/><circle cx="608.6" cy="382.7" r="2.7" fill="#23a7e0"/><circle cx="569" cy="262.2" r="2.7" fill="#83c850"/><circle cx="595.7" cy="331.7" r="2.7" fill="#474df0"/><circle cx="618.7" cy="310.6" r="2.7" fill="#2d8df2"/><circle cx="552.8" cy="385.3" r="2.7" fill="#20b8b0"/><circle cx="598.4" cy="307.9" r="2.7" fill="#3384f3"/><circle cx="608.7" cy="387.6" r="2.7" fill="#21addb"/><circle cx="631.1" cy="404" r="2.7" fill="#20b6bc"/><circle cx="578.4" cy="345.2" r="2.7" fill="#3979f4"/><circle cx="604.2" cy="241.9" r="2.7" fill="#b3c83a"/><circle cx="589.3" cy="331.5" r="2.7" fill="#4160f2"/><circle cx="601.4" cy="297.8" r="2.7" fill="#269ee7"/><circle cx="576.7" cy="370.8" r="2.7" fill="#21aeda"/><circle cx="615.8" cy="393.6" r="2.7" fill="#20b1d5"/><circle cx="612.4" cy="326" r="2.7" fill="#3e6cf3"/><circle cx="580.6" cy="280.1" r="2.7" fill="#20b8af"/><circle cx="577.9" cy="245.5" r="2.7" fill="#c0c636"/><circle cx="609.7" cy="305.4" r="2.7" fill="#2995ef"/><circle cx="578.1" cy="354.1" r="2.7" fill="#269fe7"/><circle cx="616.6" cy="342.8" r="2.7" fill="#3f67f3"/><circle cx="606.3" cy="353.4" r="2.7" fill="#3a77f4"/><circle cx="622.1" cy="327.9" r="2.7" fill="#3580f3"/><circle cx="573.7" cy="339.5" r="2.7" fill="#3187f3"/><circle cx="603.5" cy="371.9" r="2.7" fill="#2994f0"/><circle cx="614.7" cy="310.7" r="2.7" fill="#2f8af3"/><circle cx="613.9" cy="312.7" r="2.7" fill="#357ff3"/><circle cx="602.4" cy="278.8" r="2.7" fill="#20b5c1"/><circle cx="635.3" cy="319.1" r="2.7" fill="#3383f3"/><circle cx="598" cy="349.6" r="2.7" fill="#4359f1"/><circle cx="591.1" cy="420.7" r="2.7" fill="#4dc573"/><circle cx="606.4" cy="364.3" r="2.7" fill="#387bf4"/><circle cx="608.9" cy="240.8" r="2.7" fill="#e2be30"/><circle cx="615.7" cy="304.1" r="2.7" fill="#2897ee"/><circle cx="590.9" cy="367.3" r="2.7" fill="#2c8ef2"/><circle cx="572.9" cy="335.9" r="2.7" fill="#3383f3"/><circle cx="571.1" cy="365.6" r="2.7" fill="#269ee7"/><circle cx="595.1" cy="309.5" r="2.7" fill="#2f8bf3"/><circle cx="584.8" cy="290.4" r="2.7" fill="#22aade"/><circle cx="557.9" cy="301" r="2.7" fill="#20b0d8"/><circle cx="610.8" cy="255.2" r="2.7" fill="#c1c636"/><circle cx="602.2" cy="251.7" r="2.7" fill="#6dc85a"/><circle cx="603.4" cy="359.1" r="2.7" fill="#3c6ff3"/><circle cx="612.9" cy="343.1" r="2.7" fill="#415ff2"/><circle cx="615.7" cy="274.8" r="2.7" fill="#20b7b7"/><circle cx="565.2" cy="235.9" r="2.7" fill="#e2bf30"/><circle cx="597.3" cy="265.5" r="2.7" fill="#29bd9e"/><circle cx="608.3" cy="229.5" r="2.7" fill="#f4b330"/><circle cx="593.3" cy="329.4" r="2.7" fill="#4455f1"/><circle cx="601.3" cy="255.7" r="2.7" fill="#5fc861"/><circle cx="613.9" cy="339.8" r="2.7" fill="#4841e5"/><circle cx="594.8" cy="320.9" r="2.7" fill="#4065f2"/><circle cx="626.3" cy="345.3" r="2.7" fill="#4455f1"/><circle cx="616.3" cy="362.3" r="2.7" fill="#3979f4"/><circle cx="638.3" cy="406.5" r="2.7" fill="#23baa9"/><circle cx="641.2" cy="326.4" r="2.7" fill="#3a76f4"/><circle cx="594.3" cy="367.9" r="2.7" fill="#24a4e3"/><circle cx="608.3" cy="360.1" r="2.7" fill="#3b75f4"/><circle cx="584.9" cy="350.9" r="2.7" fill="#3a78f4"/><circle cx="587.4" cy="381.9" r="2.7" fill="#21acdb"/><circle cx="605.5" cy="271.3" r="2.7" fill="#20b8b0"/><circle cx="611.8" cy="303.3" r="2.7" fill="#2f8bf3"/><circle cx="617.4" cy="304.5" r="2.7" fill="#22aadd"/><circle cx="644.5" cy="300.1" r="2.7" fill="#20b1d5"/><circle cx="620.2" cy="303.8" r="2.7" fill="#2e8cf2"/><circle cx="595.1" cy="410.3" r="2.7" fill="#26bba4"/><circle cx="604.1" cy="296.4" r="2.7" fill="#279bea"/><circle cx="599.1" cy="269.9" r="2.7" fill="#2ebf94"/><circle cx="578.4" cy="257.2" r="2.7" fill="#b4c83a"/><circle cx="597.8" cy="295.7" r="2.7" fill="#279ce9"/><circle cx="579" cy="340.1" r="2.7" fill="#387cf4"/><circle cx="635.6" cy="221.8" r="2.7" fill="#f8c525"/><circle cx="596" cy="343.1" r="2.7" fill="#4359f1"/><circle cx="595.6" cy="329.9" r="2.7" fill="#464ff1"/><circle cx="614.2" cy="345.6" r="2.7" fill="#425cf2"/><circle cx="635.2" cy="347.1" r="2.7" fill="#3b76f4"/><circle cx="609.2" cy="274.5" r="2.7" fill="#2dbf96"/><circle cx="603.3" cy="373.2" r="2.7" fill="#2a91f2"/><circle cx="579.4" cy="373.2" r="2.7" fill="#269ee8"/><circle cx="605.8" cy="335" r="2.7" fill="#4849f0"/><circle cx="611.3" cy="361" r="2.7" fill="#3a77f4"/><circle cx="604.1" cy="357.1" r="2.7" fill="#3f67f3"/><circle cx="623.3" cy="334.7" r="2.7" fill="#3b73f4"/><circle cx="609.8" cy="325.3" r="2.7" fill="#3187f3"/><circle cx="589.5" cy="362.7" r="2.7" fill="#2898ec"/><circle cx="585.4" cy="402.4" r="2.7" fill="#2fbf93"/><circle cx="597.3" cy="342.9" r="2.7" fill="#3b76f4"/><circle cx="586.5" cy="270.6" r="2.7" fill="#4fc571"/><circle cx="597.9" cy="237.7" r="2.7" fill="#d7c232"/><circle cx="577.9" cy="282.2" r="2.7" fill="#20b4c6"/><circle cx="567.2" cy="319.7" r="2.7" fill="#279ce9"/><circle cx="609.1" cy="275.9" r="2.7" fill="#2ebf94"/><circle cx="605.8" cy="274.6" r="2.7" fill="#20b4c2"/><circle cx="610.1" cy="290.1" r="2.7" fill="#2dbe96"/><circle cx="600" cy="231.5" r="2.7" fill="#f8b92b"/><circle cx="621.7" cy="340.9" r="2.7" fill="#4847ef"/><circle cx="586.2" cy="394.9" r="2.7" fill="#20b5c1"/><circle cx="618.5" cy="297.8" r="2.7" fill="#23a6e0"/><circle cx="604.4" cy="327.4" r="2.7" fill="#4846ed"/><circle cx="612.3" cy="306.8" r="2.7" fill="#3483f3"/><circle cx="593.9" cy="330.9" r="2.7" fill="#4552f1"/><circle cx="630.6" cy="279" r="2.7" fill="#20b7b6"/><circle cx="600.7" cy="294.6" r="2.7" fill="#279ce9"/><circle cx="599.6" cy="319.6" r="2.7" fill="#3d6ef3"/><circle cx="587.9" cy="364.2" r="2.7" fill="#22abdc"/><circle cx="589" cy="359.9" r="2.7" fill="#25a2e4"/><circle cx="623.5" cy="319.3" r="2.7" fill="#4064f2"/><circle cx="607.1" cy="267.2" r="2.7" fill="#2cbe99"/><circle cx="579.3" cy="285.4" r="2.7" fill="#28bca0"/><circle cx="617.8" cy="384.7" r="2.7" fill="#25a2e4"/><circle cx="612.6" cy="349.9" r="2.7" fill="#3d6ff3"/><circle cx="629.4" cy="341.5" r="2.7" fill="#4457f1"/><circle cx="618" cy="397.9" r="2.7" fill="#20b2ce"/><circle cx="616.6" cy="356.4" r="2.7" fill="#377cf4"/><circle cx="607.7" cy="294.7" r="2.7" fill="#20b1d2"/><circle cx="595.4" cy="341" r="2.7" fill="#464ff1"/><circle cx="611.3" cy="400" r="2.7" fill="#20b3cb"/><circle cx="606.6" cy="287.5" r="2.7" fill="#22abdc"/><circle cx="614.3" cy="299.2" r="2.7" fill="#2897ee"/><circle cx="636.6" cy="349.1" r="2.7" fill="#357ff3"/><circle cx="593.6" cy="327.8" r="2.7" fill="#367ff3"/><circle cx="597.9" cy="282.7" r="2.7" fill="#21b9ad"/><circle cx="597.4" cy="256.9" r="2.7" fill="#5bc765"/><circle cx="555.3" cy="362.7" r="2.7" fill="#21acdb"/><circle cx="580.3" cy="339.3" r="2.7" fill="#25a2e5"/><circle cx="576.3" cy="325.6" r="2.7" fill="#3481f3"/><circle cx="598.8" cy="355.6" r="2.7" fill="#377cf4"/><circle cx="590.5" cy="334.2" r="2.7" fill="#2f8bf3"/><circle cx="599.3" cy="286.1" r="2.7" fill="#20b6b9"/><circle cx="605.1" cy="250.6" r="2.7" fill="#94c848"/><circle cx="577.2" cy="329.2" r="2.7" fill="#3979f4"/><circle cx="633" cy="356.5" r="2.7" fill="#3a78f4"/><circle cx="615.5" cy="340.8" r="2.7" fill="#4845eb"/><circle cx="626.4" cy="381.2" r="2.7" fill="#25a2e4"/><circle cx="592.6" cy="290.9" r="2.7" fill="#20b0d6"/><circle cx="595.6" cy="249" r="2.7" fill="#acc83e"/><circle cx="612.3" cy="300.4" r="2.7" fill="#20b8b0"/><circle cx="596.4" cy="242.1" r="2.7" fill="#e5bd30"/><circle cx="582.1" cy="327.7" r="2.7" fill="#3c70f3"/><circle cx="587.6" cy="328.9" r="2.7" fill="#2d8cf2"/><circle cx="624.6" cy="332.5" r="2.7" fill="#4457f1"/><circle cx="645.8" cy="368.3" r="2.7" fill="#269fe6"/><circle cx="631.2" cy="356.7" r="2.7" fill="#2a93f1"/><circle cx="545.8" cy="355" r="2.7" fill="#21aeda"/><circle cx="623.5" cy="314.5" r="2.7" fill="#2c8ef2"/><circle cx="604.4" cy="337.8" r="2.7" fill="#4064f2"/><circle cx="576.9" cy="299.1" r="2.7" fill="#21aeda"/><circle cx="613" cy="385" r="2.7" fill="#22aadd"/><circle cx="626" cy="282.6" r="2.7" fill="#20b1d5"/><circle cx="560.3" cy="274.5" r="2.7" fill="#3cc284"/><circle cx="612.2" cy="307.5" r="2.7" fill="#279cea"/><circle cx="626" cy="306.8" r="2.7" fill="#2994f0"/><circle cx="611.7" cy="403.8" r="2.7" fill="#2dbf96"/><circle cx="579.3" cy="280.7" r="2.7" fill="#20b5c1"/><circle cx="577.9" cy="352.2" r="2.7" fill="#3481f3"/><circle cx="619.4" cy="336.5" r="2.7" fill="#2996ee"/><circle cx="559.4" cy="355.2" r="2.7" fill="#269ee8"/><circle cx="619" cy="295.4" r="2.7" fill="#20b4c2"/><circle cx="617.7" cy="376" r="2.7" fill="#2897ee"/><circle cx="604.9" cy="311.7" r="2.7" fill="#3a77f4"/><circle cx="589.6" cy="353.2" r="2.7" fill="#23a6e0"/><circle cx="606.2" cy="326.5" r="2.7" fill="#4063f2"/><circle cx="632.8" cy="401.9" r="2.7" fill="#20b5bf"/><circle cx="605.3" cy="342.4" r="2.7" fill="#3b76f4"/><circle cx="621.7" cy="310.8" r="2.7" fill="#3384f3"/><circle cx="603.9" cy="354.9" r="2.7" fill="#2c8ff2"/><circle cx="609.4" cy="308.7" r="2.7" fill="#2c8ff2"/><circle cx="581.9" cy="297.4" r="2.7" fill="#20b3cb"/><circle cx="610.6" cy="344.1" r="2.7" fill="#4846ed"/><circle cx="586.6" cy="264" r="2.7" fill="#3ec282"/><circle cx="619.5" cy="361.6" r="2.7" fill="#269fe7"/><circle cx="589.8" cy="379.1" r="2.7" fill="#22a9de"/><circle cx="594.6" cy="331.9" r="2.7" fill="#3d6df3"/><circle cx="545.5" cy="276.3" r="2.7" fill="#41c37f"/><circle cx="593.7" cy="331.3" r="2.7" fill="#377cf4"/><circle cx="604.1" cy="336.5" r="2.7" fill="#4843e9"/><circle cx="623" cy="298.9" r="2.7" fill="#25a1e5"/><circle cx="595" cy="353.8" r="2.7" fill="#3f68f3"/><circle cx="598.3" cy="276.4" r="2.7" fill="#22b9ad"/><circle cx="577.5" cy="302.8" r="2.7" fill="#269ee7"/><circle cx="591" cy="295.1" r="2.7" fill="#25a0e5"/><circle cx="613.2" cy="349.1" r="2.7" fill="#464ef1"/><circle cx="603.4" cy="283.5" r="2.7" fill="#20b0d8"/><circle cx="594.5" cy="341.7" r="2.7" fill="#4551f1"/><circle cx="565.2" cy="261.6" r="2.7" fill="#dcc131"/><circle cx="631.5" cy="426.3" r="2.7" fill="#b7c838"/><circle cx="570.9" cy="311.8" r="2.7" fill="#24a3e4"/><circle cx="574.9" cy="327.8" r="2.7" fill="#367ff3"/><circle cx="597.4" cy="365.7" r="2.7" fill="#3482f3"/><circle cx="568.7" cy="314.7" r="2.7" fill="#269ee7"/><circle cx="590.8" cy="315.1" r="2.7" fill="#3384f3"/><circle cx="605.3" cy="330.4" r="2.7" fill="#4457f1"/><circle cx="624.4" cy="349.8" r="2.7" fill="#425cf2"/><circle cx="630.2" cy="373.1" r="2.7" fill="#2996ee"/><circle cx="624.2" cy="344.9" r="2.7" fill="#425ef2"/><circle cx="582.8" cy="356" r="2.7" fill="#2f8af3"/><circle cx="579.4" cy="310" r="2.7" fill="#25a2e4"/><circle cx="601.1" cy="323.4" r="2.7" fill="#425cf2"/><circle cx="595.3" cy="268.7" r="2.7" fill="#3cc284"/><circle cx="581.3" cy="394" r="2.7" fill="#20b7b7"/><circle cx="593.1" cy="380" r="2.7" fill="#24a5e2"/><circle cx="629.3" cy="338.7" r="2.7" fill="#415ef2"/><circle cx="598" cy="271.6" r="2.7" fill="#2dbf95"/><circle cx="602" cy="356.7" r="2.7" fill="#3b75f4"/><circle cx="616.9" cy="251" r="2.7" fill="#e1bf30"/><circle cx="610.4" cy="394.3" r="2.7" fill="#21aed9"/><circle cx="587.2" cy="320.8" r="2.7" fill="#2994f0"/><circle cx="574.5" cy="320.1" r="2.7" fill="#24a3e3"/><circle cx="598.6" cy="265.4" r="2.7" fill="#27bba3"/><circle cx="572.7" cy="318.4" r="2.7" fill="#2d8ef2"/><circle cx="561.4" cy="373.1" r="2.7" fill="#20b4c4"/><circle cx="602" cy="278.7" r="2.7" fill="#20b6b8"/><circle cx="575.1" cy="247.9" r="2.7" fill="#e4bd30"/><circle cx="581.8" cy="376.4" r="2.7" fill="#20b0d7"/><circle cx="581.3" cy="297.8" r="2.7" fill="#22a9de"/><circle cx="587.1" cy="412.2" r="2.7" fill="#25bba5"/><circle cx="584.4" cy="277.5" r="2.7" fill="#35c18b"/><circle cx="599.1" cy="377.6" r="2.7" fill="#20b6b9"/><circle cx="629" cy="372.8" r="2.7" fill="#2996ee"/><circle cx="605.1" cy="282.5" r="2.7" fill="#20b1d4"/><circle cx="581.8" cy="363.9" r="2.7" fill="#2b90f2"/><circle cx="608.8" cy="299.1" r="2.7" fill="#279cea"/><circle cx="616.5" cy="363.7" r="2.7" fill="#279ce9"/><circle cx="582.2" cy="344.9" r="2.7" fill="#3286f3"/><circle cx="584.2" cy="345" r="2.7" fill="#3d6ff3"/><circle cx="601" cy="338" r="2.7" fill="#4847ee"/><circle cx="598.9" cy="338" r="2.7" fill="#435af2"/><circle cx="619.7" cy="392.1" r="2.7" fill="#20b4c4"/><circle cx="594.9" cy="356.1" r="2.7" fill="#2897ee"/><circle cx="561.1" cy="254.4" r="2.7" fill="#afc83c"/><circle cx="577.9" cy="286.9" r="2.7" fill="#20b4c2"/><circle cx="588.3" cy="351.2" r="2.7" fill="#3c70f3"/><circle cx="610.4" cy="358.5" r="2.7" fill="#3b75f4"/><circle cx="617.2" cy="337.6" r="2.7" fill="#4358f1"/><circle cx="593.6" cy="323.8" r="2.7" fill="#3b75f4"/><circle cx="634.2" cy="413.3" r="2.7" fill="#27bca2"/><circle cx="594.6" cy="314.7" r="2.7" fill="#3089f3"/><circle cx="599" cy="348.5" r="2.7" fill="#4062f2"/><circle cx="627.9" cy="341.7" r="2.7" fill="#4065f2"/><circle cx="589.9" cy="347.7" r="2.7" fill="#3b74f4"/><circle cx="566.9" cy="369.5" r="2.7" fill="#21acdb"/><circle cx="591.2" cy="339.5" r="2.7" fill="#4456f1"/><circle cx="579.7" cy="272.5" r="2.7" fill="#3dc283"/><circle cx="620.9" cy="288.7" r="2.7" fill="#21addb"/><circle cx="580.1" cy="382" r="2.7" fill="#23a7e0"/><circle cx="607.9" cy="330.1" r="2.7" fill="#4842e8"/><circle cx="633.1" cy="260.2" r="2.7" fill="#2fbf93"/><circle cx="623.9" cy="309" r="2.7" fill="#3384f3"/><circle cx="587.4" cy="350" r="2.7" fill="#3d6ef3"/><circle cx="583.2" cy="322.3" r="2.7" fill="#3a76f4"/><circle cx="595.6" cy="285.9" r="2.7" fill="#20b2cc"/><circle cx="579.5" cy="376.4" r="2.7" fill="#25a2e4"/><circle cx="618" cy="319.1" r="2.7" fill="#425ef2"/><circle cx="591.3" cy="300.1" r="2.7" fill="#269fe7"/><circle cx="604.5" cy="345.2" r="2.7" fill="#464ff1"/><circle cx="589.7" cy="337.6" r="2.7" fill="#425bf2"/><circle cx="597.2" cy="358.5" r="2.7" fill="#3284f3"/><circle cx="601.1" cy="251.8" r="2.7" fill="#80c852"/><circle cx="620" cy="388.9" r="2.7" fill="#20b0d6"/><circle cx="574" cy="386.1" r="2.7" fill="#20b1d1"/><circle cx="590.2" cy="245.6" r="2.7" fill="#d1c333"/><circle cx="588" cy="374.3" r="2.7" fill="#279aeb"/><circle cx="626.9" cy="371.2" r="2.7" fill="#2a92f2"/><circle cx="616.1" cy="347.3" r="2.7" fill="#3f66f3"/><circle cx="586" cy="325.2" r="2.7" fill="#367ef4"/><circle cx="573.4" cy="353.2" r="2.7" fill="#20b6b9"/><circle cx="591.3" cy="358.2" r="2.7" fill="#2d8ef2"/><circle cx="624" cy="394.3" r="2.7" fill="#20b5bd"/><circle cx="602.2" cy="431.3" r="2.7" fill="#8fc84b"/><circle cx="612.4" cy="389" r="2.7" fill="#20b0d8"/><circle cx="603.7" cy="275.9" r="2.7" fill="#20b4c3"/><circle cx="614.1" cy="262.8" r="2.7" fill="#2ebf94"/><circle cx="597.6" cy="334.8" r="2.7" fill="#4848f0"/><circle cx="608.4" cy="346.5" r="2.7" fill="#3c71f3"/><circle cx="590.1" cy="386.9" r="2.7" fill="#20b0d6"/><circle cx="610" cy="413" r="2.7" fill="#2bbd9b"/><circle cx="554" cy="252.1" r="2.7" fill="#abc83e"/><circle cx="625.2" cy="343.5" r="2.7" fill="#3f69f3"/><circle cx="585.2" cy="345.8" r="2.7" fill="#3d6ef3"/><circle cx="601.5" cy="337.7" r="2.7" fill="#474bf0"/><circle cx="604.1" cy="343.2" r="2.7" fill="#4845eb"/><circle cx="603.3" cy="350.1" r="2.7" fill="#3c70f3"/><circle cx="621.7" cy="332.9" r="2.7" fill="#464ff1"/><circle cx="573.4" cy="350.4" r="2.7" fill="#2995f0"/><circle cx="584.7" cy="330.1" r="2.7" fill="#387bf4"/><circle cx="576.9" cy="263.5" r="2.7" fill="#7bc854"/><circle cx="577.7" cy="337.7" r="2.7" fill="#3186f3"/><circle cx="609.2" cy="341.7" r="2.7" fill="#2899ec"/><circle cx="603.4" cy="365" r="2.7" fill="#22a9de"/><circle cx="594.6" cy="345.4" r="2.7" fill="#2994f0"/><circle cx="610.9" cy="339" r="2.7" fill="#4841e5"/><circle cx="628.4" cy="272.5" r="2.7" fill="#20b7b3"/><circle cx="603.8" cy="352.4" r="2.7" fill="#435af1"/><circle cx="640.6" cy="341.8" r="2.7" fill="#3b76f4"/><circle cx="582.1" cy="409.9" r="2.7" fill="#5ec862"/><circle cx="613.9" cy="332.3" r="2.7" fill="#415ff2"/><circle cx="561.1" cy="367.9" r="2.7" fill="#23a6e1"/><circle cx="571.2" cy="395.6" r="2.7" fill="#2abd9d"/><circle cx="600.7" cy="381.2" r="2.7" fill="#22a9de"/><circle cx="590.8" cy="362" r="2.7" fill="#3580f3"/><circle cx="591.9" cy="319.4" r="2.7" fill="#2897ee"/><circle cx="588.4" cy="312.7" r="2.7" fill="#3383f3"/><circle cx="608.6" cy="291.8" r="2.7" fill="#20b2ce"/><circle cx="630.8" cy="378.5" r="2.7" fill="#24a3e3"/><circle cx="578.5" cy="353.6" r="2.7" fill="#2994f0"/><circle cx="636.6" cy="252.9" r="2.7" fill="#90c84a"/><circle cx="600" cy="368.1" r="2.7" fill="#2e8bf3"/><circle cx="615.1" cy="259.6" r="2.7" fill="#57c669"/><circle cx="596.9" cy="274.9" r="2.7" fill="#20b6bb"/><circle cx="579.7" cy="397.6" r="2.7" fill="#20b6bb"/><circle cx="560.5" cy="310.5" r="2.7" fill="#21acdc"/><circle cx="592.6" cy="380.9" r="2.7" fill="#25a0e6"/><circle cx="588.4" cy="402.3" r="2.7" fill="#2dbe97"/><circle cx="620.7" cy="321.3" r="2.7" fill="#3b74f4"/><circle cx="621.7" cy="337.2" r="2.7" fill="#4848ef"/><circle cx="603.2" cy="267.7" r="2.7" fill="#82c851"/><circle cx="624.9" cy="357.6" r="2.7" fill="#3187f3"/><circle cx="615.1" cy="430.7" r="2.7" fill="#bdc737"/><circle cx="616.4" cy="343.9" r="2.7" fill="#4845ec"/><circle cx="603.6" cy="361.8" r="2.7" fill="#3b74f4"/><circle cx="625.1" cy="382.8" r="2.7" fill="#23a7e0"/><circle cx="606.8" cy="311.6" r="2.7" fill="#21acdb"/><circle cx="610.4" cy="397.3" r="2.7" fill="#20b6bc"/><circle cx="600.5" cy="286.3" r="2.7" fill="#20b1d5"/><circle cx="596.3" cy="337.3" r="2.7" fill="#3d6df3"/><circle cx="650" cy="352" r="2.7" fill="#2b90f2"/><circle cx="574.6" cy="321.4" r="2.7" fill="#279bea"/><circle cx="586.7" cy="319.3" r="2.7" fill="#2f8af3"/><circle cx="597.3" cy="309.5" r="2.7" fill="#2e8cf2"/><circle cx="578.8" cy="367.8" r="2.7" fill="#2898ed"/><circle cx="591.3" cy="380.5" r="2.7" fill="#269fe7"/><circle cx="583" cy="359.1" r="2.7" fill="#3088f3"/><circle cx="616.1" cy="362.2" r="2.7" fill="#2898ec"/><circle cx="629.5" cy="358.3" r="2.7" fill="#2f8af3"/><circle cx="602.7" cy="286.1" r="2.7" fill="#20b0d6"/><circle cx="629.3" cy="261.2" r="2.7" fill="#2bbd9b"/><circle cx="599" cy="343.1" r="2.7" fill="#3d6ef3"/><circle cx="593.6" cy="257" r="2.7" fill="#2fc091"/><circle cx="591.8" cy="365.6" r="2.7" fill="#2898ed"/><circle cx="588.9" cy="293.4" r="2.7" fill="#24a4e2"/><circle cx="630.6" cy="353.6" r="2.7" fill="#377cf4"/><circle cx="606.7" cy="398.5" r="2.7" fill="#25baa6"/><circle cx="604.4" cy="331.2" r="2.7" fill="#4844ea"/><circle cx="609.1" cy="350.8" r="2.7" fill="#4554f1"/><circle cx="572.7" cy="333.6" r="2.7" fill="#2b90f2"/><circle cx="620" cy="351.2" r="2.7" fill="#425cf2"/><circle cx="622.9" cy="351.7" r="2.7" fill="#4160f2"/><circle cx="552.8" cy="299.8" r="2.7" fill="#20b2cf"/><circle cx="594.6" cy="308.6" r="2.7" fill="#2c8ef2"/><circle cx="575.9" cy="298.6" r="2.7" fill="#20afd9"/><circle cx="617.8" cy="374.9" r="2.7" fill="#2995ef"/><circle cx="631.6" cy="299.4" r="2.7" fill="#20b5bf"/><circle cx="580.9" cy="349.6" r="2.7" fill="#3384f3"/><circle cx="581.1" cy="375.8" r="2.7" fill="#25a2e4"/><circle cx="589.4" cy="321.3" r="2.7" fill="#3979f4"/><circle cx="575.4" cy="329.4" r="2.7" fill="#2d8df2"/><circle cx="611.5" cy="372.2" r="2.7" fill="#279bea"/><circle cx="583.3" cy="362.7" r="2.7" fill="#25a2e4"/><circle cx="606.9" cy="340.7" r="2.7" fill="#4161f2"/><circle cx="579.9" cy="341.2" r="2.7" fill="#367ff3"/><circle cx="617.8" cy="325.8" r="2.7" fill="#474af0"/><circle cx="613.2" cy="372" r="2.7" fill="#2c8ff2"/><circle cx="596.7" cy="327.5" r="2.7" fill="#3186f3"/><circle cx="613.3" cy="350.3" r="2.7" fill="#4551f1"/><circle cx="631.8" cy="377.8" r="2.7" fill="#21adda"/><circle cx="619.7" cy="263.4" r="2.7" fill="#2abd9b"/><circle cx="586.4" cy="304.3" r="2.7" fill="#25a1e5"/><circle cx="602.7" cy="395.3" r="2.7" fill="#20b0d8"/><circle cx="620.2" cy="328.9" r="2.7" fill="#3c71f3"/><circle cx="617.2" cy="345.3" r="2.7" fill="#464ef1"/><circle cx="592.2" cy="283.8" r="2.7" fill="#20b8b2"/><circle cx="581" cy="337.1" r="2.7" fill="#2d8df2"/><circle cx="572.6" cy="317.8" r="2.7" fill="#2a92f2"/><circle cx="598.5" cy="327.9" r="2.7" fill="#3e6bf3"/><circle cx="607.6" cy="344" r="2.7" fill="#4846ed"/><circle cx="612.7" cy="275.6" r="2.7" fill="#20b3c7"/><circle cx="619.9" cy="339" r="2.7" fill="#4065f2"/><circle cx="602.6" cy="309.1" r="2.7" fill="#377df4"/><circle cx="591.5" cy="321.8" r="2.7" fill="#3c70f3"/><circle cx="577.9" cy="339.6" r="2.7" fill="#387bf4"/><circle cx="600.9" cy="342.4" r="2.7" fill="#3c70f3"/><circle cx="580.9" cy="366.9" r="2.7" fill="#2994f0"/><circle cx="598.8" cy="351.6" r="2.7" fill="#415ff2"/><circle cx="635.9" cy="285.8" r="2.7" fill="#20b4c6"/><circle cx="612.9" cy="304.5" r="2.7" fill="#20b3cb"/><circle cx="593.3" cy="341.7" r="2.7" fill="#4359f1"/><circle cx="607.7" cy="389.8" r="2.7" fill="#21addb"/><circle cx="609" cy="390.1" r="2.7" fill="#20b2ce"/><circle cx="613.4" cy="349.7" r="2.7" fill="#4454f1"/><circle cx="603.5" cy="332.2" r="2.7" fill="#4553f1"/><circle cx="568.9" cy="375.2" r="2.7" fill="#20b0d8"/><circle cx="596.8" cy="295.1" r="2.7" fill="#24a4e3"/><circle cx="630.7" cy="344.7" r="2.7" fill="#425df2"/><circle cx="554.6" cy="372.7" r="2.7" fill="#20b1d4"/><circle cx="610.7" cy="345" r="2.7" fill="#4848f0"/><circle cx="586.6" cy="358.2" r="2.7" fill="#2994f0"/><circle cx="618.9" cy="311.2" r="2.7" fill="#2a92f2"/><circle cx="600.2" cy="357.2" r="2.7" fill="#3e6af3"/><circle cx="577.5" cy="273.9" r="2.7" fill="#20b7b3"/><circle cx="601.6" cy="323.1" r="2.7" fill="#435bf2"/><circle cx="588.9" cy="346.9" r="2.7" fill="#387bf4"/><circle cx="586.1" cy="363.8" r="2.7" fill="#20b1d4"/><circle cx="613" cy="365.6" r="2.7" fill="#269de9"/><circle cx="617.3" cy="328" r="2.7" fill="#3e69f3"/><circle cx="597.8" cy="324" r="2.7" fill="#3979f4"/><circle cx="596.6" cy="328.7" r="2.7" fill="#464ff1"/><circle cx="577.9" cy="318.8" r="2.7" fill="#269de9"/><circle cx="592.5" cy="331.3" r="2.7" fill="#435af1"/><circle cx="572.1" cy="366" r="2.7" fill="#22a9de"/><circle cx="586.4" cy="338.9" r="2.7" fill="#4161f2"/><circle cx="571.4" cy="274" r="2.7" fill="#22b9ad"/><circle cx="584" cy="355.8" r="2.7" fill="#3186f3"/><circle cx="596.7" cy="265.7" r="2.7" fill="#2fc091"/><circle cx="588.5" cy="279.8" r="2.7" fill="#20b4c3"/><circle cx="600.5" cy="342.9" r="2.7" fill="#4553f1"/><circle cx="596.4" cy="340" r="2.7" fill="#425ef2"/><circle cx="590.2" cy="261.4" r="2.7" fill="#7cc853"/><circle cx="584.2" cy="393.8" r="2.7" fill="#20b7b6"/><circle cx="619.8" cy="364.4" r="2.7" fill="#2b91f2"/><circle cx="596.5" cy="343.7" r="2.7" fill="#4455f1"/><circle cx="602.2" cy="336.5" r="2.7" fill="#4844ea"/><circle cx="581.4" cy="355.2" r="2.7" fill="#3580f3"/><circle cx="618.9" cy="347.5" r="2.7" fill="#4552f1"/><circle cx="611.3" cy="345.1" r="2.7" fill="#4847ee"/><circle cx="610.9" cy="350.1" r="2.7" fill="#4554f1"/><circle cx="605.6" cy="326.1" r="2.7" fill="#474cf0"/><circle cx="592.1" cy="324" r="2.7" fill="#4161f2"/><circle cx="625.1" cy="353.6" r="2.7" fill="#3c72f3"/><circle cx="601.3" cy="371.2" r="2.7" fill="#2a93f1"/><circle cx="575.4" cy="340.3" r="2.7" fill="#2995f0"/><circle cx="618.9" cy="384" r="2.7" fill="#25a1e5"/><circle cx="593" cy="364.3" r="2.7" fill="#2a93f1"/><circle cx="615.8" cy="357.7" r="2.7" fill="#3f68f3"/><circle cx="616.2" cy="320.3" r="2.7" fill="#3d6ff3"/><circle cx="601.7" cy="337.8" r="2.7" fill="#3b75f4"/><circle cx="584.8" cy="337.7" r="2.7" fill="#3187f3"/><circle cx="593.4" cy="343.5" r="2.7" fill="#2996ee"/><circle cx="637.9" cy="408.7" r="2.7" fill="#25baa7"/><circle cx="572.4" cy="356.5" r="2.7" fill="#279bea"/><circle cx="605.7" cy="354.1" r="2.7" fill="#3d6ff3"/><circle cx="608.3" cy="284.4" r="2.7" fill="#26bba5"/><circle cx="573.8" cy="312.8" r="2.7" fill="#2994f1"/><circle cx="618.6" cy="360.1" r="2.7" fill="#3a77f4"/><circle cx="576.8" cy="353.9" r="2.7" fill="#2e8cf2"/><circle cx="579.8" cy="301.2" r="2.7" fill="#279ce9"/><circle cx="555.9" cy="271.2" r="2.7" fill="#2bbe9a"/><circle cx="595.5" cy="360.8" r="2.7" fill="#3979f4"/><circle cx="591.6" cy="309" r="2.7" fill="#2c8ff2"/><circle cx="609.1" cy="412.1" r="2.7" fill="#23baa9"/><circle cx="604.9" cy="364" r="2.7" fill="#3384f3"/><circle cx="611.2" cy="351.8" r="2.7" fill="#3d6ff3"/><circle cx="579.8" cy="279.8" r="2.7" fill="#2bbd9a"/><circle cx="570" cy="361.8" r="2.7" fill="#2898ec"/><circle cx="578.3" cy="373.1" r="2.7" fill="#25a0e6"/><circle cx="579.3" cy="375.2" r="2.7" fill="#23a8df"/><circle cx="603.3" cy="329.2" r="2.7" fill="#2995ef"/><circle cx="634.6" cy="380.3" r="2.7" fill="#25a2e5"/><circle cx="557.4" cy="354.4" r="2.7" fill="#22aadd"/><circle cx="597.5" cy="423.7" r="2.7" fill="#46c47a"/><circle cx="632.8" cy="403.1" r="2.7" fill="#2fc092"/><circle cx="597.7" cy="293.8" r="2.7" fill="#24a5e2"/><circle cx="586.8" cy="351.4" r="2.7" fill="#3a77f4"/><circle cx="581" cy="333.1" r="2.7" fill="#3b73f4"/><circle cx="559" cy="353.5" r="2.7" fill="#24a4e3"/><circle cx="602" cy="312.5" r="2.7" fill="#2f8af3"/><circle cx="597.8" cy="367.8" r="2.7" fill="#24a5e2"/><circle cx="631.9" cy="360.9" r="2.7" fill="#2995f0"/><circle cx="635.8" cy="328.4" r="2.7" fill="#3c70f3"/><circle cx="596.9" cy="382.6" r="2.7" fill="#20b4c2"/><circle cx="628.1" cy="286" r="2.7" fill="#22abdc"/><circle cx="627.9" cy="373.1" r="2.7" fill="#2897ee"/><circle cx="601.8" cy="285.7" r="2.7" fill="#20b2d0"/><circle cx="565.9" cy="260.2" r="2.7" fill="#44c37c"/><circle cx="607.5" cy="282.1" r="2.7" fill="#20b4c5"/><circle cx="593.8" cy="398.8" r="2.7" fill="#20b4c6"/><circle cx="618.9" cy="361.8" r="2.7" fill="#3187f3"/><circle cx="594.4" cy="332.3" r="2.7" fill="#4456f1"/><circle cx="610.7" cy="388.4" r="2.7" fill="#21addb"/><circle cx="576.8" cy="295.2" r="2.7" fill="#25bba6"/><circle cx="583.7" cy="326" r="2.7" fill="#397af4"/><circle cx="599" cy="317.8" r="2.7" fill="#22abdc"/><circle cx="596.3" cy="297.5" r="2.7" fill="#21addb"/><circle cx="568.7" cy="332.3" r="2.7" fill="#2d8df2"/><circle cx="623.9" cy="366" r="2.7" fill="#2a92f2"/><circle cx="610.8" cy="320.5" r="2.7" fill="#425ef2"/><circle cx="608.2" cy="322.1" r="2.7" fill="#3f68f3"/><circle cx="610.6" cy="361.5" r="2.7" fill="#2897ee"/><circle cx="615.6" cy="351.4" r="2.7" fill="#4064f2"/><circle cx="561.2" cy="317.6" r="2.7" fill="#25a1e5"/><circle cx="593.2" cy="365.5" r="2.7" fill="#3285f3"/><circle cx="598.1" cy="339.8" r="2.7" fill="#4359f1"/><circle cx="625.6" cy="335.6" r="2.7" fill="#2e8cf2"/><circle cx="639.8" cy="354.3" r="2.7" fill="#367ef4"/><circle cx="611.4" cy="345.1" r="2.7" fill="#3c70f3"/><circle cx="598" cy="344.5" r="2.7" fill="#4553f1"/><circle cx="587.2" cy="282.5" r="2.7" fill="#20b1d3"/><circle cx="588.9" cy="382.6" r="2.7" fill="#24a3e3"/><circle cx="659.8" cy="371.8" r="2.7" fill="#22a9de"/><circle cx="602.4" cy="306.3" r="2.7" fill="#2a93f1"/><circle cx="615.7" cy="380.5" r="2.7" fill="#21adda"/><circle cx="589.4" cy="329.8" r="2.7" fill="#3088f3"/><circle cx="588.5" cy="374.3" r="2.7" fill="#269ee7"/><circle cx="625" cy="402.7" r="2.7" fill="#20b8b0"/><circle cx="611.5" cy="326.7" r="2.7" fill="#2a92f2"/><circle cx="582.8" cy="298.2" r="2.7" fill="#20b2cd"/><circle cx="586.5" cy="359.6" r="2.7" fill="#2f8bf3"/><circle cx="580.4" cy="274.4" r="2.7" fill="#23b9ab"/><circle cx="624.1" cy="312.8" r="2.7" fill="#377cf4"/><circle cx="605.4" cy="400.4" r="2.7" fill="#20b3c8"/><circle cx="616.5" cy="289.3" r="2.7" fill="#21aeda"/><circle cx="596.6" cy="351.4" r="2.7" fill="#4062f2"/><circle cx="588.4" cy="379.6" r="2.7" fill="#25a1e5"/><circle cx="621.7" cy="400.8" r="2.7" fill="#20b3c9"/><circle cx="609.2" cy="331.7" r="2.7" fill="#474af0"/><circle cx="586.4" cy="373.1" r="2.7" fill="#269fe7"/><circle cx="631.3" cy="408.6" r="2.7" fill="#26bba4"/><circle cx="619.4" cy="270.3" r="2.7" fill="#2ebf95"/><circle cx="604.8" cy="332.6" r="2.7" fill="#2a91f2"/><circle cx="588" cy="376.1" r="2.7" fill="#279bea"/><circle cx="606.1" cy="320.3" r="2.7" fill="#4358f1"/><circle cx="610.1" cy="319.5" r="2.7" fill="#4359f1"/><circle cx="585.8" cy="299.7" r="2.7" fill="#20b6b8"/><circle cx="619.2" cy="390" r="2.7" fill="#20b3c9"/><circle cx="641.4" cy="374.7" r="2.7" fill="#269ee8"/><circle cx="619.1" cy="341.8" r="2.7" fill="#4160f2"/><circle cx="599.6" cy="296.4" r="2.7" fill="#22abdc"/><circle cx="596.3" cy="317.5" r="2.7" fill="#3e6af3"/><circle cx="616.1" cy="377.8" r="2.7" fill="#20b0d8"/><circle cx="576.6" cy="337.5" r="2.7" fill="#387af4"/><circle cx="589.3" cy="361.2" r="2.7" fill="#269ee7"/><circle cx="614.3" cy="278.9" r="2.7" fill="#26bba4"/><circle cx="627.2" cy="376.3" r="2.7" fill="#279aeb"/><circle cx="600.8" cy="299.2" r="2.7" fill="#2899ec"/><circle cx="579.1" cy="347.1" r="2.7" fill="#397af4"/><circle cx="627.4" cy="366.9" r="2.7" fill="#25a2e4"/><circle cx="612.3" cy="289" r="2.7" fill="#20b1d3"/><circle cx="628.9" cy="332.9" r="2.7" fill="#4063f2"/><circle cx="595.7" cy="350" r="2.7" fill="#3b75f4"/><circle cx="628.6" cy="308" r="2.7" fill="#2a92f2"/><circle cx="608.4" cy="332.6" r="2.7" fill="#4358f1"/><circle cx="589.4" cy="288.1" r="2.7" fill="#28bca1"/><circle cx="619" cy="297.8" r="2.7" fill="#2898ed"/><circle cx="579.4" cy="320.3" r="2.7" fill="#3580f3"/><circle cx="591.2" cy="300.1" r="2.7" fill="#23a7e0"/><circle cx="605.9" cy="305.4" r="2.7" fill="#25a0e6"/><circle cx="605" cy="306.2" r="2.7" fill="#3285f3"/><circle cx="618.6" cy="316.6" r="2.7" fill="#387bf4"/><circle cx="634.6" cy="346.5" r="2.7" fill="#3a78f4"/><circle cx="606.4" cy="285.6" r="2.7" fill="#20b1d2"/><circle cx="607" cy="354.9" r="2.7" fill="#3f66f2"/><circle cx="611" cy="353.4" r="2.7" fill="#435bf2"/><circle cx="578.2" cy="325.7" r="2.7" fill="#3088f3"/><circle cx="600.9" cy="384" r="2.7" fill="#25a2e4"/><circle cx="571.3" cy="364.3" r="2.7" fill="#279aeb"/><circle cx="597.5" cy="394.5" r="2.7" fill="#20b2cf"/><circle cx="597" cy="322.6" r="2.7" fill="#3f67f3"/><circle cx="608" cy="378.7" r="2.7" fill="#269ee8"/><circle cx="627.2" cy="311" r="2.7" fill="#2996ef"/><circle cx="610.4" cy="369.2" r="2.7" fill="#3187f3"/><circle cx="600.3" cy="339.6" r="2.7" fill="#4845ec"/><circle cx="586" cy="374.2" r="2.7" fill="#279bea"/><circle cx="599.8" cy="402.6" r="2.7" fill="#20b6ba"/><circle cx="598.5" cy="350.6" r="2.7" fill="#377cf4"/><circle cx="630.8" cy="301.7" r="2.7" fill="#22a9de"/><circle cx="611.5" cy="384.4" r="2.7" fill="#20b6bb"/><circle cx="608.2" cy="336.9" r="2.7" fill="#4162f2"/><circle cx="561.2" cy="349.7" r="2.7" fill="#279ce9"/><circle cx="580.4" cy="320.7" r="2.7" fill="#377df4"/><circle cx="601.8" cy="334.7" r="2.7" fill="#474cf0"/><circle cx="592.5" cy="309.6" r="2.7" fill="#3384f3"/><circle cx="614.6" cy="288.7" r="2.7" fill="#21aeda"/><circle cx="582.8" cy="312.3" r="2.7" fill="#2897ee"/><circle cx="599.7" cy="395.7" r="2.7" fill="#20b4c6"/><circle cx="601.2" cy="406.1" r="2.7" fill="#20b7b3"/><circle cx="622.8" cy="318.9" r="2.7" fill="#24a3e4"/><circle cx="601.3" cy="299.9" r="2.7" fill="#2899ec"/><circle cx="590.5" cy="319.5" r="2.7" fill="#3b74f4"/><circle cx="587" cy="332.7" r="2.7" fill="#3b74f4"/><circle cx="599.4" cy="285.1" r="2.7" fill="#20b2ce"/><circle cx="609.4" cy="380.2" r="2.7" fill="#269ee8"/><circle cx="597.9" cy="372.4" r="2.7" fill="#2994f1"/><circle cx="568.8" cy="324" r="2.7" fill="#279aeb"/><circle cx="566.4" cy="388.1" r="2.7" fill="#21b9ad"/><circle cx="589.2" cy="397.8" r="2.7" fill="#21b8ae"/><circle cx="598.1" cy="367.5" r="2.7" fill="#3187f3"/><circle cx="633.7" cy="333.4" r="2.7" fill="#425ef2"/><circle cx="585.6" cy="368" r="2.7" fill="#2a93f1"/><circle cx="610.2" cy="293.4" r="2.7" fill="#269de8"/><circle cx="572" cy="356.2" r="2.7" fill="#25a2e4"/><circle cx="595.5" cy="321" r="2.7" fill="#4161f2"/><circle cx="624.1" cy="317.9" r="2.7" fill="#3c72f4"/><circle cx="570.2" cy="328.3" r="2.7" fill="#2d8df2"/><circle cx="600.3" cy="378" r="2.7" fill="#20b2ce"/><circle cx="637" cy="349.5" r="2.7" fill="#3c72f4"/><circle cx="598.6" cy="309.1" r="2.7" fill="#2898ed"/><circle cx="626.5" cy="393.4" r="2.7" fill="#20b8b2"/><circle cx="565.9" cy="295.3" r="2.7" fill="#20b4c6"/><circle cx="572.1" cy="332.2" r="2.7" fill="#2f8af3"/><circle cx="585.9" cy="320.8" r="2.7" fill="#3384f3"/><circle cx="613.5" cy="361.6" r="2.7" fill="#3c72f4"/><circle cx="610" cy="299.8" r="2.7" fill="#2898ec"/><circle cx="589.6" cy="367.9" r="2.7" fill="#2c8ff2"/><circle cx="624.6" cy="298.8" r="2.7" fill="#269ee8"/><circle cx="598.2" cy="316" r="2.7" fill="#3b74f4"/><circle cx="627.1" cy="311.1" r="2.7" fill="#269de8"/><circle cx="587.5" cy="372.8" r="2.7" fill="#2897ed"/><circle cx="561.7" cy="349.7" r="2.7" fill="#2899ec"/><circle cx="587.8" cy="342.4" r="2.7" fill="#3c72f4"/><circle cx="597.1" cy="363.2" r="2.7" fill="#279bea"/><circle cx="568.9" cy="278.2" r="2.7" fill="#21b8af"/><circle cx="606.9" cy="376.8" r="2.7" fill="#20afd9"/><circle cx="622.2" cy="309.2" r="2.7" fill="#367ef4"/><circle cx="613.3" cy="324.9" r="2.7" fill="#425cf2"/><circle cx="615.5" cy="393.1" r="2.7" fill="#20b1d5"/><circle cx="574.8" cy="332.5" r="2.7" fill="#3581f3"/><circle cx="622.7" cy="363.7" r="2.7" fill="#367ff3"/><circle cx="619.8" cy="306" r="2.7" fill="#3186f3"/><circle cx="582.7" cy="308.7" r="2.7" fill="#2898ed"/><circle cx="613.7" cy="309.7" r="2.7" fill="#20b0d8"/><circle cx="596" cy="378.4" r="2.7" fill="#22a9de"/><circle cx="627.1" cy="364.2" r="2.7" fill="#25a1e5"/><circle cx="578.1" cy="344" r="2.7" fill="#25a0e6"/><circle cx="616.1" cy="347.5" r="2.7" fill="#4454f1"/><circle cx="575.5" cy="330.3" r="2.7" fill="#2e8bf3"/><circle cx="587.5" cy="290" r="2.7" fill="#22abdc"/><circle cx="605.2" cy="322.2" r="2.7" fill="#3e6af3"/><circle cx="599.2" cy="300.4" r="2.7" fill="#25a0e6"/><circle cx="598.3" cy="294.7" r="2.7" fill="#25a1e5"/><circle cx="626.2" cy="296.1" r="2.7" fill="#25a0e6"/><circle cx="583" cy="279.8" r="2.7" fill="#20b4c6"/><circle cx="605.1" cy="356" r="2.7" fill="#4063f2"/><circle cx="603.4" cy="342.5" r="2.7" fill="#4848f0"/><circle cx="592.8" cy="357.6" r="2.7" fill="#3b74f4"/><circle cx="649.3" cy="350" r="2.7" fill="#2994f0"/><circle cx="604.7" cy="297.1" r="2.7" fill="#2898ed"/><circle cx="586.8" cy="355.6" r="2.7" fill="#2a91f2"/><circle cx="614.7" cy="366.9" r="2.7" fill="#20b4c4"/><circle cx="622.9" cy="324.6" r="2.7" fill="#4456f1"/><circle cx="578.5" cy="287.6" r="2.7" fill="#20b0d6"/><circle cx="625.2" cy="345.1" r="2.7" fill="#4359f1"/><circle cx="595" cy="348" r="2.7" fill="#425cf2"/><circle cx="605.7" cy="339.5" r="2.7" fill="#4841e6"/><circle cx="606.1" cy="335.1" r="2.7" fill="#435af1"/><circle cx="568.8" cy="301" r="2.7" fill="#20b0d7"/><circle cx="598.4" cy="288" r="2.7" fill="#20b2d0"/><circle cx="550.9" cy="310.1" r="2.7" fill="#21acdc"/><circle cx="612" cy="307.6" r="2.7" fill="#23a8df"/><circle cx="584.1" cy="283.2" r="2.7" fill="#20b1d3"/><circle cx="600.2" cy="344.6" r="2.7" fill="#415ef2"/><circle cx="575" cy="283.4" r="2.7" fill="#20b4c2"/><circle cx="588.1" cy="360.3" r="2.7" fill="#3482f3"/><circle cx="613.9" cy="302.2" r="2.7" fill="#2899ec"/><circle cx="580.9" cy="365.7" r="2.7" fill="#279aeb"/><circle cx="632.2" cy="376.2" r="2.7" fill="#279aeb"/><circle cx="593.5" cy="363.1" r="2.7" fill="#2f8bf3"/><circle cx="610" cy="371.6" r="2.7" fill="#2994f0"/><circle cx="615.6" cy="373.8" r="2.7" fill="#2897ee"/><circle cx="591.3" cy="379.8" r="2.7" fill="#22aadd"/><circle cx="609" cy="318.8" r="2.7" fill="#3e6af3"/><circle cx="571.9" cy="321.4" r="2.7" fill="#2c8ef2"/><circle cx="598.1" cy="282.1" r="2.7" fill="#20b4c4"/><circle cx="592.6" cy="342.7" r="2.7" fill="#2a93f1"/><circle cx="624.8" cy="285.8" r="2.7" fill="#20b3ca"/><circle cx="604.1" cy="300.6" r="2.7" fill="#269ee8"/><circle cx="598.4" cy="339.5" r="2.7" fill="#4063f2"/><circle cx="618.9" cy="306.2" r="2.7" fill="#279ce9"/><circle cx="612" cy="355.8" r="2.7" fill="#3d6ff3"/><circle cx="604.8" cy="388.6" r="2.7" fill="#20b1d1"/><circle cx="588.5" cy="302.6" r="2.7" fill="#2996ef"/><circle cx="618.8" cy="369.9" r="2.7" fill="#2b90f2"/><circle cx="614" cy="374.5" r="2.7" fill="#279aeb"/><circle cx="593.6" cy="330.1" r="2.7" fill="#2f8af3"/><circle cx="589.1" cy="324.9" r="2.7" fill="#3d6ef3"/><circle cx="601" cy="352.4" r="2.7" fill="#425df2"/><circle cx="619.3" cy="357.2" r="2.7" fill="#397af4"/><circle cx="601.3" cy="314.5" r="2.7" fill="#387cf4"/><circle cx="609.7" cy="311" r="2.7" fill="#377df4"/><circle cx="560.6" cy="329.1" r="2.7" fill="#2898ed"/><circle cx="617.5" cy="343" r="2.7" fill="#3f68f3"/><circle cx="600.6" cy="324.5" r="2.7" fill="#4551f1"/><circle cx="632.1" cy="304.1" r="2.7" fill="#279aeb"/><circle cx="627.4" cy="340.3" r="2.7" fill="#3f66f3"/><circle cx="585.5" cy="329.5" r="2.7" fill="#3f66f2"/><circle cx="596.3" cy="351.6" r="2.7" fill="#3e6bf3"/><circle cx="613.9" cy="332.2" r="2.7" fill="#483fe2"/><circle cx="596.9" cy="341.9" r="2.7" fill="#4551f1"/><circle cx="609.9" cy="298.3" r="2.7" fill="#23a7e0"/><circle cx="614.4" cy="335.9" r="2.7" fill="#2898ec"/><circle cx="608.5" cy="375.5" r="2.7" fill="#25a1e5"/><circle cx="589" cy="343.7" r="2.7" fill="#4064f2"/><circle cx="588.5" cy="312.9" r="2.7" fill="#357ff3"/><circle cx="612.2" cy="316.2" r="2.7" fill="#4064f2"/><circle cx="592.7" cy="335" r="2.7" fill="#397af4"/><circle cx="580.4" cy="324.4" r="2.7" fill="#2a92f2"/><circle cx="613.7" cy="344.6" r="2.7" fill="#4359f1"/><circle cx="633.1" cy="364.4" r="2.7" fill="#2a93f1"/><circle cx="598.7" cy="383.1" r="2.7" fill="#25a0e6"/><circle cx="601.8" cy="350" r="2.7" fill="#4357f1"/><circle cx="585.7" cy="339.5" r="2.7" fill="#3a77f4"/><circle cx="640.1" cy="326.6" r="2.7" fill="#2994f0"/><circle cx="594.5" cy="316.8" r="2.7" fill="#3c71f3"/><circle cx="596.1" cy="303.2" r="2.7" fill="#22a9de"/><circle cx="624.5" cy="364.5" r="2.7" fill="#2c8ef2"/><circle cx="576.6" cy="309" r="2.7" fill="#2899ec"/><circle cx="584.5" cy="292" r="2.7" fill="#22abdc"/><circle cx="620.8" cy="312.6" r="2.7" fill="#3b74f4"/><circle cx="629.3" cy="341.2" r="2.7" fill="#3d6df3"/><circle cx="614.8" cy="340.4" r="2.7" fill="#4840e4"/><circle cx="616.3" cy="339.3" r="2.7" fill="#4849f0"/><circle cx="599.7" cy="310.8" r="2.7" fill="#387bf4"/><circle cx="636.1" cy="346.4" r="2.7" fill="#3384f3"/><circle cx="559.9" cy="366.5" r="2.7" fill="#20b1d5"/><circle cx="622" cy="329.4" r="2.7" fill="#474af0"/><circle cx="601.1" cy="339.4" r="2.7" fill="#4845ec"/><circle cx="616.3" cy="335.8" r="2.7" fill="#4064f2"/><circle cx="604.8" cy="356.6" r="2.7" fill="#387bf4"/><circle cx="619.6" cy="327.2" r="2.7" fill="#357ff3"/><circle cx="615.1" cy="306" r="2.7" fill="#3088f3"/><circle cx="572.9" cy="380.8" r="2.7" fill="#21addb"/><circle cx="581.3" cy="298.1" r="2.7" fill="#23a7e0"/><circle cx="585.2" cy="361.2" r="2.7" fill="#3186f3"/><circle cx="589.7" cy="331.4" r="2.7" fill="#4064f2"/><circle cx="593.7" cy="319.7" r="2.7" fill="#377ef4"/><circle cx="600" cy="371.2" r="2.7" fill="#2d8ef2"/><circle cx="571.5" cy="339.2" r="2.7" fill="#2b91f2"/><circle cx="589.7" cy="374.3" r="2.7" fill="#2898ed"/><circle cx="606.8" cy="328.9" r="2.7" fill="#4551f1"/><circle cx="591" cy="314.2" r="2.7" fill="#357ff3"/><circle cx="584.6" cy="347.7" r="2.7" fill="#3d6ff3"/><circle cx="599.8" cy="354.1" r="2.7" fill="#4063f2"/><circle cx="599.6" cy="326.7" r="2.7" fill="#3d6df3"/><circle cx="606.8" cy="381.7" r="2.7" fill="#25a1e5"/><circle cx="576.6" cy="321.7" r="2.7" fill="#3383f3"/><circle cx="583" cy="304.8" r="2.7" fill="#279bea"/><circle cx="608.1" cy="337.7" r="2.7" fill="#4552f1"/><circle cx="595.8" cy="351.3" r="2.7" fill="#3b75f4"/><circle cx="617.8" cy="348.4" r="2.7" fill="#4455f1"/><circle cx="631" cy="292.3" r="2.7" fill="#24a3e3"/><circle cx="603.3" cy="387" r="2.7" fill="#24a5e2"/><circle cx="617.7" cy="354.2" r="2.7" fill="#269ee8"/><circle cx="595.8" cy="377" r="2.7" fill="#279bea"/><circle cx="587.4" cy="301.8" r="2.7" fill="#269fe6"/><circle cx="590.6" cy="301.6" r="2.7" fill="#269fe7"/><circle cx="607.6" cy="327.9" r="2.7" fill="#4845ec"/><circle cx="614.2" cy="347.2" r="2.7" fill="#484af0"/><circle cx="627.5" cy="351.1" r="2.7" fill="#3b75f4"/><circle cx="620" cy="357.1" r="2.7" fill="#24a5e1"/><circle cx="568.5" cy="347.8" r="2.7" fill="#2897ee"/><circle cx="592.4" cy="310" r="2.7" fill="#2897ee"/><circle cx="597.4" cy="313.2" r="2.7" fill="#3088f3"/><circle cx="599.9" cy="303.5" r="2.7" fill="#2c8ef2"/><circle cx="616.7" cy="356.1" r="2.7" fill="#3f65f2"/><circle cx="583.5" cy="305.8" r="2.7" fill="#269fe6"/><circle cx="614.6" cy="367.5" r="2.7" fill="#2a93f1"/><circle cx="581.1" cy="336.1" r="2.7" fill="#3a77f4"/><circle cx="579.2" cy="312.3" r="2.7" fill="#2b91f2"/><circle cx="602.4" cy="362" r="2.7" fill="#3a76f4"/><circle cx="568.8" cy="359.7" r="2.7" fill="#24a5e1"/><circle cx="607.1" cy="364.5" r="2.7" fill="#2e8cf2"/><circle cx="598.1" cy="332.2" r="2.7" fill="#4358f1"/><circle cx="597.8" cy="370.9" r="2.7" fill="#2a93f1"/><circle cx="605.5" cy="315.8" r="2.7" fill="#367ef4"/><circle cx="607.9" cy="344.8" r="2.7" fill="#2e8bf3"/><circle cx="601.8" cy="357.8" r="2.7" fill="#2f8af3"/><circle cx="593.4" cy="351.7" r="2.7" fill="#3b73f4"/><circle cx="589" cy="334.9" r="2.7" fill="#425ef2"/><circle cx="586" cy="315.1" r="2.7" fill="#2a92f2"/><circle cx="627.1" cy="354.4" r="2.7" fill="#3a76f4"/><circle cx="618.8" cy="297.6" r="2.7" fill="#25a2e4"/><circle cx="578.2" cy="362.2" r="2.7" fill="#2897ee"/><circle cx="609" cy="361.3" r="2.7" fill="#3088f3"/><circle cx="618.4" cy="330.7" r="2.7" fill="#3285f3"/><circle cx="590.2" cy="352.6" r="2.7" fill="#269ee8"/><circle cx="611.3" cy="340.1" r="2.7" fill="#483fe2"/><circle cx="580.1" cy="363.5" r="2.7" fill="#269de9"/><circle cx="579.1" cy="318.9" r="2.7" fill="#2995ef"/><circle cx="622.1" cy="382.6" r="2.7" fill="#25a0e6"/><circle cx="613.3" cy="372.1" r="2.7" fill="#2d8ef2"/><circle cx="600.1" cy="367.9" r="2.7" fill="#3285f3"/><circle cx="574.8" cy="367" r="2.7" fill="#279aeb"/><circle cx="575.8" cy="319.7" r="2.7" fill="#2a93f2"/><circle cx="590.4" cy="355.4" r="2.7" fill="#2a93f1"/><circle cx="618.5" cy="321.4" r="2.7" fill="#4358f1"/><circle cx="623.4" cy="333.5" r="2.7" fill="#3f69f3"/><circle cx="617" cy="333.9" r="2.7" fill="#3d6cf3"/><circle cx="585.3" cy="309.1" r="2.7" fill="#2e8cf2"/><circle cx="629.1" cy="368.2" r="2.7" fill="#2a93f1"/><circle cx="603.1" cy="363.3" r="2.7" fill="#3979f4"/><circle cx="609.1" cy="337.2" r="2.7" fill="#4846ed"/><circle cx="595.6" cy="352.8" r="2.7" fill="#3c72f4"/><circle cx="571.8" cy="332.8" r="2.7" fill="#3187f3"/><circle cx="606.1" cy="349.4" r="2.7" fill="#3a78f4"/><circle cx="615.3" cy="362.4" r="2.7" fill="#2d8ef2"/><circle cx="588.2" cy="348.7" r="2.7" fill="#3d6cf3"/><circle cx="589.8" cy="361.1" r="2.7" fill="#367ff3"/><circle cx="584.7" cy="354.1" r="2.7" fill="#3a78f4"/><circle cx="598.4" cy="310.4" r="2.7" fill="#357ff3"/><circle cx="589.8" cy="346.1" r="2.7" fill="#3284f3"/><circle cx="598.3" cy="362.3" r="2.7" fill="#3384f3"/><circle cx="591" cy="353.4" r="2.7" fill="#3b75f4"/><circle cx="609.1" cy="321" r="2.7" fill="#3481f3"/><circle cx="581.2" cy="339.6" r="2.7" fill="#3d6ff3"/><circle cx="614.8" cy="358.5" r="2.7" fill="#2897ed"/><circle cx="597.6" cy="343.8" r="2.7" fill="#464ef1"/><circle cx="604.2" cy="310" r="2.7" fill="#3186f3"/><circle cx="577.8" cy="353.4" r="2.7" fill="#3285f3"/><circle cx="589.5" cy="348.7" r="2.7" fill="#3f66f3"/><circle cx="602.1" cy="304.4" r="2.7" fill="#2a92f2"/><circle cx="571.3" cy="333.8" r="2.7" fill="#3186f3"/><circle cx="594.1" cy="306.7" r="2.7" fill="#2d8cf2"/><circle cx="619.4" cy="366.6" r="2.7" fill="#3285f3"/><circle cx="574.8" cy="358.8" r="2.7" fill="#2a93f1"/><circle cx="616.9" cy="311.5" r="2.7" fill="#2994f0"/><circle cx="584.8" cy="322.2" r="2.7" fill="#3a78f4"/><circle cx="591.7" cy="333" r="2.7" fill="#4455f1"/><circle cx="602.9" cy="336.5" r="2.7" fill="#4551f1"/><circle cx="569.2" cy="332.8" r="2.7" fill="#2e8bf3"/><circle cx="608.4" cy="344.5" r="2.7" fill="#4847ef"/><circle cx="590.4" cy="311.8" r="2.7" fill="#3580f3"/><circle cx="601.3" cy="361.1" r="2.7" fill="#377df4"/><circle cx="618" cy="321.2" r="2.7" fill="#397af4"/><circle cx="606.5" cy="358.6" r="2.7" fill="#3e6cf3"/><circle cx="599.2" cy="366.1" r="2.7" fill="#2f8af3"/><circle cx="588.6" cy="366.2" r="2.7" fill="#2a91f2"/><circle cx="599.4" cy="347.5" r="2.7" fill="#4553f1"/><circle cx="589.7" cy="359.7" r="2.7" fill="#377cf4"/><circle cx="581.9" cy="314.7" r="2.7" fill="#3187f3"/><circle cx="618.7" cy="362.7" r="2.7" fill="#3580f3"/><circle cx="586" cy="336" r="2.7" fill="#3d6ef3"/><circle cx="638" cy="342.2" r="2.7" fill="#3d6cf3"/><circle cx="586.6" cy="313.2" r="2.7" fill="#3581f3"/><circle cx="621.1" cy="331.7" r="2.7" fill="#3187f3"/><circle cx="609.1" cy="326.5" r="2.7" fill="#4846ee"/><circle cx="585.6" cy="338.9" r="2.7" fill="#3c71f3"/><circle cx="618" cy="334.1" r="2.7" fill="#4842e6"/><circle cx="597.4" cy="326.3" r="2.7" fill="#3e6af3"/><circle cx="601.6" cy="315" r="2.7" fill="#3e6bf3"/><circle cx="611" cy="343.9" r="2.7" fill="#4845eb"/><circle cx="597.3" cy="330.7" r="2.7" fill="#3a76f4"/><circle cx="610.9" cy="366.4" r="2.7" fill="#3482f3"/><circle cx="602.3" cy="317.5" r="2.7" fill="#4063f2"/><circle cx="613.9" cy="353.1" r="2.7" fill="#3482f3"/><circle cx="614.4" cy="314.6" r="2.7" fill="#3e6af3"/><circle cx="623.1" cy="348.7" r="2.7" fill="#3d6ef3"/><circle cx="614.7" cy="349.3" r="2.7" fill="#3c70f3"/><circle cx="606.8" cy="349.2" r="2.7" fill="#3f66f3"/><circle cx="588.1" cy="353.4" r="2.7" fill="#3b73f4"/><circle cx="639.4" cy="324.8" r="2.7" fill="#3a78f4"/><circle cx="609.5" cy="329.5" r="2.7" fill="#4841e6"/><circle cx="613.8" cy="337" r="2.7" fill="#483ee0"/><circle cx="608" cy="309.4" r="2.7" fill="#397af4"/><circle cx="599.5" cy="313.2" r="2.7" fill="#3c73f4"/><circle cx="612.7" cy="345.2" r="2.7" fill="#484af0"/><circle cx="603.4" cy="342.7" r="2.7" fill="#4846ed"/><circle cx="607.3" cy="345.7" r="2.7" fill="#474bf0"/><circle cx="587.7" cy="333.5" r="2.7" fill="#415ef2"/><circle cx="610.9" cy="355.5" r="2.7" fill="#3e6af3"/><circle cx="606.4" cy="337.1" r="2.7" fill="#3f66f3"/><circle cx="611.3" cy="347.3" r="2.7" fill="#474cf0"/><circle cx="597.4" cy="338.8" r="2.7" fill="#474af0"/><circle cx="612.7" cy="342.2" r="2.7" fill="#4842e6"/><circle cx="607.1" cy="334.7" r="2.7" fill="#4553f1"/><circle cx="597" cy="335.5" r="2.7" fill="#474af0"/><circle cx="608.3" cy="325.4" r="2.7" fill="#4551f1"/><circle cx="602.4" cy="345" r="2.7" fill="#474af0"/><circle cx="611.7" cy="326.6" r="2.7" fill="#4849f0"/><circle cx="607.6" cy="345.2" r="2.7" fill="#474af0"/><circle cx="613.4" cy="330.6" r="2.7" fill="#4841e6"/><circle cx="600.8" cy="337.8" r="2.7" fill="#4844ea"/></g><path d="M309 199L309 461L592.5 568.5L876 462L876 200" stroke="#000" stroke-width="2.6" fill="none" stroke-linejoin="round" stroke-linecap="square"/><path d="M309 199L592.5 92.5L876 200" stroke="#000" stroke-width="2.6" fill="none" stroke-linejoin="round" stroke-linecap="square"/><path d="M309 434.8L301.5 432M337.4 471.8L329.9 474.6M620.9 557.9L628.3 560.7M309 382.4L301.5 379.6M394 493.2L386.6 496.1M677.5 536.5L685 539.4M309 330L301.5 327.2M450.8 514.8L443.3 517.6M734.2 515.2L741.7 518.1M309 277.6L301.5 274.8M507.5 536.2L500 539.1M791 493.9L798.4 496.8M309 225.2L301.5 222.4M564.1 557.8L556.7 560.6M847.6 472.6L855.1 475.5" stroke="#000" stroke-width="2.2" fill="none"/><text transform="translate(294.5 443.2) scale(1.13 1)" font-size="29" text-anchor="end" font-family="Liberation Sans, sans-serif">-4</text><text transform="translate(294.5 390.8) scale(1.13 1)" font-size="29" text-anchor="end" font-family="Liberation Sans, sans-serif">-2</text><text transform="translate(294.5 338.4) scale(1.13 1)" font-size="29" text-anchor="end" font-family="Liberation Sans, sans-serif">0</text><text transform="translate(294.5 286) scale(1.13 1)" font-size="29" text-anchor="end" font-family="Liberation Sans, sans-serif">2</text><text transform="translate(294.5 233.6) scale(1.13 1)" font-size="29" text-anchor="end" font-family="Liberation Sans, sans-serif">4</text><text transform="translate(322.9 509.5) scale(1.13 1)" font-size="29" text-anchor="end" font-family="Liberation Sans, sans-serif">-4</text><text transform="translate(379.5 531) scale(1.13 1)" font-size="29" text-anchor="end" font-family="Liberation Sans, sans-serif">-2</text><text transform="translate(436.2 552.5) scale(1.13 1)" font-size="29" text-anchor="end" font-family="Liberation Sans, sans-serif">0</text><text transform="translate(493 574) scale(1.13 1)" font-size="29" text-anchor="end" font-family="Liberation Sans, sans-serif">2</text><text transform="translate(549.6 595.5) scale(1.13 1)" font-size="29" text-anchor="end" font-family="Liberation Sans, sans-serif">4</text><text transform="translate(635.4 594.6) scale(1.13 1)" font-size="29" text-anchor="start" font-family="Liberation Sans, sans-serif">-4</text><text transform="translate(692 573.3) scale(1.13 1)" font-size="29" text-anchor="start" font-family="Liberation Sans, sans-serif">-2</text><text transform="translate(748.8 552) scale(1.13 1)" font-size="29" text-anchor="start" font-family="Liberation Sans, sans-serif">0</text><text transform="translate(805.5 530.7) scale(1.13 1)" font-size="29" text-anchor="start" font-family="Liberation Sans, sans-serif">2</text><text transform="translate(862.1 509.4) scale(1.13 1)" font-size="29" text-anchor="start" font-family="Liberation Sans, sans-serif">4</text><text x="300.3" y="621" font-size="34.5" font-family="Liberation Sans, sans-serif">East (cm)</text><text x="736.5" y="620" font-size="35" font-family="Liberation Sans, sans-serif">North (cm)</text><text transform="translate(254.5 331) rotate(-90)" font-size="34" text-anchor="middle" font-family="Liberation Sans, sans-serif">Up (cm)</text><text transform="translate(117 329.5) rotate(-90)" font-size="37" text-anchor="middle" font-family="Liberation Sans, sans-serif">3D<tspan dx="3"> (cm)</tspan></text><rect x="175.5" y="79" width="21.5" height="557.5" fill="url(#cb)"/><rect x="175.5" y="79" width="21.5" height="557.5" fill="none" stroke="#000" stroke-opacity="0.5" stroke-width="2"/><path d="M190 528.5L197 528.5" stroke="#000" stroke-opacity="0.6" stroke-width="1.6"/><text transform="translate(162.3 541.8) scale(1.1 1)" font-size="33" text-anchor="end" font-family="Liberation Sans, sans-serif">1</text><path d="M190 418L197 418" stroke="#000" stroke-opacity="0.6" stroke-width="1.6"/><text transform="translate(162.3 431.3) scale(1.1 1)" font-size="33" text-anchor="end" font-family="Liberation Sans, sans-serif">2</text><path d="M190 307.5L197 307.5" stroke="#000" stroke-opacity="0.6" stroke-width="1.6"/><text transform="translate(162.3 320.8) scale(1.1 1)" font-size="33" text-anchor="end" font-family="Liberation Sans, sans-serif">3</text><path d="M190 197L197 197" stroke="#000" stroke-opacity="0.6" stroke-width="1.6"/><text transform="translate(162.3 210.3) scale(1.1 1)" font-size="33" text-anchor="end" font-family="Liberation Sans, sans-serif">4</text><path d="M190 86.5L197 86.5" stroke="#000" stroke-opacity="0.6" stroke-width="1.6"/><text transform="translate(162.3 99.8) scale(1.1 1)" font-size="33" text-anchor="end" font-family="Liberation Sans, sans-serif">5</text><g><path d="M1005 105L1059 105L1066 250L1002 250Z" fill="url(#strapT)"/><path d="M1005 105L1002 250M1059 105L1066 250" stroke="#2a3242" stroke-width="1.2" fill="none" opacity="0.7"/><path d="M1006 372L1073 372L1071 502L1017 502Z" fill="url(#strapB)"/><path d="M1006 372L1017 502L1071 502L1073 372" stroke="#2e3440" stroke-width="1.2" fill="none" opacity="0.6"/><path d="M1003 238C998 258 975 275 975 311C975 345 995 362 1005 379L1073 379C1083 362 1101 345 1101 311C1101 275 1078 258 1068 238Z" fill="#1d2129"/><rect x="1098" y="288" width="5" height="20" rx="2" fill="#22262e"/><path d="M1006 237L1066 237L1067 253Q1038 246 1005 253Z" fill="#343d50"/><path d="M1008 373Q1038 366 1070 373L1071 380L1007 380Z" fill="#262b33"/><circle cx="1038.5" cy="310.5" r="57" fill="none" stroke="#2e333d" stroke-width="1.6"/><circle cx="1038.5" cy="310.5" r="54.8" fill="url(#scr)"/><g clip-path="url(#scrclip)"><ellipse cx="1018" cy="286" rx="34" ry="17" fill="#3a6ad8" opacity="0.35" transform="rotate(-15 1018 286)"/><path d="M980 322Q1030 312 1100 300" stroke="#0c1c66" stroke-width="9" fill="none" opacity="0.45"/><ellipse cx="1062" cy="338" rx="32" ry="24" fill="#2c60ea" opacity="0.45"/></g><path d="M1000 292Q1025 282 1040 286Q1055 280 1070 266" stroke="#7f9ff0" stroke-width="1.6" fill="none" opacity="0.75"/><circle cx="1021" cy="264" r="2.6" fill="none" stroke="#dfe8ff" stroke-width="1.1"/><rect x="1027" y="261" width="4.5" height="5.5" fill="#e8eeff"/><text x="1036" y="267" font-size="8.5" font-weight="bold" fill="#e8eeff" textLength="18" lengthAdjust="spacingAndGlyphs" font-family="Liberation Sans, sans-serif">1:14</text><text x="994" y="279" font-size="5" fill="#c8d4ff" textLength="20" lengthAdjust="spacingAndGlyphs" font-family="Liberation Sans, sans-serif">• • • • •</text><text x="987" y="297" font-size="6" font-weight="bold" fill="#d8e0ff" textLength="34" lengthAdjust="spacingAndGlyphs" font-family="Liberation Sans, sans-serif">Toitu Otago</text><text x="988" y="304.5" font-size="6" font-weight="bold" fill="#d8e0ff" textLength="43" lengthAdjust="spacingAndGlyphs" font-family="Liberation Sans, sans-serif">Settlers Museum</text><text x="998" y="346.5" font-size="5.5" font-weight="bold" fill="#d0d8ff" textLength="34" lengthAdjust="spacingAndGlyphs" font-family="Liberation Sans, sans-serif">Larnach Nat</text><text x="1005" y="353.5" font-size="5.5" font-weight="bold" fill="#d0d8ff" textLength="26" lengthAdjust="spacingAndGlyphs" font-family="Liberation Sans, sans-serif">Orchard</text><text x="1013" y="360.5" font-size="5.5" font-weight="bold" fill="#d0d8ff" textLength="16" lengthAdjust="spacingAndGlyphs" font-family="Liberation Sans, sans-serif">Park</text><path d="M1039 315C1033 307 1030.7 303 1030.7 297.5A8.3 8.3 0 0 1 1047.3 297.5C1047.3 303 1045 307 1039 315Z" fill="#ee8a48" stroke="#b85a30" stroke-width="0.6"/><circle cx="1039" cy="297.3" r="3.4" fill="#3a1a34"/><circle cx="1039.5" cy="284" r="2.6" fill="#f4d8e8"/><circle cx="1044.5" cy="356" r="5.8" fill="#bfe8e8"/><text x="992.5" y="336" font-size="21.5" fill="#dfe4ff" textLength="90" lengthAdjust="spacingAndGlyphs" font-family="Liberation Sans, sans-serif">Dunedin</text></g></svg></body></html>
